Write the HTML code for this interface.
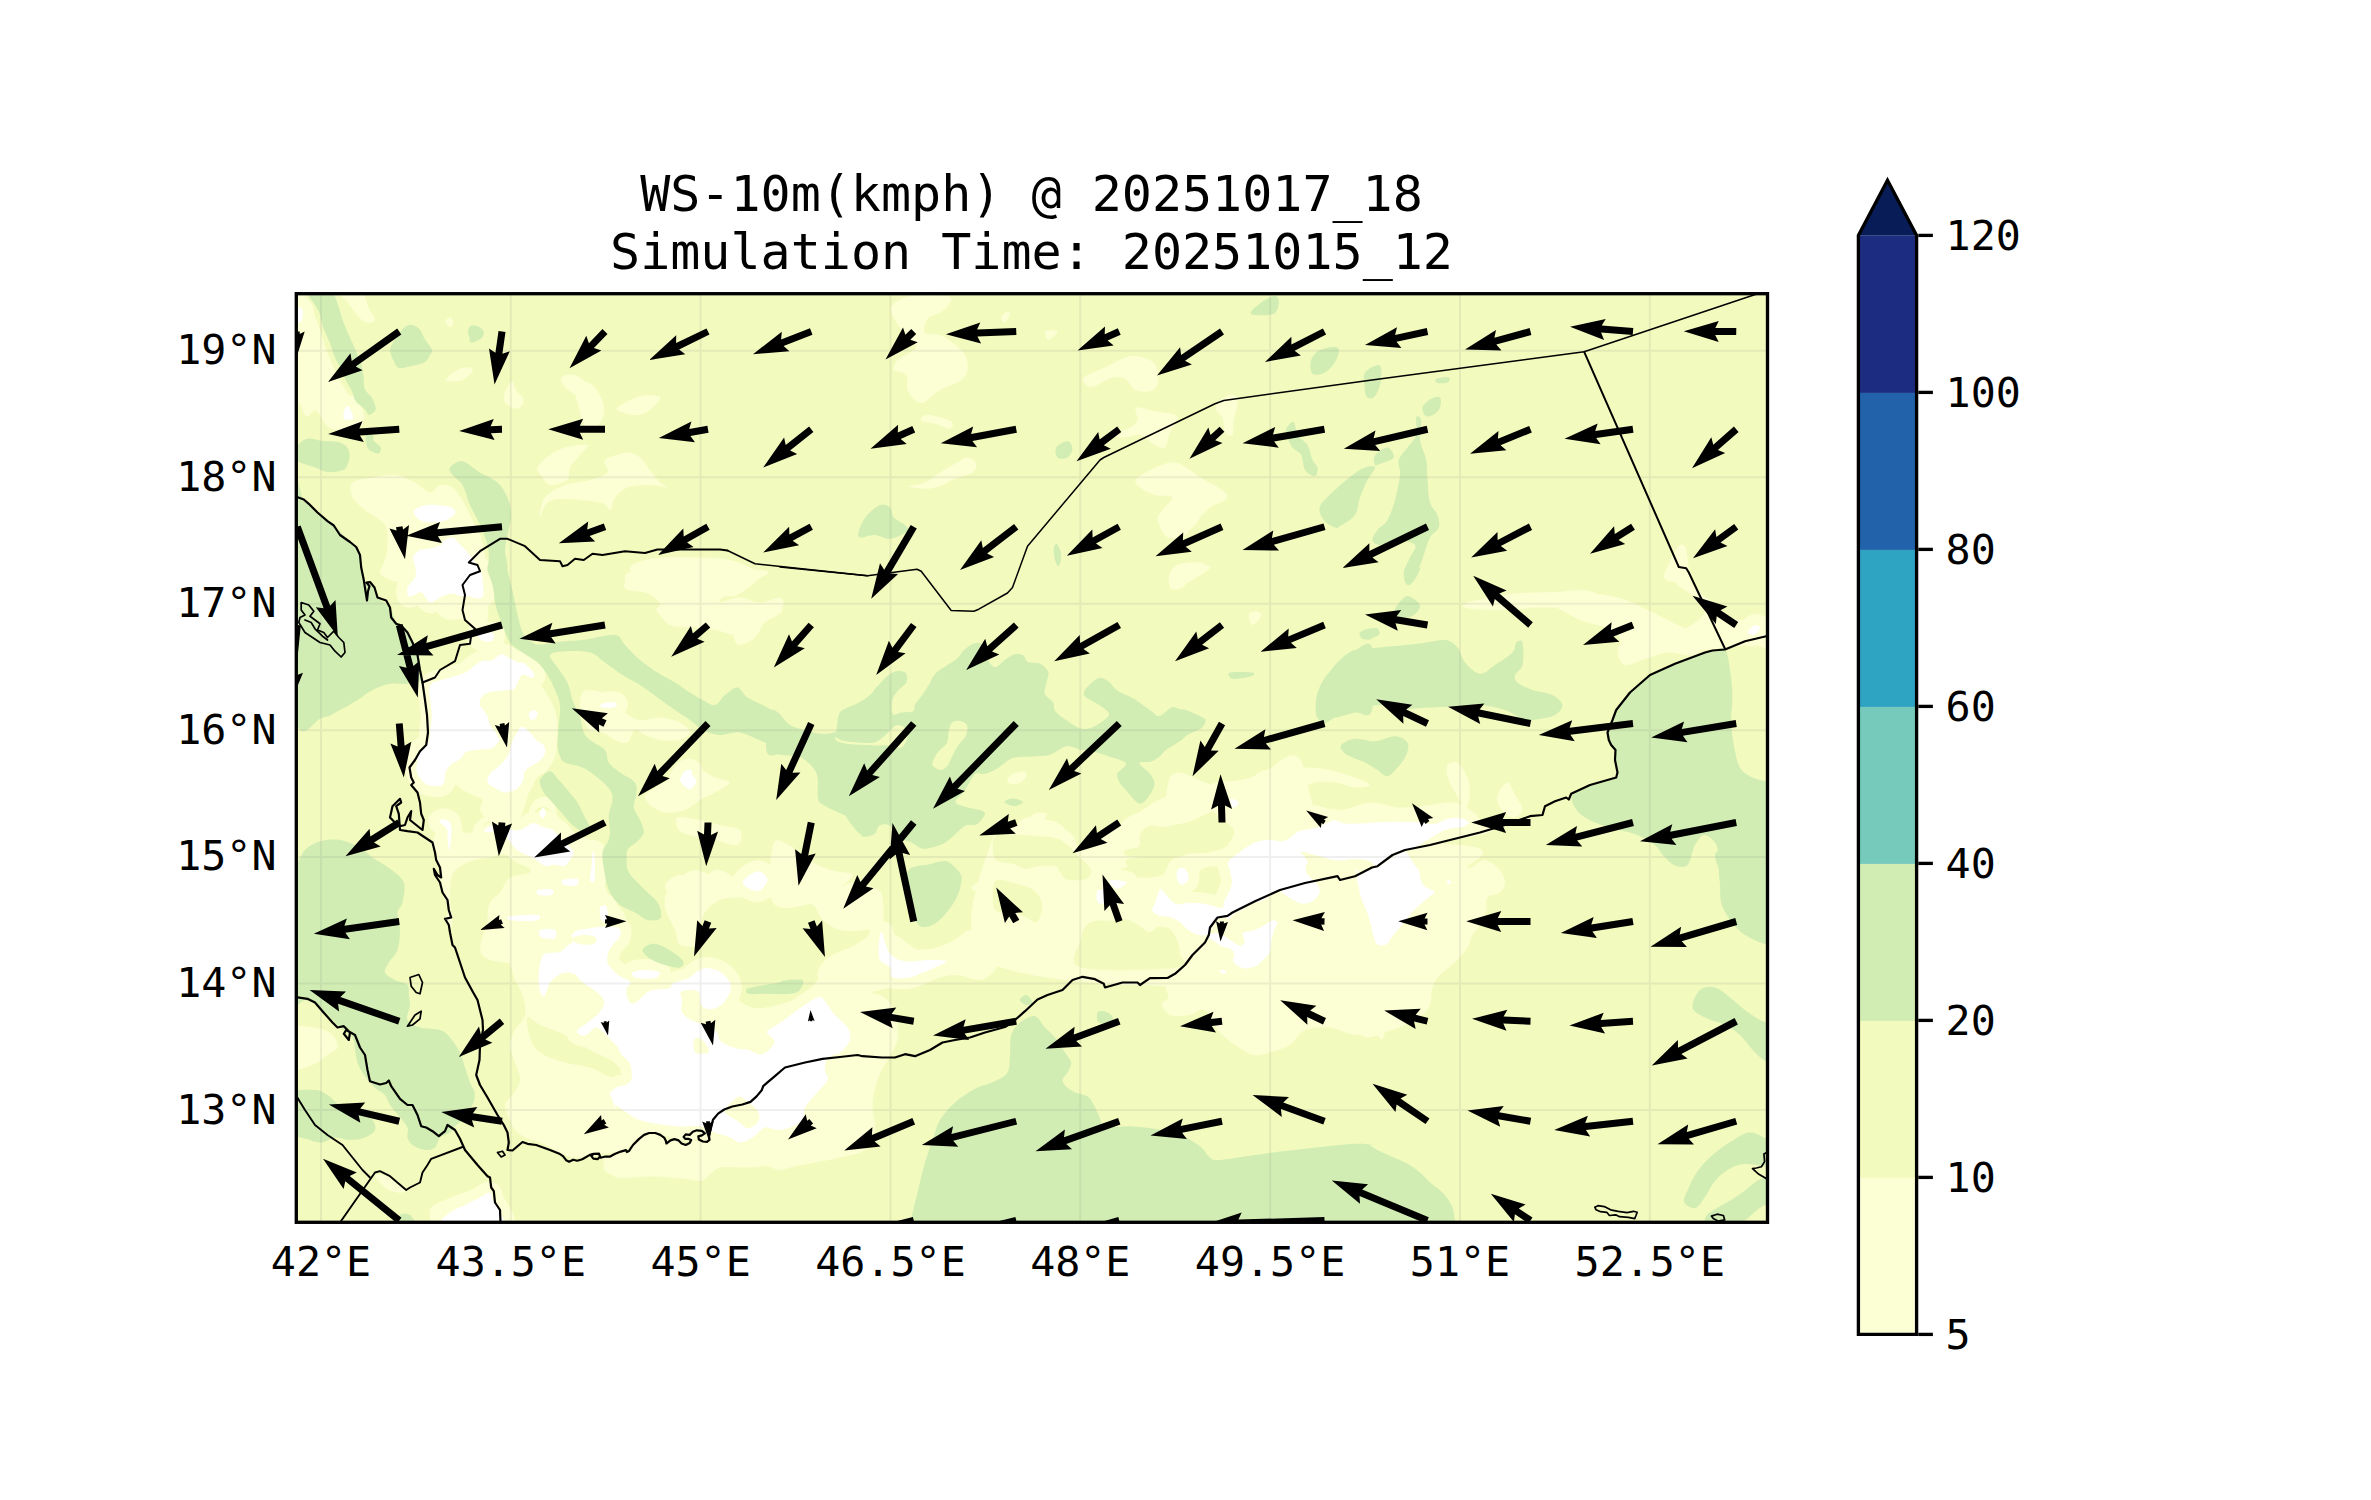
<!DOCTYPE html>
<html><head><meta charset="utf-8"><title>WS-10m(kmph)</title>
<style>html,body{margin:0;padding:0;background:#fff}svg{display:block}text{font-family:"DejaVu Sans Mono","Liberation Mono",monospace;fill:#000}</style></head>
<body>
<svg width="2371" height="1500" viewBox="0 0 2371 1500">
<rect width="2371" height="1500" fill="#fff"/>
<defs><clipPath id="ax"><rect x="296.3" y="293.7" width="1471.2" height="928.6"/></clipPath></defs>
<g clip-path="url(#ax)">
<rect x="296.3" y="293.7" width="1471.2" height="928.6" fill="#f3fabd"/>
<path fill="#fcfed3" d="M293.8 293.9C295.9 279.1 302.9 293.9 306.5 297.7C310.1 301.5 312.8 310.3 315.3 316.7C317.9 323 319.8 330 321.7 335.7C323.6 341.4 324.8 345.8 326.7 350.9C328.6 355.9 330.8 361 333.1 366.1C335.4 371.2 337.7 375.8 340.7 381.3C343.6 386.8 347.9 394 350.8 399C353.8 404.1 356.7 408.3 358.4 411.7C360.1 415.1 361.4 416.6 360.9 419.3C360.5 422 359.3 426.3 355.9 428.2C352.5 430.1 345.3 430.9 340.7 430.7C336 430.5 331.2 429 328 426.9C324.8 424.8 323.8 420.8 321.7 418C319.6 415.3 317.9 410.6 315.3 410.4C312.8 410.2 308.8 417.4 306.5 416.8C304.1 416.1 303.5 411.7 301.4 406.6C299.3 401.6 295.1 405.1 293.8 386.4C292.5 367.6 291.7 308.6 293.8 293.9ZM340.7 293.9C343.2 292.6 357.6 291.5 362.2 293.9C366.9 296.2 366.4 303.6 368.6 307.8C370.7 312 374.9 316.7 374.9 319.2C374.9 321.7 370.9 323 368.6 323C366.2 323 363.5 321.3 360.9 319.2C358.4 317.1 355.7 313.3 353.3 310.3C351 307.4 349.1 304.2 347 301.5C344.9 298.7 338.1 295.1 340.7 293.9ZM445.2 321.7C445.2 320.1 448.9 317.3 450.3 317.3C451.6 317.3 453.4 320.1 453.4 321.7C453.4 323.4 451.6 327.4 450.3 327.4C448.9 327.4 445.2 323.4 445.2 321.7ZM446.5 379.4C446.7 377.4 455.4 370.4 459.8 368.6C464.1 366.8 471.2 367.4 472.4 368.6C473.7 369.9 469.7 374.2 467.4 376.2C465 378.2 462 380.1 458.5 380.7C455 381.2 446.3 381.4 446.5 379.4ZM504.1 397.8C503.3 394.1 506.4 389.1 507.9 386.4C509.4 383.6 511.7 380.7 513 381.3C514.2 381.9 513.8 387.4 515.5 390.2C517.2 392.9 522.1 395.6 523.1 397.8C524.2 399.9 523.5 401 521.9 402.8C520.2 404.6 515.9 409.4 513 408.5C510 407.7 505 401.5 504.1 397.8ZM561.1 380C560.7 377.5 563.9 375.7 566.2 375C568.5 374.2 571.9 374.5 575.1 375.6C578.2 376.6 582 379.5 585.2 381.3C588.4 383.1 591.3 383.4 594.1 386.4C596.8 389.3 600 394.8 601.7 399C603.4 403.2 604.6 407.5 604.2 411.7C603.8 415.9 601.5 421.6 599.1 424.4C596.8 427.1 592.1 427.5 590 428.2C587.9 428.8 587.9 429.6 586.5 428.2C585 426.7 582.7 422.9 581.4 419.3C580.1 415.7 579.5 410.2 578.9 406.6C578.2 403 579.3 400.5 577.6 397.8C575.9 395 571.5 393.1 568.7 390.2C566 387.2 561.5 382.6 561.1 380ZM892.5 305C895.4 301.9 900.8 297.7 910 296.2C919.2 294.8 941 294.8 947.5 296.2C954 297.7 950 302.3 948.8 305C947.5 307.7 943.5 310.2 940 312.5C936.5 314.8 930 315.4 927.5 318.8C925 322.1 922.9 329.8 925 332.5C927.1 335.2 935.4 333.3 940 335C944.6 336.7 948.3 339.2 952.5 342.5C956.7 345.8 962.5 350.4 965 355C967.5 359.6 968.3 365.6 967.5 370C966.7 374.4 964.6 377.9 960 381.2C955.4 384.6 946 386.5 940 390C934 393.5 927.9 400.8 923.8 402.5C919.6 404.2 917.7 402.1 915 400C912.3 397.9 909 394.2 907.5 390C906 385.8 908.5 378.3 906.2 375C904 371.7 895.2 372.5 893.8 370C892.3 367.5 894.8 362.9 897.5 360C900.2 357.1 906.9 355 910 352.5C913.1 350 917.9 349.2 916.2 345C914.6 340.8 904 332.5 900 327.5C896 322.5 893.8 318.8 892.5 315C891.2 311.2 889.6 308.1 892.5 305ZM921.2 417.5C922.5 416.5 925 414.4 930 415C935 415.6 947.9 419 951.2 421.2C954.6 423.5 952.7 428.3 950 428.8C947.3 429.2 939.6 425 935 423.8C930.4 422.5 924.8 422.3 922.5 421.2C920.2 420.2 920 418.5 921.2 417.5ZM908.8 486.2C908.8 485.2 919.8 484.8 925 482.5C930.2 480.2 935 475.6 940 472.5C945 469.4 950.4 466.2 955 463.8C959.6 461.2 964 457.5 967.5 457.5C971 457.5 975.4 461.2 976.2 463.8C977.1 466.2 976 470 972.5 472.5C969 475 960.4 476.5 955 478.8C949.6 481 945 484.6 940 486.2C935 487.9 930.2 488.8 925 488.8C919.8 488.8 908.8 487.3 908.8 486.2ZM1083.8 377.5C1086.7 374.4 1097.3 371 1105 367.5C1112.7 364 1122.5 357.5 1130 356.2C1137.5 355 1145.4 357.7 1150 360C1154.6 362.3 1156.2 365.8 1157.5 370C1158.8 374.2 1158.8 381.5 1157.5 385C1156.2 388.5 1153.8 390.4 1150 391.2C1146.2 392.1 1139.2 392.1 1135 390C1130.8 387.9 1128.8 380.8 1125 378.8C1121.2 376.7 1117.1 376.5 1112.5 377.5C1107.9 378.5 1101.7 383.5 1097.5 385C1093.3 386.5 1089.8 387.5 1087.5 386.2C1085.2 385 1080.8 380.6 1083.8 377.5ZM1136.2 407.5C1139.2 406 1148.1 409.8 1155 411.2C1161.9 412.7 1175 412.7 1177.5 416.2C1180 419.8 1172.1 427.3 1170 432.5C1167.9 437.7 1167.5 445.4 1165 447.5C1162.5 449.6 1159.2 447.1 1155 445C1150.8 442.9 1145 436.2 1140 435C1135 433.8 1129.6 437.5 1125 437.5C1120.4 437.5 1111.7 436.7 1112.5 435C1113.3 433.3 1125.8 430 1130 427.5C1134.2 425 1136.5 423.3 1137.5 420C1138.5 416.7 1133.3 409 1136.2 407.5ZM1216.2 405C1217.5 401.2 1226.5 395.4 1230 395C1233.5 394.6 1236.9 398.3 1237.5 402.5C1238.1 406.7 1234.6 414.6 1233.8 420C1232.9 425.4 1234 432.9 1232.5 435C1231 437.1 1226.7 435.4 1225 432.5C1223.3 429.6 1224 422.1 1222.5 417.5C1221 412.9 1215 408.8 1216.2 405ZM1137.5 477.5C1142.5 473.3 1161.2 463.8 1170 462.5C1178.8 461.2 1184.2 466.7 1190 470C1195.8 473.3 1198.8 478.3 1205 482.5C1211.2 486.7 1226.7 490.8 1227.5 495C1228.3 499.2 1215.8 502.5 1210 507.5C1204.2 512.5 1196.7 520.4 1192.5 525C1188.3 529.6 1189.2 532.9 1185 535C1180.8 537.1 1172.1 540 1167.5 537.5C1162.9 535 1158.3 524.6 1157.5 520C1156.7 515.4 1160 513.8 1162.5 510C1165 506.2 1173.8 500 1172.5 497.5C1171.2 495 1160.4 496.7 1155 495C1149.6 493.3 1142.9 490.4 1140 487.5C1137.1 484.6 1132.5 481.7 1137.5 477.5ZM1168.8 577.5C1169.4 573.8 1171.5 568.8 1175 566.2C1178.5 563.8 1185 562.9 1190 562.5C1195 562.1 1204.6 561.7 1205 563.8C1205.4 565.8 1196.2 571 1192.5 575C1188.8 579 1186 585.2 1182.5 587.5C1179 589.8 1173.5 590.4 1171.2 588.8C1169 587.1 1168.1 581.2 1168.8 577.5ZM1250 612.5C1251.5 610.8 1260.8 612.9 1261.2 615C1261.7 617.1 1254.4 625.4 1252.5 625C1250.6 624.6 1248.5 614.2 1250 612.5ZM1001.2 317.5C1001.7 315.6 1006 311.7 1007.5 311.2C1009 310.8 1010.4 313.1 1010 315C1009.6 316.9 1006.5 322.1 1005 322.5C1003.5 322.9 1000.8 319.4 1001.2 317.5ZM1045 331.2C1046.5 329.8 1056.9 329.8 1057.5 331.2C1058.1 332.7 1050.8 340 1048.8 340C1046.7 340 1043.5 332.7 1045 331.2ZM561.2 377.5C562.9 375.4 570.6 373.8 575 375C579.4 376.2 583.8 380.8 587.5 385C591.2 389.2 595 394.6 597.5 400C600 405.4 603.3 413.3 602.5 417.5C601.7 421.7 596.2 426.2 592.5 425C588.8 423.8 582.9 415 580 410C577.1 405 577.5 398.8 575 395C572.5 391.2 567.3 390.4 565 387.5C562.7 384.6 559.6 379.6 561.2 377.5ZM617.5 407.5C620.4 404.8 632.9 397.9 640 396.2C647.1 394.6 658.3 395.2 660 397.5C661.7 399.8 653.8 407.1 650 410C646.2 412.9 642.1 414.6 637.5 415C632.9 415.4 625.8 413.8 622.5 412.5C619.2 411.2 614.6 410.2 617.5 407.5ZM446.2 378.8C448.8 376.5 460.6 368.8 465 367.5C469.4 366.2 472.9 369.2 472.5 371.2C472.1 373.3 466.2 378.3 462.5 380C458.8 381.7 452.7 381.5 450 381.2C447.3 381 443.8 381 446.2 378.8ZM505 395C506 391.7 509.2 382.9 511.2 382.5C513.3 382.1 515.4 389.2 517.5 392.5C519.6 395.8 524.2 399.8 523.8 402.5C523.3 405.2 518.1 408.8 515 408.8C511.9 408.8 506.7 404.8 505 402.5C503.3 400.2 504 398.3 505 395ZM537.5 467.5C538.8 463.8 545.4 458.3 550 455C554.6 451.7 558.8 449.2 565 447.5C571.2 445.8 585 443.8 587.5 445C590 446.2 582.9 451.2 580 455C577.1 458.8 572.1 463.3 570 467.5C567.9 471.7 570.8 477.1 567.5 480C564.2 482.9 554.2 485.4 550 485C545.8 484.6 544.6 480.4 542.5 477.5C540.4 474.6 536.2 471.2 537.5 467.5ZM605 460C608.3 456.7 621.7 452.9 627.5 452.5C633.3 452.1 636.2 454.6 640 457.5C643.8 460.4 646.7 465.8 650 470C653.3 474.2 657.1 479.6 660 482.5C662.9 485.4 669.2 487.1 667.5 487.5C665.8 487.9 656.7 485 650 485C643.3 485 633.3 485.4 627.5 487.5C621.7 489.6 617.9 493.8 615 497.5C612.1 501.2 612.5 509.2 610 510C607.5 510.8 609.6 504.2 600 502.5C590.4 500.8 562.5 497.5 552.5 500C542.5 502.5 541.2 517.9 540 517.5C538.8 517.1 540.8 502.9 545 497.5C549.2 492.1 557.5 487.9 565 485C572.5 482.1 582.9 482.1 590 480C597.1 477.9 605 475.8 607.5 472.5C610 469.2 601.7 463.3 605 460ZM630 567.5C630.8 563.8 639.2 561.7 645 560C650.8 558.3 656.7 557.9 665 557.5C673.3 557.1 684.2 557.1 695 557.5C705.8 557.9 719.6 557.5 730 560C740.4 562.5 755.8 569.2 757.5 572.5C759.2 575.8 747.1 577.1 740 580C732.9 582.9 723.3 587.9 715 590C706.7 592.1 698.3 592.9 690 592.5C681.7 592.1 673.3 589.2 665 587.5C656.7 585.8 645.8 585.8 640 582.5C634.2 579.2 629.2 571.2 630 567.5ZM657.5 607.5C660.8 605.4 672.9 602.5 680 602.5C687.1 602.5 693.3 607.5 700 607.5C706.7 607.5 713.3 604.2 720 602.5C726.7 600.8 733.3 597.5 740 597.5C746.7 597.5 753.3 602.5 760 602.5C766.7 602.5 776.2 596.7 780 597.5C783.8 598.3 785 604.2 782.5 607.5C780 610.8 770.8 613.8 765 617.5C759.2 621.2 752.5 627.1 747.5 630C742.5 632.9 740.4 635 735 635C729.6 635 722.5 631.2 715 630C707.5 628.8 697.5 628.3 690 627.5C682.5 626.7 675 627.1 670 625C665 622.9 662.1 617.9 660 615C657.9 612.1 654.2 609.6 657.5 607.5ZM352.5 482.5C355.8 479.2 365.4 478.8 372.5 477.5C379.6 476.2 387.9 474.2 395 475C402.1 475.8 409.2 479.6 415 482.5C420.8 485.4 425.8 492.1 430 492.5C434.2 492.9 436.2 485.8 440 485C443.8 484.2 448.8 485 452.5 487.5C456.2 490 459.6 495.4 462.5 500C465.4 504.6 467.1 509.2 470 515C472.9 520.8 477.5 528.3 480 535C482.5 541.7 483.8 549.2 485 555C486.2 560.8 487.1 562.9 487.5 570C487.9 577.1 487.5 589.2 487.5 597.5C487.5 605.8 489.4 614.8 487.5 620C485.6 625.2 480 628.8 476.2 628.8C472.5 628.8 470.2 621.7 465 620C459.8 618.3 450.8 621.2 445 618.8C439.2 616.2 435 608.5 430 605C425 601.5 418.8 600.8 415 597.5C411.2 594.2 411.7 587.9 407.5 585C403.3 582.1 394.6 582.1 390 580C385.4 577.9 380.8 575.8 380 572.5C379.2 569.2 383.8 564.6 385 560C386.2 555.4 387.5 550.8 387.5 545C387.5 539.2 388.8 530.8 385 525C381.2 519.2 370.4 514.6 365 510C359.6 505.4 354.6 502.1 352.5 497.5C350.4 492.9 349.2 485.8 352.5 482.5ZM425 682.5C427.2 676.7 434.2 682.1 440 680C445.8 677.9 453.3 672.9 460 670C466.7 667.1 472.9 665.4 480 662.5C487.1 659.6 496.7 652.9 502.5 652.5C508.3 652.1 510.4 656.7 515 660C519.6 663.3 525.4 667.9 530 672.5C534.6 677.1 538.3 681.2 542.5 687.5C546.7 693.8 552.5 702.5 555 710C557.5 717.5 557.5 725 557.5 732.5C557.5 740 556.7 748.8 555 755C553.3 761.2 550.4 766.2 547.5 770C544.6 773.8 540.4 774.2 537.5 777.5C534.6 780.8 532.1 785.4 530 790C527.9 794.6 526.7 800.4 525 805C523.3 809.6 522.5 814.6 520 817.5C517.5 820.4 515 822.1 510 822.5C505 822.9 495 822.1 490 820C485 817.9 481.2 813.3 480 810C478.8 806.7 483.8 802.5 482.5 800C481.2 797.5 475.8 796.7 472.5 795C469.2 793.3 465.4 791.7 462.5 790C459.6 788.3 458.8 785.6 455 785C451.2 784.4 444.2 786.2 440 786.2C435.8 786.2 433.3 787.7 430 785C426.7 782.3 422.5 774.2 420 770C417.5 765.8 414 764.2 415 760C416 755.8 424.1 749.6 426.2 745C428.4 740.4 427.9 737.5 428 732.5C428.1 727.5 427.5 723.3 427 715C426.5 706.7 422.8 688.3 425 682.5ZM440 820C442.5 818.8 448.3 820.4 452.5 822.5C456.7 824.6 460.4 831.2 465 832.5C469.6 833.8 475.8 831.7 480 830C484.2 828.3 485 823.3 490 822.5C495 821.7 503.8 825.4 510 825C516.2 824.6 522.5 822.5 527.5 820C532.5 817.5 535.8 811.2 540 810C544.2 808.8 548.3 810.4 552.5 812.5C556.7 814.6 560.8 818.8 565 822.5C569.2 826.2 573.3 832.1 577.5 835C581.7 837.9 585.8 837.1 590 840C594.2 842.9 600.4 847.5 602.5 852.5C604.6 857.5 601.9 863.8 602.5 870C603.1 876.2 604.2 884.6 606.2 890C608.3 895.4 611.9 898.3 615 902.5C618.1 906.7 623.8 910.4 625 915C626.2 919.6 624.2 925 622.5 930C620.8 935 617.1 940 615 945C612.9 950 630.8 957.5 610 960C589.2 962.5 510.4 966.7 490 960C469.6 953.3 487.5 929.6 487.5 920C487.5 910.4 487.9 907.1 490 902.5C492.1 897.9 496.7 896.7 500 892.5C503.3 888.3 505 880.8 510 877.5C515 874.2 527.5 875 530 872.5C532.5 870 529.2 865.4 525 862.5C520.8 859.6 510.8 855.8 505 855C499.2 854.2 495 856.7 490 857.5C485 858.3 479.6 858.8 475 860C470.4 861.2 466.2 862.5 462.5 865C458.8 867.5 454.6 870 452.5 875C450.4 880 450 887.5 450 895C450 902.5 452.5 914.2 452.5 920C452.5 925.8 451.2 930.2 450 930C448.8 929.8 445.2 922.1 445 918.8C444.8 915.4 449.2 914.4 448.8 910C448.3 905.6 444 899.6 442.5 892.5C441 885.4 441 872.9 440 867.5C439 862.1 437.5 864.2 436.2 860C435 855.8 432.3 847.5 432.5 842.5C432.7 837.5 436.2 833.8 437.5 830C438.8 826.2 437.5 821.2 440 820ZM581.2 695C582.5 692.1 584 690.4 587.5 690C591 689.6 597.5 690.8 602.5 692.5C607.5 694.2 613.8 696.7 617.5 700C621.2 703.3 621.2 709.2 625 712.5C628.8 715.8 634.2 719.2 640 720C645.8 720.8 653.3 717.1 660 717.5C666.7 717.9 675 720 680 722.5C685 725 690 729.6 690 732.5C690 735.4 685 738.8 680 740C675 741.2 665.8 740.8 660 740C654.2 739.2 649.2 736.7 645 735C640.8 733.3 637.9 728.8 635 730C632.1 731.2 630.8 740.8 627.5 742.5C624.2 744.2 619.2 741.7 615 740C610.8 738.3 606.7 734.2 602.5 732.5C598.3 730.8 593.1 732.1 590 730C586.9 727.9 585.4 723.8 583.8 720C582.1 716.2 580.4 711.7 580 707.5C579.6 703.3 580 697.9 581.2 695ZM645 795C646.7 791.7 654.2 789.2 660 785C665.8 780.8 675 774.2 680 770C685 765.8 686.2 760 690 760C693.8 760 698.3 767.1 702.5 770C706.7 772.9 710.4 775.4 715 777.5C719.6 779.6 730 780 730 782.5C730 785 720 789.6 715 792.5C710 795.4 705 797.1 700 800C695 802.9 690.8 807.9 685 810C679.2 812.1 670.8 813.3 665 812.5C659.2 811.7 653.3 807.9 650 805C646.7 802.1 643.3 798.3 645 795ZM625 582.5C627.1 579.2 617.5 572.1 640 570C662.5 567.9 740.4 568.3 760 570C779.6 571.7 761.2 575.8 757.5 580C753.8 584.2 743.3 592.1 737.5 595C731.7 597.9 726.2 595 722.5 597.5C718.8 600 718.8 606.7 715 610C711.2 613.3 705.8 615.4 700 617.5C694.2 619.6 685.8 622.9 680 622.5C674.2 622.1 668.8 618.8 665 615C661.2 611.2 660.8 603.8 657.5 600C654.2 596.2 650 594.2 645 592.5C640 590.8 630.8 591.7 627.5 590C624.2 588.3 622.9 585.8 625 582.5ZM735 627.5C737.3 624.2 742.5 620.8 747.5 617.5C752.5 614.2 759.6 610 765 607.5C770.4 605 777.3 601.7 780 602.5C782.7 603.3 783.8 609.2 781.2 612.5C778.8 615.8 769.4 618.3 765 622.5C760.6 626.7 759.2 633.8 755 637.5C750.8 641.2 743.5 645 740 645C736.5 645 734.6 640.4 733.8 637.5C732.9 634.6 732.7 630.8 735 627.5ZM667.5 890C670 885 675.4 880.8 680 877.5C684.6 874.2 689.2 870 695 870C700.8 870 709.2 875 715 877.5C720.8 880 724.6 885 730 885C735.4 885 741.7 879.6 747.5 877.5C753.3 875.4 759.6 871.2 765 872.5C770.4 873.8 774.2 881.7 780 885C785.8 888.3 794.2 890.4 800 892.5C805.8 894.6 810 897.5 815 897.5C820 897.5 823.8 895 830 892.5C836.2 890 845.4 883.3 852.5 882.5C859.6 881.7 867.6 885.4 872.5 887.5C877.4 889.6 880.4 888.8 882 895C883.6 901.2 884.8 919.2 882 925C879.2 930.8 872 929.2 865 930C858 930.8 847.1 931.7 840 930C832.9 928.3 827.1 924.2 822.5 920C817.9 915.8 817.9 907.9 812.5 905C807.1 902.1 797.9 903.8 790 902.5C782.1 901.2 773.3 898.3 765 897.5C756.7 896.7 747.5 897.1 740 897.5C732.5 897.9 725.8 897.5 720 900C714.2 902.5 708.3 907.5 705 912.5C701.7 917.5 700.8 924.6 700 930C699.2 935.4 703.3 942.5 700 945C696.7 947.5 684.2 947.5 680 945C675.8 942.5 677.5 936.2 675 930C672.5 923.8 666.2 914.2 665 907.5C663.8 900.8 665 895 667.5 890ZM677.5 817.5C681 815.8 692.9 818.8 700 820C707.1 821.2 713.3 823.3 720 825C726.7 826.7 737.1 826.7 740 830C742.9 833.3 741.7 843.3 737.5 845C733.3 846.7 722.9 841.7 715 840C707.1 838.3 696 836.7 690 835C684 833.3 680.8 832.9 678.8 830C676.7 827.1 674 819.2 677.5 817.5ZM985 880C985.8 875 990 868.3 995 865C1000 861.7 1009.2 859.2 1015 860C1020.8 860.8 1025.8 865.8 1030 870C1034.2 874.2 1037.9 879.2 1040 885C1042.1 890.8 1043.3 898.8 1042.5 905C1041.7 911.2 1037.9 921.2 1035 922.5C1032.1 923.8 1030 916.2 1025 912.5C1020 908.8 1010.8 902.9 1005 900C999.2 897.1 993.3 898.3 990 895C986.7 891.7 984.2 885 985 880ZM837.5 952.5C842.5 950 847.9 948.8 855 945C862.1 941.2 872.5 931.2 880 930C887.5 928.8 893.3 934.2 900 937.5C906.7 940.8 911.7 949.2 920 950C928.3 950.8 941.7 945.8 950 942.5C958.3 939.2 963.3 930.8 970 930C976.7 929.2 985 933.3 990 937.5C995 941.7 999.2 949.6 1000 955C1000.8 960.4 998.3 965.8 995 970C991.7 974.2 986.7 979.2 980 980C973.3 980.8 963.3 975 955 975C946.7 975 938.3 978.3 930 980C921.7 981.7 913.3 983.3 905 985C896.7 986.7 888.3 988.3 880 990C871.7 991.7 863.3 995 855 995C846.7 995 836.2 993.3 830 990C823.8 986.7 818.3 980 817.5 975C816.7 970 821.7 963.8 825 960C828.3 956.2 832.5 955 837.5 952.5ZM1090 942.5C1091.2 940 1097.9 938.8 1102.5 940C1107.1 941.2 1114.6 946.7 1117.5 950C1120.4 953.3 1121.7 957.9 1120 960C1118.3 962.1 1111.7 963.3 1107.5 962.5C1103.3 961.7 1097.9 958.3 1095 955C1092.1 951.7 1088.8 945 1090 942.5ZM1155 855C1169.2 852.5 1217.9 850.8 1230 855C1242.1 859.2 1231.7 871.7 1227.5 880C1223.3 888.3 1207.9 897.1 1205 905C1202.1 912.9 1210 921.2 1210 927.5C1210 933.8 1207.9 937.9 1205 942.5C1202.1 947.1 1195.8 951.2 1192.5 955C1189.2 958.8 1187.9 961.9 1185 965C1182.1 968.1 1177.9 971.6 1175 973.8C1172.1 975.9 1170.8 979.9 1167.5 978C1164.2 976.1 1157.9 969.2 1155 962.5C1152.1 955.8 1150 946.7 1150 937.5C1150 928.3 1156.2 915.4 1155 907.5C1153.8 899.6 1144.2 896.2 1142.5 890C1140.8 883.8 1142.9 875.8 1145 870C1147.1 864.2 1140.8 857.5 1155 855ZM1162.5 1002.5C1164.2 999.2 1174.2 997.9 1180 995C1185.8 992.1 1192.5 988.3 1197.5 985C1202.5 981.7 1204.6 977.1 1210 975C1215.4 972.9 1222.5 972.5 1230 972.5C1237.5 972.5 1248.3 977.1 1255 975C1261.7 972.9 1267.5 966.2 1270 960C1272.5 953.8 1268.8 943.8 1270 937.5C1271.2 931.2 1271.7 926.7 1277.5 922.5C1283.3 918.3 1296.2 915.4 1305 912.5C1313.8 909.6 1321.7 907.1 1330 905C1338.3 902.9 1348 901.2 1355 900C1362 898.8 1367 897.9 1372 897.5C1377 897.1 1382.8 875.4 1385 897.5C1387.2 919.6 1387.2 1007.9 1385 1030C1382.8 1052.1 1377 1029.2 1372 1030C1367 1030.8 1362 1035.4 1355 1035C1348 1034.6 1338.3 1028.3 1330 1027.5C1321.7 1026.7 1311.7 1027.1 1305 1030C1298.3 1032.9 1295.8 1041.2 1290 1045C1284.2 1048.8 1275.8 1050.8 1270 1052.5C1264.2 1054.2 1260.8 1056.2 1255 1055C1249.2 1053.8 1241.2 1049.2 1235 1045C1228.8 1040.8 1222.5 1035.8 1217.5 1030C1212.5 1024.2 1209.6 1012.5 1205 1010C1200.4 1007.5 1195.8 1014.2 1190 1015C1184.2 1015.8 1174.6 1017.1 1170 1015C1165.4 1012.9 1160.8 1005.8 1162.5 1002.5ZM770 1070C775.8 1053.8 795.8 1063.8 805 1062.5C814.2 1061.2 818.8 1063.1 825 1062.5C831.2 1061.9 836.2 1059.6 842.5 1058.8C848.8 1057.9 860.4 1054 862.5 1057.5C864.6 1061 857.9 1072.1 855 1080C852.1 1087.9 849.2 1097.5 845 1105C840.8 1112.5 834.6 1117.5 830 1125C825.4 1132.5 821.7 1145 817.5 1150C813.3 1155 812.9 1153.3 805 1155C797.1 1156.7 775.8 1174.2 770 1160C764.2 1145.8 764.2 1086.2 770 1070ZM1170 845C1218.3 818.3 1410.4 841.2 1460 845C1509.6 848.8 1463.3 865 1467.5 867.5C1471.7 870 1479.6 859.6 1485 860C1490.4 860.4 1496.7 866.2 1500 870C1503.3 873.8 1505 878.8 1505 882.5C1505 886.2 1502.9 890 1500 892.5C1497.1 895 1489.8 894.6 1487.5 897.5C1485.2 900.4 1487.5 905.4 1486.2 910C1485 914.6 1482.3 920.8 1480 925C1477.7 929.2 1474.6 931.2 1472.5 935C1470.4 938.8 1470.4 942.9 1467.5 947.5C1464.6 952.1 1459.6 957.9 1455 962.5C1450.4 967.1 1443.8 970.8 1440 975C1436.2 979.2 1434.2 982.5 1432.5 987.5C1430.8 992.5 1432.1 1000 1430 1005C1427.9 1010 1424.2 1014.2 1420 1017.5C1415.8 1020.8 1410.8 1022.5 1405 1025C1399.2 1027.5 1391.2 1030.4 1385 1032.5C1378.8 1034.6 1372.5 1037.9 1367.5 1037.5C1362.5 1037.1 1358.8 1033.8 1355 1030C1351.2 1026.2 1349.2 1019.2 1345 1015C1340.8 1010.8 1334.2 1006.5 1330 1005C1325.8 1003.5 1324.2 1004.6 1320 1006.2C1315.8 1007.9 1309.6 1010.2 1305 1015C1300.4 1019.8 1296.7 1029.6 1292.5 1035C1288.3 1040.4 1286.2 1044.2 1280 1047.5C1273.8 1050.8 1261.7 1055 1255 1055C1248.3 1055 1245 1050.8 1240 1047.5C1235 1044.2 1229.6 1040.4 1225 1035C1220.4 1029.6 1215.8 1020 1212.5 1015C1209.2 1010 1208.8 1008.1 1205 1005C1201.2 1001.9 1195.8 996.2 1190 996.2C1184.2 996.2 1173.3 1030.2 1170 1005C1166.7 979.8 1121.7 871.7 1170 845ZM1275 780C1275 775.8 1280 772.1 1285 770C1290 767.9 1297.5 767.5 1305 767.5C1312.5 767.5 1321.7 768.3 1330 770C1338.3 771.7 1348.3 775 1355 777.5C1361.7 780 1370 783.3 1370 785C1370 786.7 1360.8 787.9 1355 787.5C1349.2 787.1 1341.7 783.3 1335 782.5C1328.3 781.7 1321.2 781.2 1315 782.5C1308.8 783.8 1302.5 787.9 1297.5 790C1292.5 792.1 1288.8 796.7 1285 795C1281.2 793.3 1275 784.2 1275 780ZM1447.5 765C1449.2 762.5 1454.2 760.4 1457.5 762.5C1460.8 764.6 1465.4 772.1 1467.5 777.5C1469.6 782.9 1470.4 790 1470 795C1469.6 800 1467.5 807.9 1465 807.5C1462.5 807.1 1457.9 797.5 1455 792.5C1452.1 787.5 1448.8 782.1 1447.5 777.5C1446.2 772.9 1445.8 767.5 1447.5 765ZM1497.5 795C1498.8 790.8 1504.6 782.5 1507.5 782.5C1510.4 782.5 1512.5 790.4 1515 795C1517.5 799.6 1522.9 806.2 1522.5 810C1522.1 813.8 1516.2 817.9 1512.5 817.5C1508.8 817.1 1502.5 811.2 1500 807.5C1497.5 803.8 1496.2 799.2 1497.5 795ZM1170 777.5C1175.8 765 1195 779.6 1205 782.5C1215 785.4 1224.6 791.2 1230 795C1235.4 798.8 1235.8 799.2 1237.5 805C1239.2 810.8 1243.3 823.3 1240 830C1236.7 836.7 1229.2 840.4 1217.5 845C1205.8 849.6 1177.9 868.8 1170 857.5C1162.1 846.2 1164.2 790 1170 777.5ZM1467.5 602.5C1471.7 600.4 1493.8 596.7 1505 595C1516.2 593.3 1522.5 592.9 1535 592.5C1547.5 592.1 1566.2 591.7 1580 592.5C1593.8 593.3 1607.1 595 1617.5 597.5C1627.9 600 1634.2 603.8 1642.5 607.5C1650.8 611.2 1659.2 615.8 1667.5 620C1675.8 624.2 1686.2 628.3 1692.5 632.5C1698.8 636.7 1705 641.2 1705 645C1705 648.8 1698.8 653.8 1692.5 655C1686.2 656.2 1675.8 651.7 1667.5 652.5C1659.2 653.3 1649.6 657.9 1642.5 660C1635.4 662.1 1629.2 666.2 1625 665C1620.8 663.8 1618.3 657.1 1617.5 652.5C1616.7 647.9 1622.1 641.7 1620 637.5C1617.9 633.3 1611.7 630.4 1605 627.5C1598.3 624.6 1588.3 623.3 1580 620C1571.7 616.7 1563.3 610 1555 607.5C1546.7 605 1538.3 605.4 1530 605C1521.7 604.6 1513.3 604.6 1505 605C1496.7 605.4 1486.2 607.9 1480 607.5C1473.8 607.1 1463.3 604.6 1467.5 602.5ZM1225 865C1226.2 855.8 1232.5 847.5 1237.5 840C1242.5 832.5 1247.9 825 1255 820C1262.1 815 1270.8 812.5 1280 810C1289.2 807.5 1300 805 1310 805C1320 805 1330 810.4 1340 810C1350 809.6 1360 802.9 1370 802.5C1380 802.1 1390 807.1 1400 807.5C1410 807.9 1420.8 805.8 1430 805C1439.2 804.2 1448.3 801.7 1455 802.5C1461.7 803.3 1465.8 807.1 1470 810C1474.2 812.9 1476.2 816.7 1480 820C1483.8 823.3 1492.5 827.5 1492.5 830C1492.5 832.5 1486.2 833.3 1480 835C1473.8 836.7 1463.3 837.9 1455 840C1446.7 842.1 1438.3 845.4 1430 847.5C1421.7 849.6 1413.3 848.8 1405 852.5C1396.7 856.2 1388.3 865.4 1380 870C1371.7 874.6 1367.5 877.5 1355 880C1342.5 882.5 1321.7 881.2 1305 885C1288.3 888.8 1267.5 900.8 1255 902.5C1242.5 904.2 1235 901.2 1230 895C1225 888.8 1223.8 874.2 1225 865ZM1616.2 753.8C1617.5 752.5 1624 757.3 1625 760C1626 762.7 1623.8 768.8 1622.5 770C1621.2 771.2 1618.5 770.2 1617.5 767.5C1616.5 764.8 1615 755 1616.2 753.8ZM1467.5 603.8C1477.5 601.7 1511.2 598.5 1530 596.2C1548.8 594 1567.5 589.8 1580 590C1592.5 590.2 1594.6 592.9 1605 597.5C1615.4 602.1 1635 612.5 1642.5 617.5C1650 622.5 1645.4 624.6 1650 627.5C1654.6 630.4 1662.5 635.8 1670 635C1677.5 634.2 1689.2 626.7 1695 622.5C1700.8 618.3 1705 614.2 1705 610C1705 605.8 1699.6 601.7 1695 597.5C1690.4 593.3 1680.6 587.5 1677.5 585C1674.4 582.5 1678.1 583.3 1676.2 582.5C1674.4 581.7 1668.1 581.7 1666.2 580C1664.4 578.3 1663.1 577.9 1665 572.5C1666.9 567.1 1674.2 551.9 1677.5 547.5C1680.8 543.1 1683.3 544.6 1685 546.2C1686.7 547.9 1686.2 551 1687.5 557.5C1688.8 564 1688.8 577.9 1692.5 585C1696.2 592.1 1703.8 594.6 1710 600C1716.2 605.4 1722.5 614.2 1730 617.5C1737.5 620.8 1747.5 620 1755 620C1762.5 620 1771.7 612.5 1775 617.5C1778.3 622.5 1778.3 645.4 1775 650C1771.7 654.6 1762.5 645.4 1755 645C1747.5 644.6 1738.3 646.7 1730 647.5C1721.7 648.3 1713.3 649.2 1705 650C1696.7 650.8 1688.3 653.3 1680 652.5C1671.7 651.7 1663.3 647.9 1655 645C1646.7 642.1 1638.3 639.2 1630 635C1621.7 630.8 1613.3 624.2 1605 620C1596.7 615.8 1590.4 612.1 1580 610C1569.6 607.9 1555 607.5 1542.5 607.5C1530 607.5 1517.1 609.8 1505 610C1492.9 610.2 1476.2 609.8 1470 608.8C1463.8 607.7 1457.5 605.8 1467.5 603.8ZM1175 467.5C1179.2 458.3 1191.2 472.7 1200 477.5C1208.8 482.3 1226.7 490.8 1227.5 496.2C1228.3 501.7 1210.4 505.2 1205 510C1199.6 514.8 1200 521.2 1195 525C1190 528.8 1178.3 542.1 1175 532.5C1171.7 522.9 1170.8 476.7 1175 467.5ZM1175 567.5C1180.8 564 1207.1 564.2 1210 566.2C1212.9 568.3 1198.3 576.5 1192.5 580C1186.7 583.5 1177.9 589.6 1175 587.5C1172.1 585.4 1169.2 571 1175 567.5ZM1216.2 407.5C1217.9 403.8 1229 395.8 1232.5 395C1236 394.2 1237.3 398.3 1237.5 402.5C1237.7 406.7 1234.6 414.6 1233.8 420C1232.9 425.4 1234 432.9 1232.5 435C1231 437.1 1226.7 435.4 1225 432.5C1223.3 429.6 1224 421.7 1222.5 417.5C1221 413.3 1214.6 411.2 1216.2 407.5ZM1248.8 615C1249.2 612.7 1252.9 611.2 1255 611.2C1257.1 611.2 1261.7 612.7 1261.2 615C1260.8 617.3 1254.6 625 1252.5 625C1250.4 625 1248.3 617.3 1248.8 615ZM290 1030C294.2 1023.3 307.9 1026.7 315 1027.5C322.1 1028.3 328.8 1031.7 332.5 1035C336.2 1038.3 338.3 1044.2 337.5 1047.5C336.7 1050.8 331.7 1052.1 327.5 1055C323.3 1057.9 318.8 1062.9 312.5 1065C306.2 1067.1 293.8 1073.3 290 1067.5C286.2 1061.7 285.8 1036.7 290 1030ZM375 1175C375.8 1173.3 385 1175 390 1177.5C395 1180 403.8 1187.5 405 1190C406.2 1192.5 400.8 1192.9 397.5 1192.5C394.2 1192.1 388.8 1190.4 385 1187.5C381.2 1184.6 374.2 1176.7 375 1175ZM430 1210C430.8 1205 439.2 1202.9 445 1200C450.8 1197.1 459.2 1194.2 465 1192.5C470.8 1190.8 475.8 1190 480 1190C484.2 1190 486.7 1189.2 490 1192.5C493.3 1195.8 498.2 1203.8 500 1210C501.8 1216.2 510.5 1226.7 500.5 1230C490.5 1233.3 451.8 1233.3 440 1230C428.2 1226.7 429.2 1215 430 1210ZM665 885C665.8 881.2 674.2 875.8 680 875C685.8 874.2 694.2 880.8 700 880C705.8 879.2 710 870.8 715 870C720 869.2 725.8 871.7 730 875C734.2 878.3 740.8 886.7 740 890C739.2 893.3 730.8 894.2 725 895C719.2 895.8 710.8 893.8 705 895C699.2 896.2 695 902.1 690 902.5C685 902.9 679.2 900.4 675 897.5C670.8 894.6 664.2 888.8 665 885ZM515 937.5C523.3 937.5 531.7 944.6 540 945C548.3 945.4 556.7 942.1 565 940C573.3 937.9 582.1 932.9 590 932.5C597.9 932.1 607.5 932.9 612.5 937.5C617.5 942.1 615.4 954.2 620 960C624.6 965.8 632.5 969.2 640 972.5C647.5 975.8 656.7 979.6 665 980C673.3 980.4 684.2 977.5 690 975C695.8 972.5 695 967.1 700 965C705 962.9 714.2 960.8 720 962.5C725.8 964.2 732.5 969.6 735 975C737.5 980.4 732.1 989.6 735 995C737.9 1000.4 745.4 1005.8 752.5 1007.5C759.6 1009.2 769.2 1007.1 777.5 1005C785.8 1002.9 794.2 1000.4 802.5 995C810.8 989.6 819.2 975.8 827.5 972.5C835.8 969.2 846.2 972.1 852.5 975C858.8 977.9 859.6 986.2 865 990C870.4 993.8 880 993.3 885 997.5C890 1001.7 892.9 1007.9 895 1015C897.1 1022.1 898.8 1032.5 897.5 1040C896.2 1047.5 890.8 1053.3 887.5 1060C884.2 1066.7 880 1072.5 877.5 1080C875 1087.5 872.9 1096.7 872.5 1105C872.1 1113.3 876.2 1122.5 875 1130C873.8 1137.5 870.8 1145.4 865 1150C859.2 1154.6 848.3 1155.4 840 1157.5C831.7 1159.6 823.3 1160.8 815 1162.5C806.7 1164.2 795.8 1166.2 790 1167.5C784.2 1168.8 784.2 1170.4 780 1170C775.8 1169.6 771.7 1167.9 765 1165C758.3 1162.1 745.8 1155.4 740 1152.5C734.2 1149.6 734.2 1149.2 730 1147.5C725.8 1145.8 720 1143.8 715 1142.5C710 1141.2 705.8 1140.4 700 1140C694.2 1139.6 685.8 1140.8 680 1140C674.2 1139.2 670 1136.2 665 1135C660 1133.8 654.6 1131.9 650 1132.5C645.4 1133.1 641.7 1135.8 637.5 1138.8C633.3 1141.7 630.4 1147.5 625 1150C619.6 1152.5 612.5 1152.5 605 1153.8C597.5 1155 586.7 1157.3 580 1157.5C573.3 1157.7 571.7 1157.5 565 1155C558.3 1152.5 546.7 1145.4 540 1142.5C533.3 1139.6 529.2 1139.6 525 1137.5C520.8 1135.4 517.5 1132.9 515 1130C512.5 1127.1 511.7 1124.2 510 1120C508.3 1115.8 504.6 1109.2 505 1105C505.4 1100.8 510 1099.2 512.5 1095C515 1090.8 519.6 1085.4 520 1080C520.4 1074.6 516.7 1068.3 515 1062.5C513.3 1056.7 510 1050.4 510 1045C510 1039.6 512.5 1035 515 1030C517.5 1025 523.8 1020.8 525 1015C526.2 1009.2 524.2 1000.8 522.5 995C520.8 989.2 517.5 985.8 515 980C512.5 974.2 511.7 965.8 507.5 960C503.3 954.2 488.8 948.8 490 945C491.2 941.2 506.7 937.5 515 937.5ZM994.9 829.5C998.9 806.3 1011.8 827.2 1019 825.7C1026.2 824.3 1032.7 821.1 1038 820.7C1043.3 820.3 1045.2 821.1 1050.7 823.2C1056.2 825.3 1065.9 828.7 1070.9 833.3C1076 838 1076.9 847.1 1081.1 851.1C1085.3 855.1 1090.8 857.2 1096.3 857.4C1101.8 857.6 1109 855.1 1114 852.4C1119.1 849.6 1122.5 845.2 1126.7 840.9C1130.9 836.7 1135.1 830.4 1139.4 827C1143.6 823.6 1147.8 823 1152 820.7C1156.3 818.4 1160.5 816 1164.7 813.1C1168.9 810.1 1176.5 806.1 1177.4 802.9C1178.2 799.8 1169.3 797.2 1169.8 794.1C1170.2 790.9 1176.5 784.8 1179.9 783.9C1183.3 783.1 1185.8 788.4 1190 789C1194.3 789.6 1201 788.8 1205.2 787.7C1209.5 786.7 1209.5 783.9 1215.4 782.7C1221.3 781.4 1234.4 781.2 1240.7 780.1C1247.1 779.1 1249.2 778 1253.4 776.3C1257.6 774.6 1257.6 771.1 1266.1 770C1274.5 768.9 1297.7 737.5 1304.1 770C1310.4 802.5 1355.6 932.6 1304.1 965.1C1252.5 997.6 1046.5 987.7 994.9 965.1C943.4 942.5 990.9 852.8 994.9 829.5ZM1007.6 782.7C1006.3 781.2 1009.5 775.3 1012.7 773.8C1015.8 772.3 1025.3 772.3 1026.6 773.8C1027.9 775.3 1023.4 781.2 1020.3 782.7C1017.1 784.1 1008.9 784.1 1007.6 782.7ZM1027.9 820.7C1026.8 819.4 1032.3 814.2 1035.5 813.1C1038.6 811.9 1045.8 812.4 1046.9 813.7C1047.9 815 1045 819.5 1041.8 820.7C1038.6 821.8 1028.9 821.9 1027.9 820.7ZM872.8 743.2C873.4 741.5 880.9 737.3 884.6 734.5C888.3 731.7 891.3 727.4 894.7 726.4C898.1 725.3 902.9 726.2 904.8 728.1C906.8 730 907.1 734.6 906.5 737.8C906 741.1 904 746.5 901.5 747.6C898.9 748.8 894.7 745.4 891.3 744.9C888 744.5 884.3 745.2 881.2 744.9C878.1 744.7 872.2 745 872.8 743.2ZM1007.8 781.7C1007.8 779.9 1013.1 774.8 1016.2 773.3C1019.3 771.7 1025.2 771.3 1026.3 772.4C1027.4 773.6 1024.6 778.1 1022.9 780C1021.2 782 1018.7 784 1016.2 784.2C1013.7 784.5 1007.8 783.5 1007.8 781.7ZM1029.7 817.1C1031.9 816.3 1033.6 814.3 1036.4 813.8C1039.2 813.2 1045.4 812.9 1046.6 813.8C1047.7 814.6 1041.5 817.4 1043.2 818.8C1044.9 820.2 1052.7 820.2 1056.7 822.2C1060.6 824.2 1064 827.8 1066.8 830.6C1069.6 833.4 1071.9 836.3 1073.5 839.1C1075.2 841.9 1075.2 846.9 1076.9 847.5C1078.6 848.1 1081.1 843.9 1083.7 842.4C1086.2 841 1089.3 840.5 1092.1 839.1C1094.9 837.7 1096.6 835.7 1100.5 834C1104.5 832.3 1111.5 831.5 1115.7 828.9C1119.9 826.4 1121.9 821.6 1125.8 818.8C1129.8 816 1134.6 814.9 1139.3 812.1C1144.1 809.3 1149.7 804.8 1154.5 802C1159.3 799.1 1163.8 797.5 1168 795.2C1172.3 793 1175.8 790.1 1180 788.5C1184.2 786.8 1191.1 767.7 1193.3 785.1C1195.5 802.5 1227.6 875.1 1193.3 893.1C1159 911.1 1022.1 895.9 987.5 893.1C952.9 890.2 985 881 985.8 876.2C986.7 871.4 990.3 867.5 992.6 864.4C994.8 861.3 996.8 858.2 999.3 857.6C1001.8 857.1 1004.4 859.6 1007.8 861C1011.1 862.4 1015.3 865.2 1019.6 866.1C1023.8 866.9 1029.7 865.8 1033.1 866.1C1036.4 866.3 1038.1 866.3 1039.8 867.8C1041.5 869.2 1040.4 873.7 1043.2 874.5C1046 875.3 1053.9 874.8 1056.7 872.8C1059.5 870.8 1057.8 864.9 1060.1 862.7C1062.3 860.4 1066.8 859.6 1070.2 859.3C1073.5 859 1079.7 862.4 1080.3 861C1080.9 859.6 1075.8 854 1073.5 850.9C1071.3 847.8 1069.6 845 1066.8 842.4C1064 839.9 1060.6 837.1 1056.7 835.7C1052.7 834.3 1047.7 834.9 1043.2 834C1038.7 833.2 1033.9 832 1029.7 830.6C1025.5 829.2 1019 827.5 1017.9 825.6C1016.7 823.6 1021 820.2 1022.9 818.8C1024.9 817.4 1027.4 818 1029.7 817.1ZM773.3 844.1C776.1 834.6 786.2 844.7 790.1 845.8C794.1 846.9 792.4 847.8 796.9 850.9C801.4 854 810.6 861 817.1 864.4C823.6 867.8 829.8 869.4 835.7 871.1C841.6 872.8 851.1 872.3 852.5 874.5C853.9 876.7 847.8 881.5 844.1 884.6C840.5 887.7 835.7 890 830.6 893.1C825.6 896.2 823.3 901.5 813.7 903.2C804.2 904.9 780 913 773.3 903.2C766.5 893.3 770.4 853.7 773.3 844.1ZM609.7 1156.7C613 1155.6 617.9 1152.3 620.8 1151.6C623.7 1150.8 624.9 1153.2 626.9 1152.1C628.9 1151 630.1 1147.9 633 1145C635.8 1142.1 640.4 1136.9 644.1 1134.9C647.8 1132.9 651.9 1132.5 655.3 1133C658.6 1133.5 662.5 1136.2 664.4 1137.9C666.2 1139.6 664.7 1143.3 666.4 1143.5C668.1 1143.7 672 1139.1 674.5 1139.1C677.1 1139.1 679.8 1142.5 681.6 1143.5C683.5 1144.5 684 1145.4 685.7 1145C687.4 1144.6 688.9 1141.5 691.8 1140.9C694.6 1140.4 700.4 1141.3 702.9 1141.5C705.4 1141.6 705.9 1142 707 1141.8C708.1 1141.5 708.6 1141.9 709.5 1139.9C710.3 1137.9 709.9 1130.6 712 1129.8C714.1 1129 718.8 1133.2 722.2 1134.9C725.5 1136.6 729.3 1138.7 732.3 1139.9C735.3 1141.2 737.4 1142.5 740.4 1142.5C743.4 1142.5 747.7 1141.5 750.5 1139.9C753.4 1138.3 754.8 1134.5 757.6 1132.8C760.5 1131.1 764.4 1130.6 767.8 1129.8C771.1 1129 772.5 1129.3 777.9 1127.8C783.3 1126.2 794.1 1121.9 800 1120.7C805.9 1119.5 811.1 1114.3 813.4 1120.7C815.6 1127.1 815.6 1152.4 813.4 1159.2C811.1 1165.9 810.1 1159.9 800 1161.2C789.9 1162.6 765.5 1166.3 752.6 1167.3C739.6 1168.3 728.9 1166.4 722.2 1167.3C715.4 1168.1 715.4 1170.2 712 1172.4C708.6 1174.6 707 1179.5 701.9 1180.5C696.8 1181.5 690.1 1179.1 681.6 1178.4C673.2 1177.8 661.3 1176.5 651.2 1176.4C641.1 1176.3 627.2 1178.1 620.8 1177.9C614.4 1177.8 615.4 1176.7 612.7 1175.4C610 1174.1 606.1 1172.7 604.6 1170.3C603.1 1168 604.3 1163.3 603.6 1161.2C602.9 1159.1 599.5 1158.4 600.5 1157.7C601.6 1156.9 606.3 1157.7 609.7 1156.7Z"/>
<path fill="#f3fabd" d="M527.5 1017.5C529.2 1015.4 533.8 1022.1 540 1025C546.2 1027.9 556.7 1030.8 565 1035C573.3 1039.2 581.7 1045.4 590 1050C598.3 1054.6 609.6 1058.8 615 1062.5C620.4 1066.2 622.9 1070 622.5 1072.5C622.1 1075 617.9 1078.3 612.5 1077.5C607.1 1076.7 597.9 1070 590 1067.5C582.1 1065 573.3 1065 565 1062.5C556.7 1060 545.8 1056.7 540 1052.5C534.2 1048.3 532.1 1043.3 530 1037.5C527.9 1031.7 525.8 1019.6 527.5 1017.5ZM1140.6 833.3C1142.3 830 1145.9 826.8 1149.5 825.7C1153.1 824.7 1157.5 827.2 1162.2 827C1166.8 826.8 1172.3 825.5 1177.4 824.5C1182.4 823.4 1188.4 822.2 1192.6 820.7C1196.8 819.2 1199.3 817.1 1202.7 815.6C1206.1 814.1 1209.5 811 1212.8 811.8C1216.2 812.7 1220 818.4 1223 820.7C1225.9 823 1228.7 823.8 1230.6 825.7C1232.5 827.6 1234.4 829.5 1234.4 832.1C1234.4 834.6 1232.5 838.2 1230.6 840.9C1228.7 843.7 1226.8 846.7 1223 848.6C1219.2 850.5 1213.3 851.5 1207.8 852.4C1202.3 853.2 1195.1 852.8 1190 853.6C1185 854.5 1181.6 856.6 1177.4 857.4C1173.1 858.3 1168.9 858.5 1164.7 858.7C1160.5 858.9 1156.3 858.9 1152 858.7C1147.8 858.5 1143.6 857.8 1139.4 857.4C1135.1 857 1129.2 857.2 1126.7 856.2C1124.2 855.1 1123.3 852.4 1124.2 851.1C1125 849.8 1129.2 849.4 1131.8 848.6C1134.3 847.7 1137.9 848.6 1139.4 846C1140.8 843.5 1138.9 836.7 1140.6 833.3ZM994.9 835.9C997.9 831.9 1005.5 834.6 1012.7 834.6C1019.8 834.6 1030.6 835.2 1038 835.9C1045.4 836.5 1051.9 836.7 1057 838.4C1062.1 840.1 1065.2 843.5 1068.4 846C1071.6 848.6 1072.6 850.2 1076 853.6C1079.4 857 1086.2 863.1 1088.7 866.3C1091.2 869.5 1091.6 870.5 1091.2 872.6C1090.8 874.7 1088.7 877.7 1086.2 879C1083.6 880.2 1079.4 880.2 1076 880.2C1072.6 880.2 1068.6 880.4 1065.9 879C1063.1 877.5 1061.2 873.5 1059.5 871.4C1057.9 869.2 1059.3 867.1 1055.7 866.3C1052.2 865.4 1043.1 865.9 1038 866.3C1032.9 866.7 1029.6 869.2 1025.3 868.8C1021.1 868.4 1017.7 865.4 1012.7 863.8C1007.6 862.1 997.9 863.3 994.9 858.7C992 854 992 839.9 994.9 835.9ZM1107.7 871.4C1109.8 870.3 1123.1 869.7 1126.7 867.6C1130.3 865.4 1120.8 860.4 1129.2 858.7C1137.7 857 1169.8 856.8 1177.4 857.4C1185 858.1 1177 860.2 1174.8 862.5C1172.7 864.8 1166.8 869.2 1164.7 871.4C1162.6 873.5 1165.3 874.1 1162.2 875.2C1159 876.2 1150.6 877.5 1145.7 877.7C1140.8 877.9 1138.3 877.1 1133 876.4C1127.8 875.8 1118.2 874.7 1114 873.9C1109.8 873 1105.6 872.4 1107.7 871.4ZM994.9 881.5C997.9 877.1 1006.5 881.5 1012.7 882.8C1018.8 884 1027 886.3 1031.7 889.1C1036.3 891.8 1038.9 895.8 1040.5 899.2C1042.2 902.6 1042.4 905.6 1041.8 909.4C1041.2 913.2 1039.5 920.8 1036.7 922C1034 923.3 1029.4 918.7 1025.3 917C1021.3 915.3 1017.7 913.2 1012.7 911.9C1007.6 910.6 997.9 914.4 994.9 909.4C992 904.3 992 885.9 994.9 881.5ZM1081.1 939.8C1081.9 932.8 1083.6 929 1086.2 925.8C1088.7 922.7 1091.6 921.6 1096.3 920.8C1100.9 919.9 1109 921 1114 920.8C1119.1 920.6 1122.5 918.7 1126.7 919.5C1130.9 920.3 1135.6 923.7 1139.4 925.8C1143.2 927.9 1146.1 932.2 1149.5 932.2C1152.9 932.2 1156.3 926.5 1159.6 925.8C1163 925.2 1166.8 925.8 1169.8 928.4C1172.7 930.9 1175.7 936.8 1177.4 941C1179.1 945.3 1179.9 949.3 1179.9 953.7C1179.9 958.1 1193.8 965.3 1177.4 967.6C1160.9 970 1097.1 972.3 1081.1 967.6C1065 963 1080.2 946.7 1081.1 939.8ZM1168.5 881.5C1170.8 880.9 1174.2 885.9 1177.4 886.6C1180.5 887.2 1184.6 886.8 1187.5 885.3C1190.5 883.8 1192.6 880.4 1195.1 877.7C1197.6 874.9 1199.3 870.7 1202.7 868.8C1206.1 866.9 1211.4 866.3 1215.4 866.3C1219.4 866.3 1224.2 866.9 1226.8 868.8C1229.3 870.7 1230.4 874.1 1230.6 877.7C1230.8 881.3 1229.3 886.8 1228.1 890.4C1226.8 893.9 1225.1 896.9 1223 899.2C1220.9 901.6 1218.8 903.7 1215.4 904.3C1212 904.9 1206.9 903.5 1202.7 903C1198.5 902.6 1194.3 901.8 1190 901.8C1185.8 901.8 1181 903.9 1177.4 903C1173.8 902.2 1170.8 898.8 1168.5 896.7C1166.2 894.6 1163.4 892.9 1163.4 890.4C1163.4 887.8 1166.2 882.1 1168.5 881.5Z"/>
<path fill="#fcfed3" stroke="#fcfed3" stroke-width="22" stroke-linejoin="round" d="M412.8 558C413.4 555.3 416.6 551.9 419.1 550.4C421.7 548.9 424.4 550 428 549.1C431.6 548.3 437.9 546.8 440.7 545.3C443.4 543.9 442.4 541.5 444.5 540.3C446.6 539 450.8 537.1 453.3 537.7C455.9 538.4 457.6 542 459.7 544.1C461.8 546.2 464.1 548.3 466 550.4C467.9 552.5 469.2 554.2 471.1 556.7C473 559.3 475.8 563.3 477.4 565.6C479 567.9 479.7 568.8 480.6 570.7C481.4 572.6 482.1 574.5 482.5 577C482.9 579.5 483 582.7 483.1 585.9C483.2 589 484.1 593.9 483.1 596C482.2 598.1 479.8 598.6 477.4 598.6C475 598.6 471.3 596.4 468.6 596C465.8 595.6 463.9 596.4 460.9 596C458 595.6 454.2 593.3 450.8 593.5C447.4 593.7 444.1 595.8 440.7 597.3C437.3 598.8 433.1 602.4 430.5 602.4C428 602.4 427.2 599 425.5 597.3C423.8 595.6 423.2 592.3 420.4 592.2C417.7 592.1 411.1 597.5 409 596.7C406.9 595.8 406.7 590.4 407.7 587.1C408.8 583.9 414.1 580.4 415.3 577C416.6 573.6 415.8 570 415.3 566.9C414.9 563.7 412.2 560.8 412.8 558ZM478.7 634C481 633.2 490.3 631.7 492.6 632.8C494.9 633.8 493.9 638.9 492.6 640.4C491.4 641.8 487.3 642 485 641.6C482.7 641.2 479.7 639.1 478.7 637.8C477.6 636.6 476.4 634.9 478.7 634ZM600.3 705C601.2 704.1 605.2 702.7 607.9 702.4C610.7 702.2 615.9 702.9 616.8 703.7C617.6 704.6 615.3 706.9 613 707.5C610.7 708.1 605 707.9 602.8 707.5C600.7 707.1 599.5 705.8 600.3 705ZM431.8 683.4C434.1 681.5 439.2 680.9 443.2 679.6C447.2 678.4 452.1 677.1 455.9 675.8C459.7 674.6 462.6 673.9 466 672C469.4 670.1 473.2 666.3 476.2 664.4C479.1 662.5 481.2 661.3 483.8 660.6C486.3 660 488.4 661.7 491.4 660.6C494.3 659.6 498.5 654.7 501.5 654.3C504.4 653.9 506.6 656.8 509.1 658.1C511.6 659.4 514.2 661.1 516.7 661.9C519.2 662.7 522.2 662.1 524.3 663.2C526.4 664.2 527.7 666.3 529.4 668.2C531.1 670.1 534 673 534.4 674.6C534.9 676.2 533.8 677.7 531.9 677.7C530 677.7 525.1 674.3 523 674.6C520.9 674.9 520.5 677.5 519.2 679.6C518 681.7 516.7 685.5 515.4 687.2C514.2 688.9 514.4 689.1 511.6 689.8C508.9 690.4 502.8 690.6 499 691C495.2 691.5 491.8 691.2 488.8 692.3C485.9 693.4 482.7 695.3 481.2 697.4C479.7 699.5 479.7 702.9 480 705C480.2 707.1 482.3 709.8 482.5 710C482.7 710.3 480.4 705.4 481.2 706.5C482.1 707.6 486.1 713.4 487.6 716.6C489 719.8 488.8 722.9 490.1 725.5C491.4 728 493.7 729.3 495.2 731.8C496.6 734.3 499.6 737.9 499 740.7C498.3 743.4 494.7 746.8 491.4 748.3C488 749.8 482.9 748.9 478.7 749.5C474.5 750.2 469 750.6 466 752.1C463.1 753.6 463.5 756.3 460.9 758.4C458.4 760.5 453.3 762.4 450.8 764.7C448.3 767.1 446.8 769.6 445.7 772.4C444.7 775.1 445.3 779 444.5 781.2C443.6 783.4 443.4 785 440.7 785.7C437.9 786.3 431.4 786.2 428 785C424.6 783.9 422.3 781 420.4 778.7C418.5 776.4 417.1 773.8 416.6 771.1C416.1 768.3 417 764.7 417.2 762.2C417.5 759.7 417.3 758 417.9 755.9C418.4 753.8 419.1 751.2 420.4 749.5C421.7 747.9 424 747.2 425.5 745.7C427 744.3 428.4 743.6 429.3 740.7C430.1 737.7 430.1 732.2 430.5 728C431 723.8 431.8 719.6 431.8 715.3C431.8 711.1 431 706.9 430.5 702.7C430.1 698.4 429.3 690.5 429.3 690C429.3 689.5 430.5 699.7 430.5 699.9C430.5 700.1 429.1 693.8 429.3 691C429.5 688.3 429.5 685.3 431.8 683.4ZM511.6 743.2C512.9 739.8 515 735.8 516.7 733.1C518.4 730.3 519.7 727 521.8 726.7C523.9 726.5 526.8 729.5 529.4 731.8C531.9 734.1 534.6 738.6 537 740.7C539.3 742.8 541.9 742.6 543.3 744.5C544.7 746.4 545.4 749.8 545.2 752.1C545 754.4 543.6 756.5 542 758.4C540.4 760.3 537.8 762 535.7 763.5C533.6 765 531.3 765.8 529.4 767.3C527.5 768.8 525.4 770 524.3 772.4C523.2 774.7 524.3 778.5 523 781.2C521.8 784 518.8 787.1 516.7 788.8C514.6 790.5 512.5 790.7 510.4 791.4C508.2 792 506.3 793 504 792.6C501.7 792.2 499.2 790.5 496.4 788.8C493.7 787.1 488.6 785 487.6 782.5C486.5 780 488.4 776.2 490.1 773.6C491.8 771.1 495.4 769.4 497.7 767.3C500 765.2 502.1 763.3 504 760.9C505.9 758.6 507.8 756.3 509.1 753.3C510.4 750.4 510.4 746.6 511.6 743.2ZM528.7 714.7C528.7 713.1 531.7 710.5 533.2 710.3C534.6 710.1 537.6 711.9 537.6 713.4C537.6 715 534.6 719.6 533.2 719.8C531.7 720 528.7 716.3 528.7 714.7ZM539.5 814.2C539.5 812.5 542.2 808 543.3 807.8C544.4 807.6 545.8 811.2 545.8 812.9C545.8 814.6 544.4 817.8 543.3 818C542.2 818.2 539.5 815.8 539.5 814.2ZM681.4 778.7C681.2 776.2 683.5 772.4 685.2 771.1C686.9 769.8 690.5 768.1 691.5 771.1C692.6 774 692.4 786.3 691.5 788.8C690.7 791.4 688.2 788 686.5 786.3C684.8 784.6 681.6 781.2 681.4 778.7ZM509.1 829.4C510.8 828.3 514.2 830.8 516.7 830.6C519.2 830.4 521.6 829.4 524.3 828.1C527 826.8 530.2 823.2 533.2 823C536.1 822.8 538.9 825.8 542 826.8C545.2 827.9 549.4 827.9 552.2 829.4C554.9 830.8 555.3 832.5 558.5 835.7C561.7 838.9 568.6 845.4 571.2 848.4C573.7 851.3 573.9 851.5 573.7 853.4C573.5 855.3 571.4 857.7 569.9 859.8C568.4 861.9 567.4 865.3 564.8 866.1C562.3 867 557.9 864.8 554.7 864.8C551.5 864.8 548.4 866.5 545.8 866.1C543.3 865.7 541.8 863.8 539.5 862.3C537.2 860.8 534.6 858.7 531.9 857.2C529.2 855.8 525.8 854.9 523 853.4C520.3 852 517.5 850.3 515.4 848.4C513.3 846.5 511.8 843.9 510.4 842C508.9 840.1 506.8 839.1 506.6 837C506.3 834.9 507.4 830.4 509.1 829.4ZM483.8 831.3C483.5 830.2 489.9 825.5 491.4 825.6C492.8 825.7 493.9 830.9 492.6 831.9C491.4 832.8 484 832.3 483.8 831.3ZM439.4 821.8C438.8 820.1 441.5 819.2 443.2 819.2C444.9 819.2 448.2 820.1 449.5 821.8C450.9 823.5 451.2 826.4 451.4 829.4C451.7 832.3 451.1 835.9 450.8 839.5C450.5 843.1 450.1 850.9 449.5 850.9C449 850.9 448.1 843.1 447.6 839.5C447.2 835.9 448.4 832.3 447 829.4C445.6 826.4 440 823.5 439.4 821.8ZM592.7 853.4C593.2 851.1 594.3 849 594.6 853.4C594.9 857.9 595.4 875.6 594.6 880C593.9 884.5 590.7 882.2 590.2 880C589.6 877.9 591 871.8 591.4 867.4C591.9 862.9 592.2 855.8 592.7 853.4ZM562.5 880C564.8 879 575.2 877.8 577.5 878.8C579.8 879.7 578.5 884.5 576.2 885.5C574 886.5 566 885.9 563.8 885C561.5 884.1 560.2 881 562.5 880ZM537.5 890C539.8 889.1 550.2 888.7 552.5 889.5C554.8 890.3 553.5 894.1 551.2 895C549 895.9 541 895.8 538.8 895C536.5 894.2 535.2 890.9 537.5 890ZM600 907.5C600.8 905.2 604.9 904.2 606.2 906.2C607.6 908.3 608.8 917.7 608 920C607.2 922.3 602.6 922.1 601.2 920C599.9 917.9 599.2 909.8 600 907.5ZM510 916.2C514.4 915.3 533.1 914.3 537.5 915C541.9 915.7 540.6 919.6 536.2 920.5C531.9 921.4 515.6 921.2 511.2 920.5C506.9 919.8 505.6 917.2 510 916.2ZM577.5 930C583.3 928.1 609 927.1 615 928.8C621 930.4 619.6 938.1 613.8 940C607.9 941.9 586 941.7 580 940C574 938.3 571.7 931.9 577.5 930ZM540 930C542.3 928.8 552.7 928.8 555 930C557.3 931.2 556 936.2 553.8 937.5C551.5 938.8 543.5 938.8 541.2 937.5C539 936.2 537.7 931.2 540 930ZM742.5 882.5C742.5 879.2 753.3 871.7 757.5 871.2C761.7 870.8 767.5 876.7 767.5 880C767.5 883.3 761.7 890.8 757.5 891.2C753.3 891.7 742.5 885.8 742.5 882.5ZM680 780C679.8 777.1 684.8 771 687.5 771.2C690.2 771.5 696 778.3 696.2 781.2C696.5 784.2 691.5 789 688.8 788.8C686 788.5 680.2 782.9 680 780ZM528.8 715C529 713.3 532.3 710 533.8 710C535.2 710 537.7 713.3 537.5 715C537.3 716.7 534 720 532.5 720C531 720 528.5 716.7 528.8 715ZM602.5 703.8C604.4 702.9 613.1 702 615 702.5C616.9 703 615.6 706.2 613.8 707C611.9 707.8 605.6 708 603.8 707.5C601.9 707 600.6 704.6 602.5 703.8ZM298.2 307.8C299.5 307 302 308.4 302.7 310.3C303.3 312.2 302.8 317.1 302 319.2C301.3 321.3 299.4 323.6 298.2 323C297.1 322.4 295.1 317.9 295.1 315.4C295.1 312.9 297 308.6 298.2 307.8ZM343.8 411.7C344.4 409.5 346.3 405.8 347.6 406C349 406.2 351.2 410.8 352.1 413C352.9 415.1 354 417.6 352.7 418.7C351.4 419.7 346 420.5 344.5 419.3C343 418.1 343.3 413.9 343.8 411.7ZM413.8 511.2C414.6 508.5 421.5 505.7 427.5 505C433.5 504.3 445.4 505.5 450 507C454.6 508.5 456.2 511.4 455 513.8C453.8 516.1 447.9 520 442.5 521.2C437.1 522.5 427.3 522.9 422.5 521.2C417.7 519.6 412.9 514 413.8 511.2ZM538.9 971.8C539.5 967.6 540.6 958.5 542.7 955.3C544.8 952.2 548.6 953.4 551.5 952.8C554.5 952.2 557.7 952.8 560.4 951.5C563.2 950.3 565.9 946.9 568 945.2C570.1 943.5 572.4 943.1 573.1 941.4C573.7 939.7 571 936.8 571.8 935.1C572.7 933.4 574.6 932.5 578.1 931.3C581.7 930 586.8 928.1 593.3 927.5C599.9 926.8 613 926 617.4 927.5C621.9 928.9 620.6 933.6 620 936.3C619.3 939.1 615.5 941.4 613.6 943.9C611.7 946.5 609.6 948.6 608.6 951.5C607.5 954.5 606.9 958.9 607.3 961.7C607.7 964.4 609.2 965.7 611.1 968C613 970.3 615.5 973.3 618.7 975.6C621.9 977.9 628.8 979.6 630.1 981.9C631.4 984.3 626.5 986.4 626.3 989.5C626.1 992.7 627.3 998.7 628.8 1000.9C630.3 1003.2 632 1004.3 635.2 1002.8C638.3 1001.4 644.2 994.3 647.8 992.1C651.4 989.9 653.1 990.2 656.7 989.5C660.3 988.9 666.6 989.3 669.4 988.3C672.1 987.2 670 984.9 673.2 983.2C676.3 981.5 684.1 980.3 688.4 978.1C692.6 976 695.3 972.2 698.5 970.5C701.7 968.9 703.8 967.8 707.4 968C711 968.2 716.5 969.7 720 971.8C723.6 973.9 727.1 977.7 728.9 980.7C730.7 983.6 731.4 986.2 730.8 989.5C730.2 992.9 727.3 998 725.1 1000.9C722.9 1003.9 720.3 1005.9 717.5 1007.3C714.8 1008.7 711.4 1009.6 708.6 1009.2C705.9 1008.8 702.7 1007.6 701 1004.7C699.3 1001.9 700.4 994.5 698.5 992.1C696.6 989.7 692.6 990.2 689.6 990.2C686.7 990.2 682 990.3 680.8 992.1C679.5 993.9 681.9 997.8 682 1000.9C682.1 1004.1 680.6 1008.3 681.4 1011.1C682.2 1013.8 684.5 1015.5 687.1 1017.4C689.7 1019.3 693.9 1021 697.2 1022.5C700.6 1024 704.2 1024.8 707.4 1026.3C710.5 1027.8 714.1 1029 716.2 1031.4C718.4 1033.7 718.1 1037.9 720 1040.2C721.9 1042.5 724.5 1043.8 727.6 1045.3C730.8 1046.8 735.7 1048.4 739 1049.1C742.4 1049.8 744.5 1048.9 747.9 1049.7C751.3 1050.6 756.1 1053.8 759.3 1054.2C762.5 1054.5 764.4 1053.7 766.9 1051.6C769.5 1049.5 774.5 1044.7 774.5 1041.5C774.5 1038.3 766.9 1035.2 766.9 1032.6C766.9 1030.1 771.4 1028.6 774.5 1026.3C777.7 1024 782.3 1021.2 785.9 1018.7C789.5 1016.2 792.3 1013.8 796.1 1011.1C799.9 1008.3 804.7 1004.5 808.7 1002.2C812.7 999.9 817.2 996.9 820.1 997.1C823.1 997.4 824 1000.5 826.5 1003.5C828.9 1006.5 831.5 1011 835 1015C838.5 1019 845 1023.3 847.5 1027.5C850 1031.7 851.2 1035.8 850 1040C848.8 1044.2 843.8 1049.6 840 1052.5C836.2 1055.4 830 1054.6 827.5 1057.5C825 1060.4 825 1066.2 825 1070C825 1073.8 829.2 1075.8 827.5 1080C825.8 1084.2 818.8 1090.4 815 1095C811.2 1099.6 807.1 1103.3 805 1107.5C802.9 1111.7 805 1116.7 802.5 1120C800 1123.3 794.2 1125.8 790 1127.5C785.8 1129.2 781.7 1130 777.5 1130C773.3 1130 769.2 1126.2 765 1127.5C760.8 1128.8 756.7 1135 752.5 1137.5C748.3 1140 743.8 1142.5 740 1142.5C736.2 1142.5 734.2 1139.2 730 1137.5C725.8 1135.8 720 1134.4 715 1132.5C710 1130.6 706.7 1127.3 700 1126.2C693.3 1125.2 685 1127.3 675 1126.2C665 1125.2 650 1123.5 640 1120C630 1116.5 619 1106.5 615 1105C611 1103.5 616.6 1112 616.2 1111.2C615.7 1110.3 613.4 1102.7 612.4 1099.8C611.3 1096.8 609 1095.5 609.8 1093.4C610.7 1091.3 614.7 1088.6 617.4 1087.1C620.2 1085.6 624 1085.8 626.3 1084.6C628.6 1083.3 630.5 1082 631.4 1079.5C632.2 1077 631.8 1072.3 631.4 1069.4C630.9 1066.4 630.5 1064.3 628.8 1061.8C627.1 1059.2 623.1 1056.7 621.2 1054.2C619.3 1051.6 619.1 1048.9 617.4 1046.6C615.7 1044.2 613.8 1043 611.1 1040.2C608.3 1037.5 603.7 1032.1 600.9 1030.1C598.2 1028.1 597.4 1027.2 594.6 1028.2C591.9 1029.1 587.4 1035.3 584.5 1035.8C581.5 1036.3 576.7 1033.4 576.9 1031.4C577.1 1029.3 582.4 1026.5 585.7 1023.8C589.1 1021 594.4 1017.4 597.1 1014.9C599.9 1012.4 601.1 1010.9 602.2 1008.6C603.4 1006.2 604.7 1003.5 604.1 1000.9C603.5 998.4 600.8 995.7 598.4 993.3C596 991 592.5 989.1 589.5 987C586.6 984.9 583.2 982.9 580.7 980.7C578.1 978.5 577.3 975 574.3 973.7C571.4 972.4 566.7 971.9 562.9 973.1C559.1 974.2 554.1 978.1 551.5 980.7C549 983.2 549 985.6 547.7 988.3C546.5 990.9 545.2 995.9 543.9 996.5C542.7 997.1 541 994.7 540.1 992.1C539.3 989.4 539.1 984.1 538.9 980.7C538.7 977.3 538.2 976 538.9 971.8ZM539.5 932.5C539.7 931.7 543.7 931.1 546.5 931.3C549.2 931.5 554.8 932.4 556 933.8C557.1 935.2 555.2 939.1 553.4 939.5C551.6 939.9 547.5 937.5 545.2 936.3C542.9 935.2 539.3 933.4 539.5 932.5ZM632 972.4C633.3 971.1 639.5 970 644 969.9C648.6 969.8 657.3 970.4 659.2 971.8C661.1 973.2 659.2 977.1 655.4 978.1C651.6 979.2 640.3 979.1 636.4 978.1C632.5 977.2 630.7 973.8 632 972.4ZM445 1222.5C436.7 1220.4 446.7 1215.4 450 1212.5C453.3 1209.6 460 1207.5 465 1205C470 1202.5 475.8 1199.6 480 1197.5C484.2 1195.4 487.7 1191.7 490 1192.5C492.3 1193.3 492.3 1199.6 493.8 1202.5C495.2 1205.4 497.7 1206.2 498.8 1210C499.8 1213.8 509 1222.9 500 1225C491 1227.1 453.3 1224.6 445 1222.5ZM1152 910.6C1151.1 908.7 1153.3 907.8 1154.5 904.3C1155.8 900.8 1158.1 891.8 1159.6 889.7C1161.1 887.6 1161.7 890 1163.4 891.6C1165.1 893.2 1167.4 897.1 1169.7 899.2C1172.1 901.3 1174.4 903.6 1177.3 904.3C1180.3 904.9 1183.2 903.2 1187.5 903C1191.7 902.9 1198 902.8 1202.7 903.4C1207.3 904 1212.1 905.8 1215.3 906.6C1218.6 907.3 1220.8 908.7 1222.3 907.8C1223.8 907 1223.3 903.8 1224.2 901.5C1225.2 899.2 1226.7 896.8 1228 893.9C1229.3 890.9 1231.3 886.7 1231.8 883.8C1232.3 880.8 1231.6 878.7 1231.2 876.2C1230.8 873.6 1229.8 870.9 1229.3 868.6C1228.7 866.2 1227.4 864.1 1228 862.2C1228.6 860.3 1230.5 859.3 1233.1 857.1C1235.6 855 1239.8 851.9 1243.2 849.5C1246.6 847.2 1250.4 844.7 1253.3 843.2C1256.3 841.7 1258 841.2 1260.9 840.7C1263.9 840.1 1267.5 839.9 1271.1 840C1274.7 840.1 1279.1 841.8 1282.5 841.3C1285.9 840.8 1288.8 838.5 1291.4 836.9C1293.9 835.3 1294.9 833.1 1297.7 831.8C1300.4 830.5 1304.2 830.1 1307.8 829.3C1311.4 828.4 1315.6 828 1319.2 826.7C1322.8 825.5 1326.6 822.7 1329.4 821.7C1332.1 820.6 1333 820.1 1335.7 820.4C1338.4 820.7 1340.6 823.2 1345.8 823.6C1351.1 824 1359.6 823.3 1367.4 822.9C1375.2 822.6 1384.3 821.8 1392.7 821.7C1401.2 821.6 1411.7 821.9 1418.1 822.3C1424.4 822.7 1427.3 824.1 1430.7 824.2C1434.1 824.3 1435.6 823.8 1438.3 822.9C1441.1 822.1 1444.2 820 1447.2 819.1C1450.1 818.3 1453.3 817.9 1456.1 817.9C1458.8 817.9 1461.5 818.3 1463.7 819.1C1465.8 820 1468.9 821.7 1468.7 822.9C1468.5 824.2 1464.9 825.9 1462.4 826.7C1459.9 827.6 1456.7 827.4 1453.5 828C1450.4 828.6 1446.1 829.5 1443.4 830.5C1440.6 831.6 1439.2 833.1 1437.1 834.3C1434.9 835.6 1433.3 836.7 1430.7 838.1C1428.2 839.6 1424.4 841.7 1421.9 843.2C1419.3 844.7 1417.8 845.9 1415.5 847C1413.2 848.2 1411.7 848.7 1407.9 850.2C1404.1 851.7 1397.8 853.2 1392.7 855.9C1387.6 858.5 1381.3 865.2 1377.5 866C1373.7 866.9 1373.7 862.1 1369.9 860.9C1366.1 859.8 1360.4 859.2 1354.7 859C1349 858.9 1341.6 860.8 1335.7 860.3C1329.8 859.8 1324.9 857.4 1319.2 855.9C1313.5 854.4 1304 851.4 1301.5 851.4C1299 851.4 1303 854.1 1304 855.9C1305.1 857.7 1307.5 860.5 1307.8 862.2C1308.1 863.9 1306.1 864.3 1305.9 866C1305.7 867.7 1305.8 870.5 1306.6 872.4C1307.3 874.3 1308.7 875.5 1310.4 877.4C1312 879.3 1315.1 881.4 1316.7 883.8C1318.3 886.1 1320.1 888.8 1319.9 891.4C1319.7 893.9 1317.2 897.1 1315.4 899C1313.6 900.9 1311.4 902 1309.1 902.8C1306.8 903.5 1304.4 904 1301.5 903.4C1298.5 902.8 1294.3 900.5 1291.4 899C1288.4 897.4 1285.9 895.2 1283.8 893.9C1281.6 892.6 1280.8 891.1 1278.7 891.4C1276.6 891.6 1274 893.5 1271.1 895.2C1268.1 896.8 1263.9 900.2 1260.9 901.5C1258 902.8 1255.9 901.7 1253.3 902.8C1250.8 903.8 1248.3 906.3 1245.7 907.8C1243.2 909.3 1240.5 910.4 1238.1 911.6C1235.8 912.9 1233.3 914.2 1231.8 915.4C1230.3 916.7 1230.8 919 1229.3 919.2C1227.8 919.4 1225.1 916.5 1222.9 916.7C1220.8 916.9 1218.5 918.6 1216.6 920.5C1214.7 922.4 1213 925.8 1211.5 928.1C1210.1 930.4 1210.1 933.3 1207.7 934.4C1205.4 935.5 1201 935.5 1197.6 934.7C1194.2 933.9 1190.4 931.7 1187.5 929.6C1184.5 927.5 1182.8 924.1 1179.9 922C1176.9 919.9 1173.1 918 1169.7 916.9C1166.4 915.9 1162.5 916.7 1159.6 915.7C1156.6 914.6 1152.8 912.5 1152 910.6ZM1359.8 874.9C1361.9 875.3 1364 872.6 1367.4 871.1C1370.8 869.6 1375.8 868.3 1380 866C1384.3 863.7 1388.5 859.5 1392.7 857.1C1396.9 854.8 1402.4 851.9 1405.4 852.1C1408.3 852.3 1408.8 856.1 1410.4 858.4C1412.1 860.7 1414 863.9 1415.5 866C1417 868.1 1418.5 869 1419.3 871.1C1420.2 873.2 1419.7 876.2 1420.6 878.7C1421.4 881.2 1422.1 884.1 1424.4 886.3C1426.7 888.5 1433.9 890.1 1434.5 892C1435.2 893.9 1430.9 895.3 1428.2 897.7C1425.4 900.1 1421 903.8 1418.1 906.6C1415.1 909.3 1413 911.2 1410.4 914.2C1407.9 917.1 1405.8 920.7 1402.8 924.3C1399.9 927.9 1395.5 932.3 1392.7 935.7C1390 939.1 1388.9 943.1 1386.4 944.6C1383.8 946 1379.6 945.8 1377.5 944.6C1375.4 943.3 1374.8 939.9 1373.7 937C1372.7 934 1372 930.2 1371.2 926.8C1370.3 923.5 1369.7 920.1 1368.6 916.7C1367.6 913.3 1366.1 909.7 1364.8 906.6C1363.6 903.4 1362.1 901.1 1361 897.7C1360 894.3 1359.2 889.5 1358.5 886.3C1357.8 883.1 1356.4 880.8 1356.6 878.7C1356.8 876.6 1360.1 875.3 1359.8 873.6C1359.5 871.9 1354.7 868.3 1354.7 868.6C1354.7 868.8 1357.7 874.5 1359.8 874.9ZM1217.9 933.2C1220.8 933.4 1222.9 935.5 1225.5 937C1228 938.4 1230.5 940.6 1233.1 942C1235.6 943.5 1238.8 945.8 1240.7 945.8C1242.6 945.8 1244.1 944.1 1244.5 942C1244.9 939.9 1241.3 935.3 1243.2 933.2C1245.1 931.1 1252.1 930.8 1255.9 929.4C1259.7 927.9 1263.3 925.8 1266 924.3C1268.8 922.8 1270.5 920.8 1272.4 920.5C1274.3 920.2 1277.2 920.5 1277.4 922.4C1277.6 924.3 1274.7 928.6 1273.6 931.9C1272.6 935.2 1271.7 938.7 1271.1 942C1270.5 945.4 1271.1 949.2 1269.8 952.2C1268.6 955.1 1265.8 957.4 1263.5 959.8C1261.2 962.1 1258.8 964.6 1255.9 966.1C1252.9 967.6 1248.7 968.6 1245.7 968.6C1242.8 968.6 1240.3 967.4 1238.1 966.1C1236 964.8 1233.7 963.1 1233.1 961C1232.4 958.9 1235 955.5 1234.3 953.4C1233.7 951.3 1231.2 949.4 1229.3 948.4C1227.4 947.3 1225.3 948.2 1222.9 947.1C1220.6 946 1217.9 943.9 1215.3 942C1212.8 940.1 1207.3 937.2 1207.7 935.7C1208.2 934.2 1214.9 933 1217.9 933.2ZM1219.8 971.2C1219.8 970.5 1221.8 969.8 1222.9 969.9C1224.1 970 1226.7 971.2 1226.7 971.8C1226.7 972.4 1224.1 973.8 1222.9 973.7C1221.8 973.6 1219.8 971.8 1219.8 971.2ZM1446.6 881.9C1446.7 881.1 1448.4 879.8 1449.1 880C1449.8 880.1 1451.1 881.7 1451 882.5C1450.9 883.2 1449.2 884.5 1448.5 884.4C1447.7 884.3 1446.5 882.6 1446.6 881.9ZM1230.5 798.9C1231.5 798 1238.4 801.2 1238.8 802.7C1239.2 804.1 1234.4 808.4 1233.1 807.7C1231.7 807.1 1229.6 799.7 1230.5 798.9ZM1097.5 892.5C1098.8 890.6 1103.8 888.3 1105 890C1106.2 891.7 1106.2 900.6 1105 902.5C1103.8 904.4 1098.8 902.9 1097.5 901.2C1096.2 899.6 1096.2 894.4 1097.5 892.5ZM1112.5 882.5C1114 881.5 1125.4 881.5 1126.2 882.5C1127.1 883.5 1119.8 888.8 1117.5 888.8C1115.2 888.8 1111 883.5 1112.5 882.5ZM1177.5 870C1178.3 867.7 1183.3 867.1 1185 868.8C1186.7 870.4 1188.3 877.7 1187.5 880C1186.7 882.3 1181.7 884.2 1180 882.5C1178.3 880.8 1176.7 872.3 1177.5 870ZM1220 970C1220.4 969.5 1225.6 969.9 1226.2 970.5C1226.9 971.1 1224.8 973.8 1223.8 973.8C1222.7 973.7 1219.6 970.5 1220 970ZM880 935C880.6 932.5 881.7 931.2 882.5 932.5C883.3 933.8 883.5 938.8 885 942.5C886.5 946.2 887.9 951.9 891.2 955C894.6 958.1 898.5 960.4 905 961.2C911.5 962.1 923.1 960 930 960C936.9 960 945.4 960 946.2 961.2C947.1 962.5 939.4 965.4 935 967.5C930.6 969.6 924.2 972.1 920 973.8C915.8 975.4 914.6 976.9 910 977.5C905.4 978.1 895.8 979.2 892.5 977.5C889.2 975.8 892.1 970.4 890 967.5C887.9 964.6 881.9 963.3 880 960C878.1 956.7 878.8 951.7 878.8 947.5C878.8 943.3 879.4 937.5 880 935ZM1747.5 632.5C1747.7 630.8 1752.9 625.6 1755 625C1757.1 624.4 1760.2 627.1 1760 628.8C1759.8 630.4 1755.8 634.4 1753.8 635C1751.7 635.6 1747.3 634.2 1747.5 632.5ZM1176.7 872.6C1177.3 870.4 1179.4 868.2 1181.2 868.2C1183 868.2 1186.3 870.6 1187.5 872.6C1188.7 874.6 1189 878.2 1188.1 880.2C1187.3 882.2 1184.1 884.4 1182.4 884.7C1180.8 884.9 1179 883.5 1178 881.5C1177.1 879.5 1176.2 874.8 1176.7 872.6ZM1096.9 891.6C1097.6 889.8 1100.4 889.1 1101.4 891C1102.3 892.9 1103.3 901.2 1102.6 903C1102 904.8 1098.5 903.7 1097.6 901.8C1096.6 899.9 1096.3 893.4 1096.9 891.6ZM1110.2 880.2C1112.8 879.7 1125.6 880.9 1126.7 882.1C1127.8 883.4 1119.1 887.3 1116.6 887.8C1114 888.4 1112.5 886.6 1111.5 885.3C1110.4 884 1107.7 880.8 1110.2 880.2ZM1233.1 799.1C1233.9 798.4 1238.6 801.6 1238.8 802.9C1239 804.3 1235.3 808 1234.4 807.4C1233.4 806.7 1232.4 799.9 1233.1 799.1Z"/>
<path fill="#ffffff" d="M412.8 558C413.4 555.3 416.6 551.9 419.1 550.4C421.7 548.9 424.4 550 428 549.1C431.6 548.3 437.9 546.8 440.7 545.3C443.4 543.9 442.4 541.5 444.5 540.3C446.6 539 450.8 537.1 453.3 537.7C455.9 538.4 457.6 542 459.7 544.1C461.8 546.2 464.1 548.3 466 550.4C467.9 552.5 469.2 554.2 471.1 556.7C473 559.3 475.8 563.3 477.4 565.6C479 567.9 479.7 568.8 480.6 570.7C481.4 572.6 482.1 574.5 482.5 577C482.9 579.5 483 582.7 483.1 585.9C483.2 589 484.1 593.9 483.1 596C482.2 598.1 479.8 598.6 477.4 598.6C475 598.6 471.3 596.4 468.6 596C465.8 595.6 463.9 596.4 460.9 596C458 595.6 454.2 593.3 450.8 593.5C447.4 593.7 444.1 595.8 440.7 597.3C437.3 598.8 433.1 602.4 430.5 602.4C428 602.4 427.2 599 425.5 597.3C423.8 595.6 423.2 592.3 420.4 592.2C417.7 592.1 411.1 597.5 409 596.7C406.9 595.8 406.7 590.4 407.7 587.1C408.8 583.9 414.1 580.4 415.3 577C416.6 573.6 415.8 570 415.3 566.9C414.9 563.7 412.2 560.8 412.8 558ZM478.7 634C481 633.2 490.3 631.7 492.6 632.8C494.9 633.8 493.9 638.9 492.6 640.4C491.4 641.8 487.3 642 485 641.6C482.7 641.2 479.7 639.1 478.7 637.8C477.6 636.6 476.4 634.9 478.7 634ZM600.3 705C601.2 704.1 605.2 702.7 607.9 702.4C610.7 702.2 615.9 702.9 616.8 703.7C617.6 704.6 615.3 706.9 613 707.5C610.7 708.1 605 707.9 602.8 707.5C600.7 707.1 599.5 705.8 600.3 705ZM431.8 683.4C434.1 681.5 439.2 680.9 443.2 679.6C447.2 678.4 452.1 677.1 455.9 675.8C459.7 674.6 462.6 673.9 466 672C469.4 670.1 473.2 666.3 476.2 664.4C479.1 662.5 481.2 661.3 483.8 660.6C486.3 660 488.4 661.7 491.4 660.6C494.3 659.6 498.5 654.7 501.5 654.3C504.4 653.9 506.6 656.8 509.1 658.1C511.6 659.4 514.2 661.1 516.7 661.9C519.2 662.7 522.2 662.1 524.3 663.2C526.4 664.2 527.7 666.3 529.4 668.2C531.1 670.1 534 673 534.4 674.6C534.9 676.2 533.8 677.7 531.9 677.7C530 677.7 525.1 674.3 523 674.6C520.9 674.9 520.5 677.5 519.2 679.6C518 681.7 516.7 685.5 515.4 687.2C514.2 688.9 514.4 689.1 511.6 689.8C508.9 690.4 502.8 690.6 499 691C495.2 691.5 491.8 691.2 488.8 692.3C485.9 693.4 482.7 695.3 481.2 697.4C479.7 699.5 479.7 702.9 480 705C480.2 707.1 482.3 709.8 482.5 710C482.7 710.3 480.4 705.4 481.2 706.5C482.1 707.6 486.1 713.4 487.6 716.6C489 719.8 488.8 722.9 490.1 725.5C491.4 728 493.7 729.3 495.2 731.8C496.6 734.3 499.6 737.9 499 740.7C498.3 743.4 494.7 746.8 491.4 748.3C488 749.8 482.9 748.9 478.7 749.5C474.5 750.2 469 750.6 466 752.1C463.1 753.6 463.5 756.3 460.9 758.4C458.4 760.5 453.3 762.4 450.8 764.7C448.3 767.1 446.8 769.6 445.7 772.4C444.7 775.1 445.3 779 444.5 781.2C443.6 783.4 443.4 785 440.7 785.7C437.9 786.3 431.4 786.2 428 785C424.6 783.9 422.3 781 420.4 778.7C418.5 776.4 417.1 773.8 416.6 771.1C416.1 768.3 417 764.7 417.2 762.2C417.5 759.7 417.3 758 417.9 755.9C418.4 753.8 419.1 751.2 420.4 749.5C421.7 747.9 424 747.2 425.5 745.7C427 744.3 428.4 743.6 429.3 740.7C430.1 737.7 430.1 732.2 430.5 728C431 723.8 431.8 719.6 431.8 715.3C431.8 711.1 431 706.9 430.5 702.7C430.1 698.4 429.3 690.5 429.3 690C429.3 689.5 430.5 699.7 430.5 699.9C430.5 700.1 429.1 693.8 429.3 691C429.5 688.3 429.5 685.3 431.8 683.4ZM511.6 743.2C512.9 739.8 515 735.8 516.7 733.1C518.4 730.3 519.7 727 521.8 726.7C523.9 726.5 526.8 729.5 529.4 731.8C531.9 734.1 534.6 738.6 537 740.7C539.3 742.8 541.9 742.6 543.3 744.5C544.7 746.4 545.4 749.8 545.2 752.1C545 754.4 543.6 756.5 542 758.4C540.4 760.3 537.8 762 535.7 763.5C533.6 765 531.3 765.8 529.4 767.3C527.5 768.8 525.4 770 524.3 772.4C523.2 774.7 524.3 778.5 523 781.2C521.8 784 518.8 787.1 516.7 788.8C514.6 790.5 512.5 790.7 510.4 791.4C508.2 792 506.3 793 504 792.6C501.7 792.2 499.2 790.5 496.4 788.8C493.7 787.1 488.6 785 487.6 782.5C486.5 780 488.4 776.2 490.1 773.6C491.8 771.1 495.4 769.4 497.7 767.3C500 765.2 502.1 763.3 504 760.9C505.9 758.6 507.8 756.3 509.1 753.3C510.4 750.4 510.4 746.6 511.6 743.2ZM528.7 714.7C528.7 713.1 531.7 710.5 533.2 710.3C534.6 710.1 537.6 711.9 537.6 713.4C537.6 715 534.6 719.6 533.2 719.8C531.7 720 528.7 716.3 528.7 714.7ZM539.5 814.2C539.5 812.5 542.2 808 543.3 807.8C544.4 807.6 545.8 811.2 545.8 812.9C545.8 814.6 544.4 817.8 543.3 818C542.2 818.2 539.5 815.8 539.5 814.2ZM681.4 778.7C681.2 776.2 683.5 772.4 685.2 771.1C686.9 769.8 690.5 768.1 691.5 771.1C692.6 774 692.4 786.3 691.5 788.8C690.7 791.4 688.2 788 686.5 786.3C684.8 784.6 681.6 781.2 681.4 778.7ZM509.1 829.4C510.8 828.3 514.2 830.8 516.7 830.6C519.2 830.4 521.6 829.4 524.3 828.1C527 826.8 530.2 823.2 533.2 823C536.1 822.8 538.9 825.8 542 826.8C545.2 827.9 549.4 827.9 552.2 829.4C554.9 830.8 555.3 832.5 558.5 835.7C561.7 838.9 568.6 845.4 571.2 848.4C573.7 851.3 573.9 851.5 573.7 853.4C573.5 855.3 571.4 857.7 569.9 859.8C568.4 861.9 567.4 865.3 564.8 866.1C562.3 867 557.9 864.8 554.7 864.8C551.5 864.8 548.4 866.5 545.8 866.1C543.3 865.7 541.8 863.8 539.5 862.3C537.2 860.8 534.6 858.7 531.9 857.2C529.2 855.8 525.8 854.9 523 853.4C520.3 852 517.5 850.3 515.4 848.4C513.3 846.5 511.8 843.9 510.4 842C508.9 840.1 506.8 839.1 506.6 837C506.3 834.9 507.4 830.4 509.1 829.4ZM483.8 831.3C483.5 830.2 489.9 825.5 491.4 825.6C492.8 825.7 493.9 830.9 492.6 831.9C491.4 832.8 484 832.3 483.8 831.3ZM439.4 821.8C438.8 820.1 441.5 819.2 443.2 819.2C444.9 819.2 448.2 820.1 449.5 821.8C450.9 823.5 451.2 826.4 451.4 829.4C451.7 832.3 451.1 835.9 450.8 839.5C450.5 843.1 450.1 850.9 449.5 850.9C449 850.9 448.1 843.1 447.6 839.5C447.2 835.9 448.4 832.3 447 829.4C445.6 826.4 440 823.5 439.4 821.8ZM592.7 853.4C593.2 851.1 594.3 849 594.6 853.4C594.9 857.9 595.4 875.6 594.6 880C593.9 884.5 590.7 882.2 590.2 880C589.6 877.9 591 871.8 591.4 867.4C591.9 862.9 592.2 855.8 592.7 853.4ZM562.5 880C564.8 879 575.2 877.8 577.5 878.8C579.8 879.7 578.5 884.5 576.2 885.5C574 886.5 566 885.9 563.8 885C561.5 884.1 560.2 881 562.5 880ZM537.5 890C539.8 889.1 550.2 888.7 552.5 889.5C554.8 890.3 553.5 894.1 551.2 895C549 895.9 541 895.8 538.8 895C536.5 894.2 535.2 890.9 537.5 890ZM600 907.5C600.8 905.2 604.9 904.2 606.2 906.2C607.6 908.3 608.8 917.7 608 920C607.2 922.3 602.6 922.1 601.2 920C599.9 917.9 599.2 909.8 600 907.5ZM510 916.2C514.4 915.3 533.1 914.3 537.5 915C541.9 915.7 540.6 919.6 536.2 920.5C531.9 921.4 515.6 921.2 511.2 920.5C506.9 919.8 505.6 917.2 510 916.2ZM577.5 930C583.3 928.1 609 927.1 615 928.8C621 930.4 619.6 938.1 613.8 940C607.9 941.9 586 941.7 580 940C574 938.3 571.7 931.9 577.5 930ZM540 930C542.3 928.8 552.7 928.8 555 930C557.3 931.2 556 936.2 553.8 937.5C551.5 938.8 543.5 938.8 541.2 937.5C539 936.2 537.7 931.2 540 930ZM742.5 882.5C742.5 879.2 753.3 871.7 757.5 871.2C761.7 870.8 767.5 876.7 767.5 880C767.5 883.3 761.7 890.8 757.5 891.2C753.3 891.7 742.5 885.8 742.5 882.5ZM680 780C679.8 777.1 684.8 771 687.5 771.2C690.2 771.5 696 778.3 696.2 781.2C696.5 784.2 691.5 789 688.8 788.8C686 788.5 680.2 782.9 680 780ZM528.8 715C529 713.3 532.3 710 533.8 710C535.2 710 537.7 713.3 537.5 715C537.3 716.7 534 720 532.5 720C531 720 528.5 716.7 528.8 715ZM602.5 703.8C604.4 702.9 613.1 702 615 702.5C616.9 703 615.6 706.2 613.8 707C611.9 707.8 605.6 708 603.8 707.5C601.9 707 600.6 704.6 602.5 703.8ZM298.2 307.8C299.5 307 302 308.4 302.7 310.3C303.3 312.2 302.8 317.1 302 319.2C301.3 321.3 299.4 323.6 298.2 323C297.1 322.4 295.1 317.9 295.1 315.4C295.1 312.9 297 308.6 298.2 307.8ZM343.8 411.7C344.4 409.5 346.3 405.8 347.6 406C349 406.2 351.2 410.8 352.1 413C352.9 415.1 354 417.6 352.7 418.7C351.4 419.7 346 420.5 344.5 419.3C343 418.1 343.3 413.9 343.8 411.7ZM413.8 511.2C414.6 508.5 421.5 505.7 427.5 505C433.5 504.3 445.4 505.5 450 507C454.6 508.5 456.2 511.4 455 513.8C453.8 516.1 447.9 520 442.5 521.2C437.1 522.5 427.3 522.9 422.5 521.2C417.7 519.6 412.9 514 413.8 511.2ZM538.9 971.8C539.5 967.6 540.6 958.5 542.7 955.3C544.8 952.2 548.6 953.4 551.5 952.8C554.5 952.2 557.7 952.8 560.4 951.5C563.2 950.3 565.9 946.9 568 945.2C570.1 943.5 572.4 943.1 573.1 941.4C573.7 939.7 571 936.8 571.8 935.1C572.7 933.4 574.6 932.5 578.1 931.3C581.7 930 586.8 928.1 593.3 927.5C599.9 926.8 613 926 617.4 927.5C621.9 928.9 620.6 933.6 620 936.3C619.3 939.1 615.5 941.4 613.6 943.9C611.7 946.5 609.6 948.6 608.6 951.5C607.5 954.5 606.9 958.9 607.3 961.7C607.7 964.4 609.2 965.7 611.1 968C613 970.3 615.5 973.3 618.7 975.6C621.9 977.9 628.8 979.6 630.1 981.9C631.4 984.3 626.5 986.4 626.3 989.5C626.1 992.7 627.3 998.7 628.8 1000.9C630.3 1003.2 632 1004.3 635.2 1002.8C638.3 1001.4 644.2 994.3 647.8 992.1C651.4 989.9 653.1 990.2 656.7 989.5C660.3 988.9 666.6 989.3 669.4 988.3C672.1 987.2 670 984.9 673.2 983.2C676.3 981.5 684.1 980.3 688.4 978.1C692.6 976 695.3 972.2 698.5 970.5C701.7 968.9 703.8 967.8 707.4 968C711 968.2 716.5 969.7 720 971.8C723.6 973.9 727.1 977.7 728.9 980.7C730.7 983.6 731.4 986.2 730.8 989.5C730.2 992.9 727.3 998 725.1 1000.9C722.9 1003.9 720.3 1005.9 717.5 1007.3C714.8 1008.7 711.4 1009.6 708.6 1009.2C705.9 1008.8 702.7 1007.6 701 1004.7C699.3 1001.9 700.4 994.5 698.5 992.1C696.6 989.7 692.6 990.2 689.6 990.2C686.7 990.2 682 990.3 680.8 992.1C679.5 993.9 681.9 997.8 682 1000.9C682.1 1004.1 680.6 1008.3 681.4 1011.1C682.2 1013.8 684.5 1015.5 687.1 1017.4C689.7 1019.3 693.9 1021 697.2 1022.5C700.6 1024 704.2 1024.8 707.4 1026.3C710.5 1027.8 714.1 1029 716.2 1031.4C718.4 1033.7 718.1 1037.9 720 1040.2C721.9 1042.5 724.5 1043.8 727.6 1045.3C730.8 1046.8 735.7 1048.4 739 1049.1C742.4 1049.8 744.5 1048.9 747.9 1049.7C751.3 1050.6 756.1 1053.8 759.3 1054.2C762.5 1054.5 764.4 1053.7 766.9 1051.6C769.5 1049.5 774.5 1044.7 774.5 1041.5C774.5 1038.3 766.9 1035.2 766.9 1032.6C766.9 1030.1 771.4 1028.6 774.5 1026.3C777.7 1024 782.3 1021.2 785.9 1018.7C789.5 1016.2 792.3 1013.8 796.1 1011.1C799.9 1008.3 804.7 1004.5 808.7 1002.2C812.7 999.9 817.2 996.9 820.1 997.1C823.1 997.4 824 1000.5 826.5 1003.5C828.9 1006.5 831.5 1011 835 1015C838.5 1019 845 1023.3 847.5 1027.5C850 1031.7 851.2 1035.8 850 1040C848.8 1044.2 843.8 1049.6 840 1052.5C836.2 1055.4 830 1054.6 827.5 1057.5C825 1060.4 825 1066.2 825 1070C825 1073.8 829.2 1075.8 827.5 1080C825.8 1084.2 818.8 1090.4 815 1095C811.2 1099.6 807.1 1103.3 805 1107.5C802.9 1111.7 805 1116.7 802.5 1120C800 1123.3 794.2 1125.8 790 1127.5C785.8 1129.2 781.7 1130 777.5 1130C773.3 1130 769.2 1126.2 765 1127.5C760.8 1128.8 756.7 1135 752.5 1137.5C748.3 1140 743.8 1142.5 740 1142.5C736.2 1142.5 734.2 1139.2 730 1137.5C725.8 1135.8 720 1134.4 715 1132.5C710 1130.6 706.7 1127.3 700 1126.2C693.3 1125.2 685 1127.3 675 1126.2C665 1125.2 650 1123.5 640 1120C630 1116.5 619 1106.5 615 1105C611 1103.5 616.6 1112 616.2 1111.2C615.7 1110.3 613.4 1102.7 612.4 1099.8C611.3 1096.8 609 1095.5 609.8 1093.4C610.7 1091.3 614.7 1088.6 617.4 1087.1C620.2 1085.6 624 1085.8 626.3 1084.6C628.6 1083.3 630.5 1082 631.4 1079.5C632.2 1077 631.8 1072.3 631.4 1069.4C630.9 1066.4 630.5 1064.3 628.8 1061.8C627.1 1059.2 623.1 1056.7 621.2 1054.2C619.3 1051.6 619.1 1048.9 617.4 1046.6C615.7 1044.2 613.8 1043 611.1 1040.2C608.3 1037.5 603.7 1032.1 600.9 1030.1C598.2 1028.1 597.4 1027.2 594.6 1028.2C591.9 1029.1 587.4 1035.3 584.5 1035.8C581.5 1036.3 576.7 1033.4 576.9 1031.4C577.1 1029.3 582.4 1026.5 585.7 1023.8C589.1 1021 594.4 1017.4 597.1 1014.9C599.9 1012.4 601.1 1010.9 602.2 1008.6C603.4 1006.2 604.7 1003.5 604.1 1000.9C603.5 998.4 600.8 995.7 598.4 993.3C596 991 592.5 989.1 589.5 987C586.6 984.9 583.2 982.9 580.7 980.7C578.1 978.5 577.3 975 574.3 973.7C571.4 972.4 566.7 971.9 562.9 973.1C559.1 974.2 554.1 978.1 551.5 980.7C549 983.2 549 985.6 547.7 988.3C546.5 990.9 545.2 995.9 543.9 996.5C542.7 997.1 541 994.7 540.1 992.1C539.3 989.4 539.1 984.1 538.9 980.7C538.7 977.3 538.2 976 538.9 971.8ZM539.5 932.5C539.7 931.7 543.7 931.1 546.5 931.3C549.2 931.5 554.8 932.4 556 933.8C557.1 935.2 555.2 939.1 553.4 939.5C551.6 939.9 547.5 937.5 545.2 936.3C542.9 935.2 539.3 933.4 539.5 932.5ZM632 972.4C633.3 971.1 639.5 970 644 969.9C648.6 969.8 657.3 970.4 659.2 971.8C661.1 973.2 659.2 977.1 655.4 978.1C651.6 979.2 640.3 979.1 636.4 978.1C632.5 977.2 630.7 973.8 632 972.4ZM445 1222.5C436.7 1220.4 446.7 1215.4 450 1212.5C453.3 1209.6 460 1207.5 465 1205C470 1202.5 475.8 1199.6 480 1197.5C484.2 1195.4 487.7 1191.7 490 1192.5C492.3 1193.3 492.3 1199.6 493.8 1202.5C495.2 1205.4 497.7 1206.2 498.8 1210C499.8 1213.8 509 1222.9 500 1225C491 1227.1 453.3 1224.6 445 1222.5ZM1152 910.6C1151.1 908.7 1153.3 907.8 1154.5 904.3C1155.8 900.8 1158.1 891.8 1159.6 889.7C1161.1 887.6 1161.7 890 1163.4 891.6C1165.1 893.2 1167.4 897.1 1169.7 899.2C1172.1 901.3 1174.4 903.6 1177.3 904.3C1180.3 904.9 1183.2 903.2 1187.5 903C1191.7 902.9 1198 902.8 1202.7 903.4C1207.3 904 1212.1 905.8 1215.3 906.6C1218.6 907.3 1220.8 908.7 1222.3 907.8C1223.8 907 1223.3 903.8 1224.2 901.5C1225.2 899.2 1226.7 896.8 1228 893.9C1229.3 890.9 1231.3 886.7 1231.8 883.8C1232.3 880.8 1231.6 878.7 1231.2 876.2C1230.8 873.6 1229.8 870.9 1229.3 868.6C1228.7 866.2 1227.4 864.1 1228 862.2C1228.6 860.3 1230.5 859.3 1233.1 857.1C1235.6 855 1239.8 851.9 1243.2 849.5C1246.6 847.2 1250.4 844.7 1253.3 843.2C1256.3 841.7 1258 841.2 1260.9 840.7C1263.9 840.1 1267.5 839.9 1271.1 840C1274.7 840.1 1279.1 841.8 1282.5 841.3C1285.9 840.8 1288.8 838.5 1291.4 836.9C1293.9 835.3 1294.9 833.1 1297.7 831.8C1300.4 830.5 1304.2 830.1 1307.8 829.3C1311.4 828.4 1315.6 828 1319.2 826.7C1322.8 825.5 1326.6 822.7 1329.4 821.7C1332.1 820.6 1333 820.1 1335.7 820.4C1338.4 820.7 1340.6 823.2 1345.8 823.6C1351.1 824 1359.6 823.3 1367.4 822.9C1375.2 822.6 1384.3 821.8 1392.7 821.7C1401.2 821.6 1411.7 821.9 1418.1 822.3C1424.4 822.7 1427.3 824.1 1430.7 824.2C1434.1 824.3 1435.6 823.8 1438.3 822.9C1441.1 822.1 1444.2 820 1447.2 819.1C1450.1 818.3 1453.3 817.9 1456.1 817.9C1458.8 817.9 1461.5 818.3 1463.7 819.1C1465.8 820 1468.9 821.7 1468.7 822.9C1468.5 824.2 1464.9 825.9 1462.4 826.7C1459.9 827.6 1456.7 827.4 1453.5 828C1450.4 828.6 1446.1 829.5 1443.4 830.5C1440.6 831.6 1439.2 833.1 1437.1 834.3C1434.9 835.6 1433.3 836.7 1430.7 838.1C1428.2 839.6 1424.4 841.7 1421.9 843.2C1419.3 844.7 1417.8 845.9 1415.5 847C1413.2 848.2 1411.7 848.7 1407.9 850.2C1404.1 851.7 1397.8 853.2 1392.7 855.9C1387.6 858.5 1381.3 865.2 1377.5 866C1373.7 866.9 1373.7 862.1 1369.9 860.9C1366.1 859.8 1360.4 859.2 1354.7 859C1349 858.9 1341.6 860.8 1335.7 860.3C1329.8 859.8 1324.9 857.4 1319.2 855.9C1313.5 854.4 1304 851.4 1301.5 851.4C1299 851.4 1303 854.1 1304 855.9C1305.1 857.7 1307.5 860.5 1307.8 862.2C1308.1 863.9 1306.1 864.3 1305.9 866C1305.7 867.7 1305.8 870.5 1306.6 872.4C1307.3 874.3 1308.7 875.5 1310.4 877.4C1312 879.3 1315.1 881.4 1316.7 883.8C1318.3 886.1 1320.1 888.8 1319.9 891.4C1319.7 893.9 1317.2 897.1 1315.4 899C1313.6 900.9 1311.4 902 1309.1 902.8C1306.8 903.5 1304.4 904 1301.5 903.4C1298.5 902.8 1294.3 900.5 1291.4 899C1288.4 897.4 1285.9 895.2 1283.8 893.9C1281.6 892.6 1280.8 891.1 1278.7 891.4C1276.6 891.6 1274 893.5 1271.1 895.2C1268.1 896.8 1263.9 900.2 1260.9 901.5C1258 902.8 1255.9 901.7 1253.3 902.8C1250.8 903.8 1248.3 906.3 1245.7 907.8C1243.2 909.3 1240.5 910.4 1238.1 911.6C1235.8 912.9 1233.3 914.2 1231.8 915.4C1230.3 916.7 1230.8 919 1229.3 919.2C1227.8 919.4 1225.1 916.5 1222.9 916.7C1220.8 916.9 1218.5 918.6 1216.6 920.5C1214.7 922.4 1213 925.8 1211.5 928.1C1210.1 930.4 1210.1 933.3 1207.7 934.4C1205.4 935.5 1201 935.5 1197.6 934.7C1194.2 933.9 1190.4 931.7 1187.5 929.6C1184.5 927.5 1182.8 924.1 1179.9 922C1176.9 919.9 1173.1 918 1169.7 916.9C1166.4 915.9 1162.5 916.7 1159.6 915.7C1156.6 914.6 1152.8 912.5 1152 910.6ZM1359.8 874.9C1361.9 875.3 1364 872.6 1367.4 871.1C1370.8 869.6 1375.8 868.3 1380 866C1384.3 863.7 1388.5 859.5 1392.7 857.1C1396.9 854.8 1402.4 851.9 1405.4 852.1C1408.3 852.3 1408.8 856.1 1410.4 858.4C1412.1 860.7 1414 863.9 1415.5 866C1417 868.1 1418.5 869 1419.3 871.1C1420.2 873.2 1419.7 876.2 1420.6 878.7C1421.4 881.2 1422.1 884.1 1424.4 886.3C1426.7 888.5 1433.9 890.1 1434.5 892C1435.2 893.9 1430.9 895.3 1428.2 897.7C1425.4 900.1 1421 903.8 1418.1 906.6C1415.1 909.3 1413 911.2 1410.4 914.2C1407.9 917.1 1405.8 920.7 1402.8 924.3C1399.9 927.9 1395.5 932.3 1392.7 935.7C1390 939.1 1388.9 943.1 1386.4 944.6C1383.8 946 1379.6 945.8 1377.5 944.6C1375.4 943.3 1374.8 939.9 1373.7 937C1372.7 934 1372 930.2 1371.2 926.8C1370.3 923.5 1369.7 920.1 1368.6 916.7C1367.6 913.3 1366.1 909.7 1364.8 906.6C1363.6 903.4 1362.1 901.1 1361 897.7C1360 894.3 1359.2 889.5 1358.5 886.3C1357.8 883.1 1356.4 880.8 1356.6 878.7C1356.8 876.6 1360.1 875.3 1359.8 873.6C1359.5 871.9 1354.7 868.3 1354.7 868.6C1354.7 868.8 1357.7 874.5 1359.8 874.9ZM1217.9 933.2C1220.8 933.4 1222.9 935.5 1225.5 937C1228 938.4 1230.5 940.6 1233.1 942C1235.6 943.5 1238.8 945.8 1240.7 945.8C1242.6 945.8 1244.1 944.1 1244.5 942C1244.9 939.9 1241.3 935.3 1243.2 933.2C1245.1 931.1 1252.1 930.8 1255.9 929.4C1259.7 927.9 1263.3 925.8 1266 924.3C1268.8 922.8 1270.5 920.8 1272.4 920.5C1274.3 920.2 1277.2 920.5 1277.4 922.4C1277.6 924.3 1274.7 928.6 1273.6 931.9C1272.6 935.2 1271.7 938.7 1271.1 942C1270.5 945.4 1271.1 949.2 1269.8 952.2C1268.6 955.1 1265.8 957.4 1263.5 959.8C1261.2 962.1 1258.8 964.6 1255.9 966.1C1252.9 967.6 1248.7 968.6 1245.7 968.6C1242.8 968.6 1240.3 967.4 1238.1 966.1C1236 964.8 1233.7 963.1 1233.1 961C1232.4 958.9 1235 955.5 1234.3 953.4C1233.7 951.3 1231.2 949.4 1229.3 948.4C1227.4 947.3 1225.3 948.2 1222.9 947.1C1220.6 946 1217.9 943.9 1215.3 942C1212.8 940.1 1207.3 937.2 1207.7 935.7C1208.2 934.2 1214.9 933 1217.9 933.2ZM1219.8 971.2C1219.8 970.5 1221.8 969.8 1222.9 969.9C1224.1 970 1226.7 971.2 1226.7 971.8C1226.7 972.4 1224.1 973.8 1222.9 973.7C1221.8 973.6 1219.8 971.8 1219.8 971.2ZM1446.6 881.9C1446.7 881.1 1448.4 879.8 1449.1 880C1449.8 880.1 1451.1 881.7 1451 882.5C1450.9 883.2 1449.2 884.5 1448.5 884.4C1447.7 884.3 1446.5 882.6 1446.6 881.9ZM1230.5 798.9C1231.5 798 1238.4 801.2 1238.8 802.7C1239.2 804.1 1234.4 808.4 1233.1 807.7C1231.7 807.1 1229.6 799.7 1230.5 798.9ZM1097.5 892.5C1098.8 890.6 1103.8 888.3 1105 890C1106.2 891.7 1106.2 900.6 1105 902.5C1103.8 904.4 1098.8 902.9 1097.5 901.2C1096.2 899.6 1096.2 894.4 1097.5 892.5ZM1112.5 882.5C1114 881.5 1125.4 881.5 1126.2 882.5C1127.1 883.5 1119.8 888.8 1117.5 888.8C1115.2 888.8 1111 883.5 1112.5 882.5ZM1177.5 870C1178.3 867.7 1183.3 867.1 1185 868.8C1186.7 870.4 1188.3 877.7 1187.5 880C1186.7 882.3 1181.7 884.2 1180 882.5C1178.3 880.8 1176.7 872.3 1177.5 870ZM1220 970C1220.4 969.5 1225.6 969.9 1226.2 970.5C1226.9 971.1 1224.8 973.8 1223.8 973.8C1222.7 973.7 1219.6 970.5 1220 970ZM880 935C880.6 932.5 881.7 931.2 882.5 932.5C883.3 933.8 883.5 938.8 885 942.5C886.5 946.2 887.9 951.9 891.2 955C894.6 958.1 898.5 960.4 905 961.2C911.5 962.1 923.1 960 930 960C936.9 960 945.4 960 946.2 961.2C947.1 962.5 939.4 965.4 935 967.5C930.6 969.6 924.2 972.1 920 973.8C915.8 975.4 914.6 976.9 910 977.5C905.4 978.1 895.8 979.2 892.5 977.5C889.2 975.8 892.1 970.4 890 967.5C887.9 964.6 881.9 963.3 880 960C878.1 956.7 878.8 951.7 878.8 947.5C878.8 943.3 879.4 937.5 880 935ZM1747.5 632.5C1747.7 630.8 1752.9 625.6 1755 625C1757.1 624.4 1760.2 627.1 1760 628.8C1759.8 630.4 1755.8 634.4 1753.8 635C1751.7 635.6 1747.3 634.2 1747.5 632.5ZM1176.7 872.6C1177.3 870.4 1179.4 868.2 1181.2 868.2C1183 868.2 1186.3 870.6 1187.5 872.6C1188.7 874.6 1189 878.2 1188.1 880.2C1187.3 882.2 1184.1 884.4 1182.4 884.7C1180.8 884.9 1179 883.5 1178 881.5C1177.1 879.5 1176.2 874.8 1176.7 872.6ZM1096.9 891.6C1097.6 889.8 1100.4 889.1 1101.4 891C1102.3 892.9 1103.3 901.2 1102.6 903C1102 904.8 1098.5 903.7 1097.6 901.8C1096.6 899.9 1096.3 893.4 1096.9 891.6ZM1110.2 880.2C1112.8 879.7 1125.6 880.9 1126.7 882.1C1127.8 883.4 1119.1 887.3 1116.6 887.8C1114 888.4 1112.5 886.6 1111.5 885.3C1110.4 884 1107.7 880.8 1110.2 880.2ZM1233.1 799.1C1233.9 798.4 1238.6 801.6 1238.8 802.9C1239 804.3 1235.3 808 1234.4 807.4C1233.4 806.7 1232.4 799.9 1233.1 799.1Z"/>
<path fill="#fcfed3" d="M694.1 1040.2C694.8 1038.1 696.7 1037.3 698.5 1037.7C700.3 1038.1 703.1 1040.9 704.8 1042.8C706.5 1044.7 708.2 1047.4 708.6 1049.1C709.1 1050.8 709.1 1052.2 707.4 1052.9C705.7 1053.6 700.7 1053.9 698.5 1053.5C696.3 1053.1 694.8 1052.6 694.1 1050.4C693.3 1048.1 693.3 1042.3 694.1 1040.2ZM573.1 937.6C574.6 936.4 579.8 935.3 583.2 935.1C586.6 934.9 591.1 935.5 593.3 936.3C595.6 937.2 596.5 938.9 596.5 940.1C596.5 941.4 595.6 943.2 593.3 943.9C591.1 944.7 586.4 944.9 583.2 944.6C580 944.3 576 943.2 574.3 942C572.7 940.9 571.6 938.8 573.1 937.6ZM724.2 1110.5C725 1108.3 729.8 1103.8 732.3 1101.4C734.8 1099.1 736.7 1096.2 739.4 1096.4C742.1 1096.5 745.5 1100.1 748.5 1102.4C751.5 1104.8 755.9 1107.5 757.6 1110.5C759.3 1113.6 760.2 1117.7 758.6 1120.7C757.1 1123.6 751.9 1128.1 748.5 1128.3C745.1 1128.4 741.9 1124 738.4 1121.7C734.8 1119.4 729.6 1116.5 727.2 1114.6C724.9 1112.7 723.3 1112.7 724.2 1110.5Z"/>
<path fill="#d1edb3" d="M1684.1 1202.2C1682.8 1199.1 1686 1194.1 1687.9 1189.5C1689.8 1184.9 1692.6 1178.9 1695.5 1174.3C1698.5 1169.7 1701.9 1165.6 1705.7 1161.6C1709.5 1157.6 1713.7 1153.8 1718.3 1150.2C1723 1146.6 1728.9 1142.9 1733.5 1140.1C1738.2 1137.2 1742.4 1134.2 1746.2 1133.1C1750 1132.1 1753 1132.8 1756.3 1133.8C1759.7 1134.7 1763.1 1137.6 1766.5 1138.8C1769.8 1140.1 1774.9 1136.7 1776.6 1141.4C1778.3 1146 1778.3 1162.5 1776.6 1166.7C1774.9 1170.9 1770.1 1167 1766.5 1166.7C1762.9 1166.4 1759.7 1165.1 1755.1 1164.8C1750.4 1164.5 1743.9 1163.4 1738.6 1164.8C1733.3 1166.2 1727.6 1170 1723.4 1173C1719.2 1176.1 1716.2 1179.4 1713.3 1183.2C1710.3 1187 1708.6 1191.7 1705.7 1195.8C1702.7 1200 1699.1 1206.8 1695.5 1207.9C1691.9 1208.9 1685.4 1205.2 1684.1 1202.2ZM1704.4 1222.4C1704.8 1219.9 1704.6 1217.4 1706.9 1214.8C1709.2 1212.3 1713.9 1210 1718.3 1207.2C1722.8 1204.5 1728.9 1201.3 1733.5 1198.4C1738.2 1195.4 1742.2 1192.5 1746.2 1189.5C1750.2 1186.5 1754.2 1182.5 1757.6 1180.6C1761 1178.7 1763.3 1178.7 1766.5 1178.1C1769.6 1177.5 1774.9 1172.4 1776.6 1176.8C1778.3 1181.3 1778.3 1200.1 1776.6 1204.7C1774.9 1209.3 1769.4 1204.1 1766.5 1204.7C1763.5 1205.3 1761.8 1206.4 1758.9 1208.5C1755.9 1210.6 1751.5 1215 1748.7 1217.4C1746 1219.7 1744.5 1220.3 1742.4 1222.4C1740.3 1224.6 1742.4 1228.8 1736.1 1230C1729.7 1231.3 1709.7 1231.3 1704.4 1230C1699.1 1228.8 1704 1225 1704.4 1222.4ZM309.6 293.9C312.4 292 327.1 292 331.8 293.9C336.6 295.8 336.5 301.3 338.1 305.3C339.8 309.3 340.7 314.1 341.9 317.9C343.2 321.7 344.3 324.5 345.7 328.1C347.2 331.7 349.1 335.7 350.8 339.5C352.5 343.3 354.2 346.9 355.9 350.9C357.6 354.9 359.7 359.3 360.9 363.6C362.2 367.8 362.8 372 363.5 376.2C364.1 380.4 363.5 385.5 364.7 388.9C366 392.3 369.5 394.2 371.1 396.5C372.7 398.8 373.5 400.6 374.3 402.8C375 405 376.4 407.8 375.5 409.8C374.7 411.8 371 415 369.2 414.9C367.4 414.8 367 411.4 364.7 409.2C362.5 406.9 358 404.5 355.9 401.6C353.8 398.6 353.8 395 352.1 391.4C350.4 387.8 347.9 384.2 345.7 380C343.6 375.8 341.3 370.1 339.4 366.1C337.5 362.1 335.8 359.5 334.3 355.9C332.9 352.4 332 348.3 330.5 344.5C329.1 340.7 327 336.7 325.5 333.1C324 329.6 322.6 326.2 321.7 323C320.7 319.8 320.8 317.1 319.8 314.1C318.7 311.2 317 308.6 315.3 305.3C313.6 301.9 306.9 295.8 309.6 293.9ZM390.1 350.9C389.9 347.9 390.7 346.7 392.6 343.3C394.5 339.9 398.7 333.7 401.5 330.6C404.2 327.5 406.1 325.2 409.1 324.9C412 324.6 416.7 326.5 419.2 328.7C421.8 330.9 422.2 334.7 424.3 338.2C426.4 341.7 431.1 346.7 431.9 349.6C432.7 352.6 430.6 353.8 429.4 355.9C428.1 358.1 427.3 360.6 424.3 362.3C421.3 364 415.8 365.1 411.6 366.1C407.4 367 401.9 368.8 399 368C396 367.1 395.4 363.9 393.9 361C392.4 358.2 390.3 353.8 390.1 350.9ZM468 331.9C468.3 330 469.4 326.4 471.2 325.5C473 324.7 476.7 325.8 478.8 326.8C480.9 327.9 483.4 330 483.8 331.9C484.3 333.8 483.4 336.4 481.3 338.2C479.2 340 473.2 342.9 471.2 342.6C469.2 342.4 469.8 338.7 469.3 336.9C468.7 335.1 467.7 333.8 468 331.9ZM295.1 448.4C297 445 302 440.2 306.5 438.9C310.9 437.7 316.4 440.3 321.7 440.8C327 441.4 333.9 441 338.1 442.1C342.4 443.2 345.1 445.1 347 447.2C348.9 449.3 349.3 452.2 349.5 454.8C349.8 457.3 349.3 459.8 348.3 462.4C347.2 464.9 346.6 468.4 343.2 470C339.8 471.6 332.7 472.3 328 471.9C323.4 471.5 320.8 469.4 315.3 467.4C309.8 465.4 298.4 463 295.1 459.8C291.7 456.7 293.2 451.9 295.1 448.4ZM366 434.5C367.1 432.8 371.7 434.7 373 435.8C374.3 436.8 372.4 438.9 373.6 440.8C374.9 442.7 379.7 445.1 380.6 447.2C381.4 449.3 380.3 452.9 378.7 453.5C377.1 454.1 373.1 452.2 371.1 451C369.1 449.7 367.5 448.6 366.7 445.9C365.8 443.2 365 436.2 366 434.5ZM1251.2 311.2C1252.9 308.8 1260.8 302.5 1265 300C1269.2 297.5 1274 295.6 1276.2 296.2C1278.5 296.9 1279.2 300.8 1278.8 303.8C1278.3 306.7 1277.7 311.9 1273.8 313.8C1269.8 315.6 1258.8 315.4 1255 315C1251.2 314.6 1249.6 313.8 1251.2 311.2ZM1311.2 360C1312.5 356 1315.6 352.1 1320 350C1324.4 347.9 1334.8 345.8 1337.5 347.5C1340.2 349.2 1338.3 355.8 1336.2 360C1334.2 364.2 1329 370.2 1325 372.5C1321 374.8 1314.8 375.8 1312.5 373.8C1310.2 371.7 1310 364 1311.2 360ZM1056.2 447.5C1057.9 444.8 1064.8 441 1067.5 441.2C1070.2 441.5 1072.5 446 1072.5 448.8C1072.5 451.5 1070 456 1067.5 457.5C1065 459 1059.4 459.2 1057.5 457.5C1055.6 455.8 1054.6 450.2 1056.2 447.5ZM1286.2 428.8C1287.3 426.2 1291.9 421 1293.8 422C1295.6 423 1295.2 431.2 1297.5 435C1299.8 438.8 1305 440.8 1307.5 445C1310 449.2 1310.8 456.2 1312.5 460C1314.2 463.8 1317.1 464.8 1317.5 467.5C1317.9 470.2 1317.1 475.8 1315 476.2C1312.9 476.7 1307.3 473.5 1305 470C1302.7 466.5 1303.3 458.8 1301.2 455C1299.2 451.2 1294.8 450.4 1292.5 447.5C1290.2 444.6 1288.5 440.6 1287.5 437.5C1286.5 434.4 1285.2 431.3 1286.2 428.8ZM858.8 531.2C859.8 527.7 862.7 520.6 866.2 516.2C869.8 511.9 876 506.5 880 505C884 503.5 887.7 505.4 890 507.5C892.3 509.6 891.2 514.6 893.8 517.5C896.2 520.4 902.7 522.7 905 525C907.3 527.3 910 529 907.5 531.2C905 533.5 895.4 538.1 890 538.8C884.6 539.4 880 535.2 875 535C870 534.8 862.7 538.1 860 537.5C857.3 536.9 857.7 534.8 858.8 531.2ZM1053.8 547.5C1054.2 544.9 1056.2 543.2 1057.5 544.5C1058.8 545.8 1061 551.4 1061.2 555C1061.5 558.6 1059.8 565.4 1058.8 566.2C1057.7 567.1 1055.8 563.1 1055 560C1054.2 556.9 1053.3 550.1 1053.8 547.5ZM1365 372.5C1367.2 369.2 1374.8 365.4 1377.5 365C1380.2 364.6 1380.8 366.7 1381.2 370C1381.7 373.3 1381.2 380.4 1380 385C1378.8 389.6 1376 395.6 1373.8 397.5C1371.5 399.4 1367.8 398.3 1366.2 396.2C1364.7 394.2 1364.7 389 1364.5 385C1364.3 381 1362.8 375.8 1365 372.5ZM1436.2 378.8C1438.1 377.8 1446.9 376.9 1448.8 377.5C1450.6 378.1 1449.4 381.6 1447.5 382.5C1445.6 383.4 1439.4 383.6 1437.5 383C1435.6 382.4 1434.4 379.7 1436.2 378.8ZM1422.5 407.5C1423.3 404.6 1428.3 400.4 1431.2 398.8C1434.2 397.1 1438.5 396 1440 397.5C1441.5 399 1440.8 404.8 1440 407.5C1439.2 410.2 1437.3 412.3 1435 413.8C1432.7 415.2 1428.3 417.3 1426.2 416.2C1424.2 415.2 1421.7 410.4 1422.5 407.5ZM1375 455C1377.1 452.1 1384.4 447.1 1387.5 447.5C1390.6 447.9 1395 454.8 1393.8 457.5C1392.5 460.2 1383.1 462.5 1380 463.8C1376.9 465 1375.8 466.5 1375 465C1374.2 463.5 1372.9 457.9 1375 455ZM1320 506.2C1321.9 501.2 1329.6 495.2 1335 490C1340.4 484.8 1347.5 478.8 1352.5 475C1357.5 471.2 1361.2 468.8 1365 467.5C1368.8 466.2 1374.6 465.4 1375 467.5C1375.4 469.6 1370 475 1367.5 480C1365 485 1362.1 491.7 1360 497.5C1357.9 503.3 1358.3 510.2 1355 515C1351.7 519.8 1343.3 524.2 1340 526.2C1336.7 528.3 1337.7 528.5 1335 527.5C1332.3 526.5 1326.2 523.5 1323.8 520C1321.2 516.5 1318.1 511.2 1320 506.2ZM1416.2 417.5C1417.1 415 1420.6 416.2 1421.2 420C1421.9 423.8 1419.2 433.3 1420 440C1420.8 446.7 1425 453.3 1426.2 460C1427.5 466.7 1426.9 472.9 1427.5 480C1428.1 487.1 1428.3 496.7 1430 502.5C1431.7 508.3 1436 510.8 1437.5 515C1439 519.2 1440 523.8 1438.8 527.5C1437.5 531.2 1432.5 532.9 1430 537.5C1427.5 542.1 1425.4 550.4 1423.8 555C1422.1 559.6 1422.7 560.2 1420 565C1417.3 569.8 1410.2 582.5 1407.5 583.8C1404.8 585 1403.3 576.9 1403.8 572.5C1404.2 568.1 1408.1 562.1 1410 557.5C1411.9 552.9 1417.1 547.9 1415 545C1412.9 542.1 1403.3 540 1397.5 540C1391.7 540 1384.2 545 1380 545C1375.8 545 1372.9 542.5 1372.5 540C1372.1 537.5 1375 533.3 1377.5 530C1380 526.7 1384.6 525 1387.5 520C1390.4 515 1392.9 507.5 1395 500C1397.1 492.5 1399.4 481.7 1400 475C1400.6 468.3 1397.5 464.6 1398.8 460C1400 455.4 1404.6 451.7 1407.5 447.5C1410.4 443.3 1414.8 440 1416.2 435C1417.7 430 1415.4 420 1416.2 417.5ZM1397.5 605C1399.6 602.3 1403.8 596.2 1407.5 596.2C1411.2 596.2 1419 601.9 1420 605C1421 608.1 1416.7 612.9 1413.8 615C1410.8 617.1 1405.6 617.9 1402.5 617.5C1399.4 617.1 1395.8 614.6 1395 612.5C1394.2 610.4 1395.4 607.7 1397.5 605ZM1362.5 631.2C1364.4 629.6 1373.5 628.1 1376.2 628.8C1379 629.4 1380.6 633.3 1378.8 635C1376.9 636.7 1367.7 639.4 1365 638.8C1362.3 638.1 1360.6 632.9 1362.5 631.2ZM295 496.2C296.5 460.5 300 496.8 303.8 499.5C307.5 502.2 312.5 508.2 317.5 512.5C322.5 516.8 328.3 520.6 333.8 525.5C339.2 530.4 345.6 537.1 350 542C354.4 546.9 357.7 548.7 360 555C362.3 561.3 362.1 575.5 363.8 580C365.4 584.5 367.7 579.1 370 582C372.3 584.9 374.2 593.2 377.5 597.5C380.8 601.8 386.9 603.1 390 607.5C393.1 611.9 394.4 620.8 396.2 623.8C398.1 626.8 398.5 622.4 401.2 625.5C404 628.6 409.4 635.1 412.5 642.5C415.6 649.9 418.5 663.8 420 670C421.5 676.2 423.3 677.7 421.2 680C419.2 682.3 412.7 683.1 407.5 683.8C402.3 684.4 395.8 682.7 390 683.8C384.2 684.8 377.9 687.3 372.5 690C367.1 692.7 362.9 696.7 357.5 700C352.1 703.3 345.8 707.1 340 710C334.2 712.9 330 716.9 322.5 717.5C315 718.1 299.6 750.6 295 713.8C290.4 676.9 293.5 532 295 496.2ZM507.5 570C508.1 573.3 510 579.6 511.2 585C512.5 590.4 513.8 596.7 515 602.5C516.2 608.3 517.3 614.6 518.8 620C520.2 625.4 521.5 631.2 523.8 635C526 638.8 529.8 640.9 532.5 642.5C535.2 644.1 534.6 644.7 540 644.5C545.4 644.3 557.9 642 565 641.2C572.1 640.5 576.2 640.8 582.5 640C588.8 639.2 596.7 637 602.5 636.2C608.3 635.5 613.8 634 617.5 635.5C621.2 637 621.2 640.9 625 645C628.8 649.1 634.6 655.4 640 660C645.4 664.6 651.7 668.8 657.5 672.5C663.3 676.2 669.6 679.2 675 682.5C680.4 685.8 685.4 689.6 690 692.5C694.6 695.4 698.3 697.9 702.5 700C706.7 702.1 711.2 705.8 715 705C718.8 704.2 721.2 697.9 725 695C728.8 692.1 733.8 687.1 737.5 687.5C741.2 687.9 742.9 694.4 747.5 697.5C752.1 700.6 759.6 703.3 765 706.2C770.4 709.2 775.8 711.9 780 715C784.2 718.1 785.8 722.5 790 725C794.2 727.5 799.6 728.5 805 730C810.4 731.5 816.9 733.8 822.5 733.8C828.1 733.8 835.8 733.1 838.8 730C841.7 726.9 837.7 719 840 715C842.3 711 847.9 709 852.5 706.2C857.1 703.5 862.6 701 867.5 698.8C872.4 696.5 879.6 674.6 882 692.5C884.4 710.4 883.2 786.7 882 806.2C880.8 825.8 877 807.3 875 810C873 812.7 871.2 818.3 870 822.5C868.8 826.7 869.2 833.1 867.5 835C865.8 836.9 862.9 835.8 860 833.8C857.1 831.7 853.8 827.7 850 822.5C846.2 817.3 841.2 808.3 837.5 802.5C833.8 796.7 830.8 792.5 827.5 787.5C824.2 782.5 821.2 777.1 817.5 772.5C813.8 767.9 810.4 764 805 760C799.6 756 791.7 751.7 785 748.8C778.3 745.8 772.5 745.2 765 742.5C757.5 739.8 747.5 733.8 740 732.5C732.5 731.2 726.2 735.4 720 735C713.8 734.6 707.5 732.5 702.5 730C697.5 727.5 694.6 723.3 690 720C685.4 716.7 680.4 713.8 675 710C669.6 706.2 663.3 701.7 657.5 697.5C651.7 693.3 645.8 688.8 640 685C634.2 681.2 628.3 678.8 622.5 675C616.7 671.2 610.4 666.2 605 662.5C599.6 658.8 596.7 654.4 590 652.5C583.3 650.6 571.7 650.8 565 651.2C558.3 651.7 551.2 652.3 550 655C548.8 657.7 554.6 662.9 557.5 667.5C560.4 672.1 565 677.1 567.5 682.5C570 687.9 570.4 694.2 572.5 700C574.6 705.8 578.1 712.1 580 717.5C581.9 722.9 582.1 728.8 583.8 732.5C585.4 736.2 586.5 737.1 590 740C593.5 742.9 601.9 746.2 605 750C608.1 753.8 606.2 758.8 608.8 762.5C611.2 766.2 615.6 769.2 620 772.5C624.4 775.8 632.3 778.8 635 782.5C637.7 786.2 636.5 790.8 636.2 795C636 799.2 633.1 803.3 633.8 807.5C634.4 811.7 638.3 815.8 640 820C641.7 824.2 644.2 829 643.8 832.5C643.3 836 640.2 838.3 637.5 841.2C634.8 844.2 629.4 846 627.5 850C625.6 854 625.4 860.4 626.2 865C627.1 869.6 629.4 873.3 632.5 877.5C635.6 881.7 640.8 885.8 645 890C649.2 894.2 654.8 898.3 657.5 902.5C660.2 906.7 661.2 912.1 661.2 915C661.2 917.9 660.2 919.4 657.5 920C654.8 920.6 650 921.2 645 918.8C640 916.2 632.5 908.5 627.5 905C622.5 901.5 618.1 900.4 615 897.5C611.9 894.6 610.4 892.1 608.8 887.5C607.1 882.9 606 875.8 605 870C604 864.2 602.1 857.1 602.5 852.5C602.9 847.9 606.2 845.8 607.5 842.5C608.8 839.2 609.8 837.1 610 832.5C610.2 827.9 608.3 820.4 608.8 815C609.2 809.6 612.3 804.2 612.5 800C612.7 795.8 612.5 793.8 610 790C607.5 786.2 602.1 781.2 597.5 777.5C592.9 773.8 587.9 770 582.5 767.5C577.1 765 568.8 764.4 565 762.5C561.2 760.6 561.2 759.2 560 756.2C558.8 753.3 557.7 750.2 557.5 745C557.3 739.8 558.3 731.7 558.8 725C559.2 718.3 560.6 710.8 560 705C559.4 699.2 557.1 695 555 690C552.9 685 550.4 679.6 547.5 675C544.6 670.4 541.7 666.2 537.5 662.5C533.3 658.8 527.1 655.8 522.5 652.5C517.9 649.2 513.3 647.1 510 642.5C506.7 637.9 504.8 630.8 502.5 625C500.2 619.2 497.9 614.2 496.2 607.5C494.6 600.8 494 591.2 492.5 585C491 578.8 488.1 574.2 487.5 570C486.9 565.8 488.8 564.2 488.8 560C488.8 555.8 489 550.8 487.5 545C486 539.2 482.9 531.7 480 525C477.1 518.3 472.9 511.7 470 505C467.1 498.3 465.4 490 462.5 485C459.6 480 454.6 477.9 452.5 475C450.4 472.1 448.3 469.8 450 467.5C451.7 465.2 457.5 460.4 462.5 461.2C467.5 462.1 474.2 469 480 472.5C485.8 476 492.9 478.3 497.5 482.5C502.1 486.7 505.2 492.1 507.5 497.5C509.8 502.9 511.2 508.8 511.2 515C511.2 521.2 508.5 529.2 507.5 535C506.5 540.8 505 545 505 550C505 555 507.1 561.7 507.5 565C507.9 568.3 506.9 566.7 507.5 570ZM540 780C541 776.5 546.9 771.2 550 771.2C553.1 771.2 555.8 776.9 558.8 780C561.7 783.1 564.4 786.2 567.5 790C570.6 793.8 574.6 797.9 577.5 802.5C580.4 807.1 582.9 813.3 585 817.5C587.1 821.7 590 825 590 827.5C590 830 587.9 832.9 585 832.5C582.1 832.1 576.2 828.1 572.5 825C568.8 821.9 565.8 817.5 562.5 813.8C559.2 810 555.6 806 552.5 802.5C549.4 799 545.8 796.2 543.8 792.5C541.7 788.8 539 783.5 540 780ZM769.9 712.5C772.1 706.4 777.5 712.5 780 714.2C782.5 715.9 782.8 720.4 785.1 722.7C787.3 724.9 790.1 726.3 793.5 727.7C796.9 729.1 801.4 730 805.3 731.1C809.2 732.2 812.9 733.1 817.1 734.5C821.3 735.9 827.5 739.5 830.6 739.5C833.7 739.5 834.3 738.7 835.7 734.5C837.1 730.3 837.1 718.7 839 714.2C841 709.7 844.1 709.5 847.5 707.5C850.9 705.5 855.4 704.7 859.3 702.4C863.2 700.2 867.7 697.1 871.1 694C874.5 690.9 876.7 687 879.5 683.9C882.3 680.8 885.2 677.5 888 675.4C890.8 673.3 893.5 671.6 896.4 671.2C899.4 670.8 904 671.1 905.7 672.9C907.4 674.7 907.8 679.2 906.5 682.2C905.3 685.1 900.5 687.5 898.1 690.6C895.7 693.7 893 696.8 892.2 700.7C891.3 704.7 891.5 712.3 893 714.2C894.6 716.2 898.1 713.1 901.5 712.5C904.8 712 911 712.3 913.3 710.9C915.5 709.5 913.6 706.6 915 704.1C916.4 701.6 919.5 698.8 921.7 695.7C924 692.6 926.2 689.2 928.5 685.6C930.7 681.9 932.1 677.1 935.2 673.7C938.3 670.4 943.4 667.8 947 665.3C950.7 662.8 954.3 661.1 957.1 658.6C960 656 961.1 652.7 963.9 650.1C966.7 647.6 970.9 644.2 974 643.4C977.1 642.5 979.9 642 982.4 645.1C985 648.2 986.9 658.3 989.2 661.9C991.4 665.6 993.4 667.3 995.9 667C998.5 666.7 1001.3 662.4 1004.4 660.2C1007.5 658.1 1011.4 655.2 1014.5 654.3C1017.6 653.5 1020.7 653.9 1022.9 655.2C1025.2 656.4 1025.2 660.5 1028 661.9C1030.8 663.3 1036.4 661.9 1039.8 663.6C1043.2 665.3 1047.1 669 1048.2 672.1C1049.4 675.1 1047.1 678.5 1046.6 682.2C1046 685.8 1043.7 690.6 1044.9 694C1046 697.4 1051.6 699.6 1053.3 702.4C1055 705.2 1053 708 1055 710.9C1057 713.7 1061.2 716.5 1065.1 719.3C1069 722.1 1074.7 726.2 1078.6 727.7C1082.5 729.3 1085.1 729.4 1088.7 728.6C1092.4 727.7 1097.2 725.1 1100.5 722.7C1103.9 720.3 1109 717 1109 714.2C1109 711.4 1104.8 709.2 1100.5 705.8C1096.3 702.4 1084.2 698.5 1083.7 694C1083.1 689.5 1093.2 681.1 1097.2 678.8C1101.1 676.6 1103.9 678.5 1107.3 680.5C1110.7 682.5 1112.9 687.5 1117.4 690.6C1121.9 693.7 1128.7 695.7 1134.3 699C1139.9 702.4 1146.9 708 1151.2 710.9C1155.4 713.7 1156.2 716.5 1159.6 715.9C1163 715.4 1168 708.6 1171.4 707.5C1174.8 706.4 1176.3 708 1180 709.2C1183.7 710.3 1189.1 712.5 1193.3 714.2C1197.5 715.9 1203.7 717 1205.1 719.3C1206.5 721.5 1204.6 725.2 1201.8 727.7C1199 730.3 1191.9 732.2 1188.3 734.5C1184.6 736.7 1183.7 738.7 1180 741.2C1176.3 743.8 1169.7 747.1 1166.3 749.7C1162.9 752.2 1162.1 754.4 1159.6 756.4C1157.1 758.4 1154.5 760.3 1151.2 761.5C1147.8 762.6 1139.6 761.2 1139.3 763.2C1139.1 765.1 1146.9 769.9 1149.5 773.3C1152 776.7 1154.5 779.7 1154.5 783.4C1154.5 787.1 1152 791.8 1149.5 795.2C1146.9 798.6 1143.3 804.5 1139.3 803.6C1135.4 802.8 1129.2 793.8 1125.8 790.1C1122.5 786.5 1120.5 784.5 1119.1 781.7C1117.7 778.9 1116.3 776.4 1117.4 773.3C1118.5 770.2 1127.3 766 1125.8 763.2C1124.4 760.3 1114.6 758.4 1109 756.4C1103.4 754.4 1096.9 752.5 1092.1 751.3C1087.3 750.2 1084.5 750.5 1080.3 749.7C1076.1 748.8 1071.9 745.4 1066.8 746.3C1061.7 747.1 1055.6 753 1049.9 754.7C1044.3 756.4 1039.2 755.8 1033.1 756.4C1026.9 757 1018.7 756.1 1012.8 758.1C1006.9 760.1 1002.4 765.5 997.6 768.2C992.8 770.9 987.2 773.3 984.1 774.1C981 775 980.8 773.1 979.1 773.3C977.4 773.4 976.5 771.9 974 775C971.5 778.1 967 787.3 963.9 791.8C960.8 796.3 955.2 799.4 955.5 802C955.7 804.5 962.5 805.9 965.6 807C968.7 808.1 970.8 807.7 974 808.7C977.2 809.7 984.4 810.4 985 812.9C985.5 815.5 980.6 821.8 977.4 823.9C974.2 826 969.2 823.9 965.6 825.6C961.9 827.3 958.8 831.2 955.5 834C952.1 836.8 949.3 840.2 945.3 842.4C941.4 844.7 935.8 846.5 931.8 847.5C927.9 848.5 925.1 849.2 921.7 848.4C918.3 847.5 914.7 844 911.6 842.4C908.5 840.9 906.8 841.9 903.2 839.1C899.5 836.3 893.6 827.8 889.7 825.6C885.7 823.3 882.1 824.2 879.5 825.6C877 827 877.3 832.2 874.5 834C871.7 835.8 865.5 837.7 862.7 836.5C859.9 835.4 859.6 830.2 857.6 827.3C855.6 824.3 854.2 821.4 850.9 818.8C847.5 816.3 841.9 814.3 837.4 812.1C832.9 809.8 827.1 807.6 823.9 805.3C820.6 803.1 819.1 803.6 818 798.6C816.8 793.5 818.9 781.2 817.1 775C815.3 768.8 810.4 764.6 807 761.5C803.6 758.4 801.4 757.5 796.9 756.4C792.4 755.3 785.1 755.6 780 754.7C774.9 753.9 768.2 758.4 766.5 751.3C764.8 744.3 767.6 718.7 769.9 712.5ZM906.5 876.2C907.1 872 907.9 869.7 911.6 867.8C915.2 865.8 922.8 865.5 928.5 864.4C934.1 863.3 940.8 860.4 945.3 861C949.8 861.6 952.8 865.2 955.5 867.8C958.1 870.3 960.5 873.1 961.4 876.2C962.2 879.3 961.2 882.9 960.5 886.3C959.8 889.7 959.1 892.5 957.1 896.4C955.2 900.4 952.4 905.4 948.7 909.9C945 914.4 939.7 920.6 935.2 923.4C930.7 926.2 925.1 927.6 921.7 926.8C918.3 926 916.7 922.3 915 918.4C913.3 914.4 912.7 907.4 911.6 903.2C910.5 899 909.1 897.6 908.2 893.1C907.4 888.6 906 880.4 906.5 876.2ZM1004.4 802C1004.1 800.7 1009.7 798.6 1012.8 798.6C1015.9 798.6 1022.7 800.7 1022.9 802C1023.2 803.2 1017.6 806.2 1014.5 806.2C1011.4 806.2 1004.7 803.2 1004.4 802ZM1320 715C1317.1 711.2 1316.7 701.2 1317.5 695C1318.3 688.8 1321.7 682.5 1325 677.5C1328.3 672.5 1332.9 669.2 1337.5 665C1342.1 660.8 1346.8 655.4 1352.5 652.5C1358.2 649.6 1368.8 637.9 1372 647.5C1375.2 657.1 1374.8 699.2 1372 710C1369.2 720.8 1361.2 711.2 1355 712.5C1348.8 713.8 1340.8 717.1 1335 717.5C1329.2 717.9 1322.9 718.8 1320 715ZM1342.5 745C1344.2 742.9 1350.1 740.4 1355 740C1359.9 739.6 1369.2 739.2 1372 742.5C1374.8 745.8 1374.8 757.5 1372 760C1369.2 762.5 1359.5 758.8 1355 757.5C1350.5 756.2 1347.1 754.6 1345 752.5C1342.9 750.4 1340.8 747.1 1342.5 745ZM1360 632.5C1361.6 631 1370 629 1372 630C1374 631 1373.6 637.3 1372 638.8C1370.4 640.2 1364.5 639.8 1362.5 638.8C1360.5 637.7 1358.4 634 1360 632.5ZM1230 672.5C1233.3 671.5 1249 671.9 1252.5 672.5C1256 673.1 1254.6 675.2 1251.2 676.2C1247.9 677.3 1236 679.4 1232.5 678.8C1229 678.1 1226.7 673.5 1230 672.5ZM1316.2 715C1315 710 1315.6 699.2 1317.5 692.5C1319.4 685.8 1323.8 680.4 1327.5 675C1331.2 669.6 1335.4 664.2 1340 660C1344.6 655.8 1348.3 652.1 1355 650C1361.7 647.9 1369.6 648.5 1380 647.5C1390.4 646.5 1406.7 645 1417.5 643.8C1428.3 642.5 1438.3 639.4 1445 640C1451.7 640.6 1454.2 643.8 1457.5 647.5C1460.8 651.2 1461.2 658.1 1465 662.5C1468.8 666.9 1475 673.3 1480 673.8C1485 674.2 1489.6 668.5 1495 665C1500.4 661.5 1509 656.2 1512.5 652.5C1516 648.8 1514.6 644.2 1516.2 642.5C1517.9 640.8 1521.5 638.8 1522.5 642.5C1523.5 646.2 1523.8 659.6 1522.5 665C1521.2 670.4 1515.8 672.1 1515 675C1514.2 677.9 1514.6 680 1517.5 682.5C1520.4 685 1526.7 687.9 1532.5 690C1538.3 692.1 1547.5 692.5 1552.5 695C1557.5 697.5 1562.1 701.7 1562.5 705C1562.9 708.3 1558.8 712.7 1555 715C1551.2 717.3 1545 717.9 1540 718.8C1535 719.6 1530.8 721.5 1525 720C1519.2 718.5 1512.5 712.5 1505 710C1497.5 707.5 1487.5 705.6 1480 705C1472.5 704.4 1468.3 705.8 1460 706.2C1451.7 706.7 1439.2 707.1 1430 707.5C1420.8 707.9 1413.3 709.2 1405 708.8C1396.7 708.3 1388.3 704.8 1380 705C1371.7 705.2 1362.5 707.9 1355 710C1347.5 712.1 1340 715.4 1335 717.5C1330 719.6 1328.1 722.9 1325 722.5C1321.9 722.1 1317.5 720 1316.2 715ZM1341.2 745C1343.1 742.7 1349.4 739.4 1355 738.8C1360.6 738.1 1368.3 741.7 1375 741.2C1381.7 740.8 1389.6 736 1395 736.2C1400.4 736.5 1405.6 739.4 1407.5 742.5C1409.4 745.6 1407.9 750.8 1406.2 755C1404.6 759.2 1400.6 764 1397.5 767.5C1394.4 771 1390.8 775.8 1387.5 776.2C1384.2 776.7 1381.2 772.3 1377.5 770C1373.8 767.7 1369.2 764.6 1365 762.5C1360.8 760.4 1356 759.2 1352.5 757.5C1349 755.8 1345.6 754.6 1343.8 752.5C1341.9 750.4 1339.4 747.3 1341.2 745ZM1406.2 567.5C1408.5 564.8 1419 565 1420 567.5C1421 570 1414.8 579.8 1412.5 582.5C1410.2 585.2 1407.3 586.2 1406.2 583.8C1405.2 581.2 1404 570.2 1406.2 567.5ZM1397.5 610C1398.1 606.5 1402.5 597.1 1406.2 596.2C1410 595.4 1418.8 601.9 1420 605C1421.2 608.1 1416.7 612.9 1413.8 615C1410.8 617.1 1405.2 618.3 1402.5 617.5C1399.8 616.7 1396.9 613.5 1397.5 610ZM1361.2 631.2C1363.1 629.5 1373.3 627.4 1376.2 628C1379.2 628.6 1380.6 633.2 1378.8 635C1376.9 636.8 1367.9 639.4 1365 638.8C1362.1 638.1 1359.4 633 1361.2 631.2ZM1180 710C1182.5 707.3 1191 712.1 1195 713.8C1199 715.4 1203.8 717.7 1203.8 720C1203.8 722.3 1199 725.8 1195 727.5C1191 729.2 1182.5 732.9 1180 730C1177.5 727.1 1177.5 712.7 1180 710ZM1730 670C1731.2 677.6 1732.3 686.7 1732.5 695C1732.7 703.3 1731 711.7 1731.2 720C1731.5 728.3 1732.3 737.1 1733.8 745C1735.2 752.9 1736.9 762.1 1740 767.5C1743.1 772.9 1747.9 775.2 1752.5 777.5C1757.1 779.8 1762.9 780.6 1767.5 781.2C1772.1 781.9 1777.9 754 1780 781.2C1782.1 808.5 1782.1 917.7 1780 945C1777.9 972.3 1773.3 946.7 1767.5 945C1761.7 943.3 1751.2 939.2 1745 935C1738.8 930.8 1734 925.4 1730 920C1726 914.6 1722.9 908.8 1721.2 902.5C1719.6 896.2 1720.4 890 1720 882.5C1719.6 875 1719.6 864.2 1718.8 857.5C1717.9 850.8 1717.5 846.2 1715 842.5C1712.5 838.8 1707.1 834.6 1703.8 835C1700.4 835.4 1697.3 841.2 1695 845C1692.7 848.8 1692.9 854 1690 857.5C1687.1 861 1681.7 866.2 1677.5 866.2C1673.3 866.2 1668.8 861 1665 857.5C1661.2 854 1658.8 848.3 1655 845C1651.2 841.7 1646.7 839.6 1642.5 837.5C1638.3 835.4 1636.2 834.4 1630 832.5C1623.8 830.6 1612.5 828.8 1605 826.2C1597.5 823.8 1590 820.6 1585 817.5C1580 814.4 1577.1 811.2 1575 807.5C1572.9 803.8 1570 798.8 1572.5 795C1575 791.2 1582.7 787.9 1590 785C1597.3 782.1 1611.7 779.6 1616.2 777.5C1620.8 775.4 1617.7 775.4 1617.5 772.5C1617.3 769.6 1615.3 763.8 1615 760C1614.7 756.2 1616.1 752.5 1615.5 750C1614.9 747.5 1612.4 746.7 1611.2 745C1610.1 743.3 1609.4 742.1 1608.8 740C1608.1 737.9 1606.9 735.8 1607.5 732.5C1608.1 729.2 1611 723.8 1612.5 720C1614 716.2 1613.3 714.6 1616.2 710C1619.2 705.4 1624.4 698.3 1630 692.5C1635.6 686.7 1642.5 679.8 1650 675C1657.5 670.2 1665.8 667.5 1675 663.8C1684.2 660 1698.8 654.7 1705 652.5C1711.2 650.3 1709.2 651 1712.5 650.5C1715.8 650 1722.1 646.2 1725 649.5C1727.9 652.8 1728.8 662.4 1730 670ZM290 870C290.8 848.3 292.5 870.8 295 867.5C297.5 864.2 300.8 854.4 305 850C309.2 845.6 314.2 842.9 320 841.2C325.8 839.6 333.3 839 340 840C346.7 841 354.6 844.6 360 847.5C365.4 850.4 367.5 854 372.5 857.5C377.5 861 384.8 864.6 390 868.8C395.2 872.9 401.7 876.9 403.8 882.5C405.8 888.1 403.5 897.5 402.5 902.5C401.5 907.5 397.9 907.9 397.5 912.5C397.1 917.1 400 923.8 400 930C400 936.2 399.4 944.6 397.5 950C395.6 955.4 390.8 958.8 388.8 962.5C386.7 966.2 384 969.6 385 972.5C386 975.4 391.2 977.9 395 980C398.8 982.1 405.2 982.5 407.5 985C409.8 987.5 408.3 991.7 408.8 995C409.2 998.3 410.2 1000.8 410 1005C409.8 1009.2 405.8 1016.2 407.5 1020C409.2 1023.8 414.6 1025.8 420 1027.5C425.4 1029.2 435 1028.3 440 1030C445 1031.7 446.7 1033.8 450 1037.5C453.3 1041.2 457.5 1047.5 460 1052.5C462.5 1057.5 463.3 1062.5 465 1067.5C466.7 1072.5 468.3 1077.9 470 1082.5C471.7 1087.1 475 1090.4 475 1095C475 1099.6 472.1 1105.8 470 1110C467.9 1114.2 465 1117.3 462.5 1120C460 1122.7 457.1 1124.2 455 1126.2C452.9 1128.3 452.5 1130.6 450 1132.5C447.5 1134.4 442.5 1135 440 1137.5C437.5 1140 437.5 1145.4 435 1147.5C432.5 1149.6 428.8 1150.4 425 1150C421.2 1149.6 415.4 1147.1 412.5 1145C409.6 1142.9 408.3 1140.4 407.5 1137.5C406.7 1134.6 408.8 1130.8 407.5 1127.5C406.2 1124.2 402.9 1121.2 400 1117.5C397.1 1113.8 392.5 1108.8 390 1105C387.5 1101.2 387.1 1097.5 385 1095C382.9 1092.5 380 1092.1 377.5 1090C375 1087.9 372.5 1085.4 370 1082.5C367.5 1079.6 364.6 1075.8 362.5 1072.5C360.4 1069.2 358.8 1066.2 357.5 1062.5C356.2 1058.8 355.8 1054.2 355 1050C354.2 1045.8 355 1041.2 352.5 1037.5C350 1033.8 343.8 1030.8 340 1027.5C336.2 1024.2 333.8 1021.2 330 1017.5C326.2 1013.8 321.7 1007.9 317.5 1005C313.3 1002.1 309.6 1001.2 305 1000C300.4 998.8 292.5 1019.2 290 997.5C287.5 975.8 289.2 891.7 290 870ZM290 1095C294.2 1088.3 308.8 1090 315 1090C321.2 1090 323.3 1092.5 327.5 1095C331.7 1097.5 334.6 1102.5 340 1105C345.4 1107.5 354.6 1107.5 360 1110C365.4 1112.5 370 1116.7 372.5 1120C375 1123.3 376.2 1127.1 375 1130C373.8 1132.9 369.2 1135.8 365 1137.5C360.8 1139.2 355 1140 350 1140C345 1140 339.6 1137.1 335 1137.5C330.4 1137.9 326.7 1142.1 322.5 1142.5C318.3 1142.9 315.4 1142.1 310 1140C304.6 1137.9 293.3 1137.5 290 1130C286.7 1122.5 285.8 1101.7 290 1095ZM603.8 850C607.1 845.8 621 846.7 625 850C629 853.3 625 864.2 627.5 870C630 875.8 635.8 880.4 640 885C644.2 889.6 649.2 893.8 652.5 897.5C655.8 901.2 659 904.2 660 907.5C661 910.8 660.8 915.4 658.8 917.5C656.7 919.6 651.5 920.8 647.5 920C643.5 919.2 639.6 915 635 912.5C630.4 910 624.2 908.3 620 905C615.8 901.7 612.5 897.5 610 892.5C607.5 887.5 606 882.1 605 875C604 867.9 600.4 854.2 603.8 850ZM642.5 950C642.9 947.5 648.8 944.2 652.5 943.8C656.2 943.3 660 944.8 665 947.5C670 950.2 680 956.7 682.5 960C685 963.3 682.9 966.7 680 967.5C677.1 968.3 670 966.5 665 965C660 963.5 653.8 961.2 650 958.8C646.2 956.2 642.1 952.5 642.5 950ZM747.5 988.8C750.2 987.3 758.3 986.2 765 985C771.7 983.8 781.2 982.1 787.5 981.2C793.8 980.4 800.4 978.5 802.5 980C804.6 981.5 802.1 987.7 800 990C797.9 992.3 795.8 993.1 790 993.8C784.2 994.4 771.9 993.8 765 993.8C758.1 993.8 751.7 994.6 748.8 993.8C745.8 992.9 744.8 990.2 747.5 988.8ZM400 1215C401.7 1213.3 407.5 1213.3 410 1215C412.5 1216.7 416.7 1223.3 415 1225C413.3 1226.7 402.5 1226.7 400 1225C397.5 1223.3 398.3 1216.7 400 1215ZM905 1267.5C814.4 1259.7 909.2 1233 911.2 1220.5C913.3 1208 915.2 1202.2 917.5 1192.5C919.8 1182.8 922.5 1171.2 925 1162.5C927.5 1153.8 930 1147.1 932.5 1140C935 1132.9 936.2 1126.2 940 1120C943.8 1113.8 949.2 1107.7 955 1102.5C960.8 1097.3 968.3 1092.3 975 1088.8C981.7 1085.2 989.6 1084 995 1081.2C1000.4 1078.5 1005 1076.9 1007.5 1072.5C1010 1068.1 1009.4 1061.2 1010 1055C1010.6 1048.8 1009.6 1040.4 1011.2 1035C1012.9 1029.6 1016 1025.6 1020 1022.5C1024 1019.4 1030.8 1015.4 1035 1016.2C1039.2 1017.1 1041.7 1024 1045 1027.5C1048.3 1031 1051.7 1033.3 1055 1037.5C1058.3 1041.7 1062.3 1048.3 1065 1052.5C1067.7 1056.7 1070.8 1059.2 1071.2 1062.5C1071.7 1065.8 1069 1069.4 1067.5 1072.5C1066 1075.6 1061.7 1078.1 1062.5 1081.2C1063.3 1084.4 1068.3 1088.8 1072.5 1091.2C1076.7 1093.8 1084 1094 1087.5 1096.2C1091 1098.5 1091.9 1101.9 1093.8 1105C1095.6 1108.1 1096.9 1111.5 1098.8 1115C1100.6 1118.5 1099.8 1124.4 1105 1126.2C1110.2 1128.1 1121.7 1125.8 1130 1126.2C1138.3 1126.7 1146.7 1127.3 1155 1128.8C1163.3 1130.2 1172.5 1132.1 1180 1135C1187.5 1137.9 1195 1142.5 1200 1146.2C1205 1150 1206.7 1155.2 1210 1157.5C1213.3 1159.8 1212.5 1160.4 1220 1160C1227.5 1159.6 1240.8 1156.9 1255 1155C1269.2 1153.1 1288.3 1150.6 1305 1148.8C1321.7 1146.9 1343.8 1144.4 1355 1143.8C1366.2 1143.1 1369.5 1144.8 1372 1145C1374.5 1145.2 1368.7 1144 1370 1145C1371.3 1146 1374.2 1148.3 1380 1151.2C1385.8 1154.2 1398.3 1159 1405 1162.5C1411.7 1166 1415.8 1169.2 1420 1172.5C1424.2 1175.8 1426.2 1179.2 1430 1182.5C1433.8 1185.8 1439.2 1189.2 1442.5 1192.5C1445.8 1195.8 1448.1 1199.2 1450 1202.5C1451.9 1205.8 1452.9 1207.9 1453.8 1212.5C1454.6 1217.1 1454.8 1220.8 1455 1230C1455.2 1239.2 1546.7 1261.2 1455 1267.5C1363.3 1273.8 995.6 1275.3 905 1267.5ZM1097.5 1012.5C1098.3 1010.6 1101.5 1010.8 1103.8 1011.2C1106 1011.7 1109.8 1013.1 1111.2 1015C1112.7 1016.9 1114.6 1021.2 1112.5 1022.5C1110.4 1023.8 1101.2 1024.2 1098.8 1022.5C1096.2 1020.8 1096.7 1014.4 1097.5 1012.5ZM1020 1000C1020 998.3 1024.2 994.6 1026.2 995C1028.3 995.4 1032.5 1000.8 1032.5 1002.5C1032.5 1004.2 1028.3 1005.4 1026.2 1005C1024.2 1004.6 1020 1001.7 1020 1000ZM780 982.5C782.1 980.1 788.8 979.7 792.5 979.5C796.2 979.3 802.1 979.3 802.5 981.2C802.9 983.2 798.8 989.2 795 991.2C791.2 993.3 782.5 995.2 780 993.8C777.5 992.3 777.9 984.9 780 982.5ZM1665 850C1668.8 848.3 1686.2 847.5 1690 850C1693.8 852.5 1689.6 862.3 1687.5 865C1685.4 867.7 1680.8 867.1 1677.5 866.2C1674.2 865.4 1669.6 862.7 1667.5 860C1665.4 857.3 1661.2 851.7 1665 850ZM1720 850C1730.2 846.7 1770 835.4 1780 850C1790 864.6 1782.1 922.9 1780 937.5C1777.9 952.1 1771.7 938.8 1767.5 937.5C1763.3 936.2 1759.2 932.9 1755 930C1750.8 927.1 1746.7 924.2 1742.5 920C1738.3 915.8 1733.5 910.4 1730 905C1726.5 899.6 1723.1 893.3 1721.2 887.5C1719.4 881.7 1719 876.2 1718.8 870C1718.5 863.8 1709.8 853.3 1720 850ZM1692.5 1007.5C1691.7 1002.9 1696.2 993.3 1700 990C1703.8 986.7 1710 986.2 1715 987.5C1720 988.8 1725 993.8 1730 997.5C1735 1001.2 1740 1006.2 1745 1010C1750 1013.8 1754.2 1016.7 1760 1020C1765.8 1023.3 1776.7 1022.1 1780 1030C1783.3 1037.9 1782.1 1062.1 1780 1067.5C1777.9 1072.9 1771.7 1065 1767.5 1062.5C1763.3 1060 1759.6 1057.1 1755 1052.5C1750.4 1047.9 1745 1039.6 1740 1035C1735 1030.4 1730.8 1027.9 1725 1025C1719.2 1022.1 1710.4 1020.4 1705 1017.5C1699.6 1014.6 1693.3 1012.1 1692.5 1007.5Z"/>
<path fill="#f3fabd" d="M932.7 761.5C933.5 758.9 936.2 754.4 938.6 751.3C941 748.3 945.3 746.3 947 742.9C948.7 739.5 947.9 734.5 948.7 731.1C949.5 727.7 950.1 724.4 952.1 722.7C954 721 958 720.4 960.5 721C963 721.5 966.4 723.5 967.3 726C968.1 728.6 967 733.1 965.6 736.2C964.2 739.3 961.1 741.2 958.8 744.6C956.6 748 954 752.8 952.1 756.4C950.1 760.1 949 764.3 947 766.5C945 768.8 942.5 769.9 940.3 769.9C938 769.9 934.8 767.9 933.5 766.5C932.3 765.1 931.8 764 932.7 761.5ZM835.7 737C836.8 736.9 838.2 739.9 844.1 740.9C850 741.9 864.9 743.3 871.1 742.9C877.3 742.5 878.1 740.3 881.2 738.4C884.3 736.4 887.1 733.3 889.7 731.1C892.2 728.9 893.9 725.8 896.4 725.2C898.9 724.6 903 725.9 904.8 727.7C906.7 729.6 907.5 733.2 907.4 736.2C907.2 739.1 905.5 743.5 904 745.4C902.5 747.4 900.8 748 898.1 748C895.4 748 891.9 745.9 888 745.4C884 745 880.7 745.6 874.5 745.4C868.3 745.2 857 745 850.9 744.3C844.7 743.6 839.9 742.4 837.4 741.2C834.8 740 834.5 737.1 835.7 737Z"/>
<path d="M321 293.7V1222.3M510.8 293.7V1222.3M700.6 293.7V1222.3M890.5 293.7V1222.3M1080.3 293.7V1222.3M1270.1 293.7V1222.3M1460 293.7V1222.3M1649.8 293.7V1222.3M296.3 1110H1767.5M296.3 983.5H1767.5M296.3 856.9H1767.5M296.3 730.3H1767.5M296.3 603.8H1767.5M296.3 477.2H1767.5M296.3 350.7H1767.5" stroke="#808080" stroke-opacity="0.13" stroke-width="2" fill="none"/>
<path d="M780 567L867.5 575.8L917 569.2L921.2 571.2L951.2 610.5L973.8 611.2L978.8 609.2L1007.5 593L1012.5 587.5L1027.5 546.2L1100 460L1103.8 457.5L1215 403.8L1223.8 400.5L1372 380L1584.2 351.8L1757.5 293.8" stroke="#000" stroke-width="1.5" fill="none" stroke-linejoin="round" stroke-linecap="round"/>
<path d="M1584.2 351.8L1678.8 567L1686.2 568.2L1688.8 572.5L1725 648.8" stroke="#000" stroke-width="2" fill="none" stroke-linejoin="round" stroke-linecap="round"/>
<path d="M422.5 682.5L435 677.5L440 670L455 661.2L460 645L470 643.8L471.2 635L475 628.8L465 620L462.5 610L465 595L462.5 585L470 575L480 571.2L477.5 565L468.8 562.5L480 551.2L500 538.8L507.5 538.8L525 546.2L540 560L560 561.2L562.5 566.2L567.5 565L575 558.8L583.8 560L592.5 553.8L602.5 555L625 551.2L645 553L657.5 549.5L720 549.5L727.5 550.5" stroke="#000" stroke-width="2" fill="none" stroke-linejoin="round" stroke-linecap="round"/>
<path d="M727.5 550.5L755 563.8L867.5 575.8L867.5 575.8" stroke="#000" stroke-width="1.5" fill="none" stroke-linejoin="round" stroke-linecap="round"/>
<path d="M295 496.2L303.8 499.5L308.8 503.8L317.5 512.5L327.5 521.2L333.8 525.5L340 535L350 542L356.2 547L360 555L361.2 567.5L363.8 580L365.5 591.2L367 600.5L368 591.2L369.5 586.2L366.5 582.5L370 582L374.5 587.5L377.5 597.5L386.2 600.5L390 607.5L391.2 617.5L396.2 623.8L401.2 625.5L407.5 632.5L412.5 642.5L417.5 655L420 670L422.5 682.5L425 700L427 715L428 732.5L426.2 745L420 751.2L415 760L409.5 767.5L411.2 777.5L413.8 782.5L411.2 785L417.5 792.5L420 802.5L421.2 813.8L423.8 820L422.5 830L416.2 825L410 820L411.2 811.2L407.5 817.5L405 825L400 826.2L395 822.5L390 817.5L392.5 806.2L400 798.8L401.2 802.5L396.2 806.2L398.8 813.8L400 830L407.5 831.2L417.5 832.5L425 837.5L432.5 842.5L435 852.5L436.2 860L440 867.5L441.2 877.5L437.5 875L433.8 868.8L435 875L440 882.5L442.5 892.5L447.5 900L448.8 910L451.2 917.5L445 918.8L448.8 925L450 932.5L452.5 945L455 947.5L460 962.5L465 977.5L472.5 991.2L477.5 1000L480 1010L482.5 1020L483 1030L480 1045L479.5 1060L476.2 1075L480 1085L487.5 1097.5L497.5 1115L503.8 1125L507.5 1132.5L508.8 1142.5L507.5 1150L512.5 1150.5L522.5 1142L527.5 1143.8L536.2 1145L550 1150L560 1154.1L563 1156.1L566.1 1160.2L569.1 1161.7L573.2 1159.7L577.2 1160.7L582.3 1159.2L589.4 1155.1L593.4 1153.9L599 1153.6L600 1156.7L597.5 1159.2L593.4 1158.7L591.4 1156.1L593.4 1153.9L599 1153.6L600.5 1157.7L604.6 1156.7L609.7 1156.7L614.7 1154.1L620.8 1151.6L625.9 1150.1L626.9 1152.1L628.9 1151.1L633 1145L639.1 1138.9L644.1 1134.9L649.2 1133L655.3 1133L660.3 1134.9L664.4 1137.9L665.9 1140.9L666.4 1143.5L670.5 1140.4L674.5 1139.1L678.6 1140.4L681.6 1143.5L685.7 1145L689.7 1143L691.2 1139.9L688.7 1138.9L685.2 1138.9L683.6 1136.9L685.7 1134.4L689.7 1134.9L692.8 1131.8L696.8 1130.3L701.9 1130.8L704.9 1133.3L701.9 1135.4L698.3 1136.4L698.8 1139.4L702.9 1141.5L707 1141.8L709.5 1139.9L709 1135.9L711 1126.8L713 1119.7L718.1 1113.6L724.2 1109.5L732.3 1106.5L742.4 1104.5L750.5 1101.9L756.6 1096.4L761.7 1090.3L763.2 1086.2L767.8 1082.2L774.9 1076.1L782 1070L785 1067.5L805 1062.5L822.5 1058.8L840 1057L857.5 1055L862.5 1056.2L882 1057.5L895 1057.5L905 1054.2L915 1056.2L930 1050L942.5 1042.5L955 1040L970 1037.5L985 1032.5L1005 1027L1015 1020L1025 1011.2L1037.5 999.5L1047.5 995L1062.5 990L1072.5 980L1082.5 976.8L1095 979.2L1103.8 983.8L1105 987.5L1122.5 982.5L1137.5 982.5L1140 985L1150 978.2L1167.5 978L1175 973.8L1185 965L1192.5 955L1197.5 950L1205 942.5L1208.8 935L1210 927.5L1217.5 917.5L1227.5 915.8L1232.5 912.5L1255 901.2L1280 890L1305 883L1337.5 876.2L1340 880L1355 876.2L1372 867.5L1377.5 866.2L1392.5 855L1405 850L1430 845L1455 838.8L1480 832.5L1505 825L1530 816.2L1542.5 815L1545 806.2L1555 801.2L1566.2 797.5L1568.8 799.5L1571.2 793.8L1590 785L1616.2 777.5L1617.5 772.5L1615 760L1615.5 750L1611.2 745L1608.8 740L1607.5 732.5L1612.5 720L1616.2 710L1630 692.5L1650 675L1675 663.8L1705 652.5L1712.5 650.5L1725 649.5L1745 641.2L1766.2 636.2L1772 635.5" stroke="#000" stroke-width="2.2" fill="none" stroke-linejoin="round" stroke-linecap="round"/>
<path d="M295 997L307.5 998.8L315 1002.5L322.5 1011.2L332.5 1022.5L337.5 1027.5L343.8 1026.2L350 1032.5L348.8 1040L343.8 1033.8L346.2 1030L355 1035L360 1047.5L365 1055L367.5 1070L370 1081.2L380 1084.5L386.2 1083L388.8 1080.5L391.2 1086.2L400 1098.8L407.5 1105L412.5 1105L417.5 1115L421.2 1126.2L426.2 1127.5L432.5 1131.2L438.8 1136.2L445 1131.2L447.5 1125L455 1130L460 1138.8L465 1150L477.5 1165L487.5 1176.2L490 1177.5L491.2 1187.5L493.8 1191.2L495 1202.5L500 1210L500.5 1222.5" stroke="#000" stroke-width="2.2" fill="none" stroke-linejoin="round" stroke-linecap="round"/>
<path d="M462.5 1147L431.2 1158.8L427.5 1165L422.5 1172.5L420 1182.5L410 1187.5L406.2 1190L390 1176.2L380 1171.2L375 1172.5L340 1222.5" stroke="#000" stroke-width="1.9" fill="none" stroke-linejoin="round" stroke-linecap="round"/>
<path d="M295 1093.8L305 1110L315 1125L327.5 1135L342.5 1145L352.5 1157.5L362.5 1170L370 1177.5" stroke="#000" stroke-width="1.9" fill="none" stroke-linejoin="round" stroke-linecap="round"/>
<path d="M410 977.5L418.8 974.5L422.5 982.5L420 993.8L416.2 992.5L411.2 986.2L410 977.5" stroke="#000" stroke-width="1.7" fill="none" stroke-linejoin="round" stroke-linecap="round"/>
<path d="M407.5 1026.2L415 1015L421.2 1011.2L420 1018.8L412.5 1025L407.5 1026.2" stroke="#000" stroke-width="1.7" fill="none" stroke-linejoin="round" stroke-linecap="round"/>
<path d="M497.5 1152.5L502.5 1151.2L505 1155L501.2 1157L497.5 1152.5" stroke="#000" stroke-width="1.7" fill="none" stroke-linejoin="round" stroke-linecap="round"/>
<path d="M301.2 602.5L308.8 605L313.8 611.2L310 616.2L315 620L320 623.8L317.5 630L323.8 632.5L327.5 637.5L333.8 631.2L338.8 637.5L343.8 642.5L345 652.5L341.2 657L335 651.2L330 645L320 642.5L312.5 637.5L305 632.5L298.8 622.5L300 617.5L305 615L301.2 610L301.2 602.5" stroke="#000" stroke-width="1.7" fill="none" stroke-linejoin="round" stroke-linecap="round"/>
<path d="M305 620L311.2 622.5L315 628.8L322.5 636.2L327.5 640" stroke="#000" stroke-width="1.7" fill="none" stroke-linejoin="round" stroke-linecap="round"/>
<path d="M1594.8 1207.2L1598 1205.7L1604.3 1206.6L1610.6 1209.8L1618.2 1211.3L1627.1 1212.6L1633.4 1211.3L1637.2 1212.3L1636 1215.5L1634.7 1218.6L1628.4 1217.4L1619.5 1216.7L1615.7 1214.8L1609.4 1215.5L1606.8 1212.3L1600.5 1211.7L1596.1 1209.8L1594.8 1207.2" stroke="#000" stroke-width="1.7" fill="none" stroke-linejoin="round" stroke-linecap="round"/>
<path d="M1711.4 1216.1L1717.1 1214.2L1723.4 1215.5L1724.7 1219.9L1718.3 1221.2L1713.3 1218.6L1711.4 1216.1" stroke="#000" stroke-width="1.7" fill="none" stroke-linejoin="round" stroke-linecap="round"/>
<path d="M1767.7 1152.1L1763.9 1154L1764.6 1161.6L1761.4 1166.7L1756.3 1168L1752.5 1168.6L1758.9 1174.3L1767.7 1179.4" stroke="#000" stroke-width="1.7" fill="none" stroke-linejoin="round" stroke-linecap="round"/>
<path fill="#000" d="M294.8 331.5L294.8 333.9L289.9 331.4L296.9 356.2L304.7 331.6L299.7 334L299.8 331.5ZM397.2 328.6L351.7 360.9L350.5 353.2L328 382L362.6 370.3L355.7 366.6L401.3 334.4ZM498.5 331L495.4 352.8L489 348.4L494.5 384.5L509.8 351.3L502.4 353.8L505.5 332ZM602.5 329.1L588.9 343.2L586.3 335.8L569.5 368.2L601.4 350.4L593.9 348L607.5 333.9ZM706.5 328.4L676.1 343.1L676.2 335.3L649.2 360L685.3 354.2L679.1 349.4L709.5 334.6ZM810 328.2L781.1 339.5L781.8 331.7L753 354.2L789.4 351.3L783.6 346.1L812.5 334.8ZM911.3 329L905.4 334.8L903 327.4L885.5 359.5L917.8 342.3L910.3 339.8L916.2 334ZM1016.1 328L977.1 329.5L980.3 322.4L945.8 334.2L981.1 343.4L977.4 336.5L1016.4 335ZM1117.8 328.3L1104.7 334.3L1105 326.4L1077.5 350.5L1113.7 345.6L1107.6 340.6L1120.7 334.7ZM1220 328.6L1181.1 354.9L1180.1 347.2L1157 375.5L1191.9 364.6L1185 360.7L1224 334.4ZM1322.9 328.4L1291.4 344.5L1291.4 336.7L1265 362L1300.9 355.4L1294.6 350.7L1326.1 334.6ZM1426.8 328.1L1395.1 334.9L1397 327.3L1365 345L1401.4 347.9L1396.5 341.8L1428.2 334.9ZM1529.6 328.1L1494.4 337.8L1496 330.1L1465 349.5L1501.5 350.4L1496.3 344.5L1531.4 334.9ZM1633.3 328L1601.7 325.6L1605.7 318.9L1570 326.8L1604.1 339.9L1601.1 332.6L1632.7 335ZM1736.3 328L1715.3 327.9L1718.8 320.9L1683.8 331.2L1718.7 341.9L1715.2 334.9L1736.2 335ZM399 425.8L359.4 428.4L362.5 421.2L328.2 434L363.9 442.1L359.9 435.4L399.5 432.7ZM501.9 425.8L490.6 426.2L493.8 419.1L459.2 431L494.7 440.1L490.9 433.2L502.1 432.7ZM605 425.8L579.8 425.8L583.2 418.8L548.2 429.2L583.2 439.8L579.8 432.8L605 432.8ZM707.4 425.8L689.2 429L691.4 421.5L658.8 438L695 442.2L690.4 435.9L708.6 432.7ZM809.1 426.5L785.7 445.1L784.1 437.5L763.2 467.5L797.2 453.9L790.1 450.6L813.4 432ZM912.3 426.1L897.8 432.6L898.1 424.8L870.5 448.8L906.7 443.9L900.7 439L915.2 432.4ZM1015.6 425.8L971.1 434.1L973.2 426.5L940.8 443.2L977.1 447.2L972.4 440.9L1016.9 432.7ZM1117.2 426.4L1099.6 439.6L1098.2 431.9L1076.5 461.2L1110.8 448.7L1103.8 445.2L1121.3 432.1ZM1219.6 426.7L1210.5 435L1208.4 427.5L1189.5 458.8L1222.5 443L1215.2 440.2L1224.4 431.8ZM1323.9 425.8L1273 434.5L1275.2 427L1242.5 443.2L1278.8 447.7L1274.1 441.4L1325.1 432.7ZM1426.7 425.8L1373.6 438.2L1375.5 430.6L1343.8 448.8L1380.2 451L1375.2 445L1428.3 432.7ZM1529.2 426L1497.9 438.7L1498.5 430.9L1470 453.8L1506.4 450.3L1500.5 445.2L1531.8 432.5ZM1632.5 425.8L1595.2 431L1597.7 423.5L1564.5 438.8L1600.6 444.3L1596.2 437.9L1633.5 432.7ZM1733.9 426.6L1713.3 444.8L1711.3 437.2L1692 468.2L1725.2 453L1717.9 450L1738.6 431.9ZM294 528L323.6 608.2L315.8 607.3L337.8 636.5L335.5 600L330.2 605.7L300.6 525.5ZM396 527.3L396.6 530.6L389.5 528.5L405 559.2L409 525L403.1 529.4L402.5 526.2ZM501.7 523.3L437.3 529.3L440.1 522L406.2 535.8L442.1 542.9L437.9 536.3L502.3 530.2ZM603.8 523.5L587.2 529.4L588.2 521.6L558.8 543.2L595.2 541.4L589.6 536L606.2 530ZM706.3 523.7L683.7 536.5L683.3 528.6L658 555L693.6 546.9L687.1 542.6L709.7 529.8ZM809.6 523.7L789.4 534.5L789.1 526.7L763.2 552.5L799.1 545.2L792.7 540.7L812.9 529.8ZM910.7 525L884.2 569.8L880 563.3L871.2 598.8L898.1 573.9L890.3 573.4L916.8 528.5ZM1014.1 524L982.8 548L981.3 540.3L960 570L994.1 557L987.1 553.6L1018.4 529.5ZM1117.6 523.7L1092.6 537.5L1092.3 529.6L1066.8 555.8L1102.5 548L1096 543.6L1120.9 529.8ZM1220.6 523.6L1182.9 540.3L1183.2 532.5L1155.5 556.2L1191.8 551.7L1185.7 546.7L1223.4 529.9ZM1323.5 523.4L1271.9 538L1273.3 530.4L1242.5 550L1279 550.6L1273.8 544.8L1325.5 530.1ZM1426 523.6L1369.3 551.1L1369.4 543.3L1342.5 568L1378.6 562.2L1372.4 557.4L1429 529.9ZM1528.9 523.6L1497.6 539.9L1497.5 532.1L1471.2 557.5L1507.2 550.7L1500.8 546.1L1532.1 529.9ZM1631.1 523.8L1614.8 534L1614.1 526.2L1590 553.8L1625.2 544L1618.5 540L1634.9 529.7ZM1734.2 523.9L1716.4 536.9L1715.1 529.2L1693 558.2L1727.5 546.1L1720.5 542.5L1738.3 529.6ZM293.8 624.6L288.7 674.9L282.1 670.7L289 706.6L303 672.8L295.7 675.6L300.8 625.4ZM395.9 625.9L406.6 667.8L398.9 666.1L417.8 697.4L419.3 660.9L413.4 666L402.6 624.1ZM501 621.6L426.3 643L427.8 635.3L397 655L433.5 655.5L428.2 649.7L503 628.4ZM604.4 621.5L550 630.3L552.4 622.8L519.5 638.8L555.7 643.6L551.2 637.2L605.6 628.5ZM705.7 622.4L692.8 633.5L690.9 625.9L671.2 656.8L704.6 641.8L697.4 638.8L710.3 627.6ZM808.6 622.7L792 641.6L789 634.3L773.8 667.5L804.8 648.2L797.2 646.2L813.9 627.3ZM911 622.9L892.4 647.7L888.9 640.7L876.2 675L905.6 653.3L898 651.9L916.5 627.1ZM1013.9 622.4L987.3 646.3L985.2 638.8L966.2 670L999.3 654.4L992 651.5L1018.6 627.6ZM1117.5 621.9L1080.1 642.9L1079.7 635L1054.2 661.2L1089.9 653.4L1083.5 649L1121 628.1ZM1219.9 622.2L1197.8 639.2L1196.3 631.6L1175 661.2L1209.1 648.2L1202.1 644.8L1224.1 627.8ZM1323.2 621.8L1288.2 636.4L1288.7 628.6L1260.5 651.8L1296.8 647.9L1290.9 642.8L1325.8 628.2ZM1428.1 621.5L1396.6 616.3L1401.3 609.9L1365 614.5L1397.8 630.7L1395.5 623.2L1426.9 628.5ZM1532.8 622.3L1499.4 593.6L1506.6 590.6L1473.2 575.8L1492.9 606.5L1494.8 598.9L1528.2 627.7ZM1631.7 621.8L1610.9 630.1L1611.6 622.3L1583 645L1619.4 641.8L1613.5 636.6L1634.3 628.2ZM1738.2 622.1L1720.6 610.3L1727.4 606.5L1692.5 595.8L1715.8 623.9L1716.7 616.2L1734.3 627.9ZM395.8 723.8L397.6 746.4L390.4 743.5L403.8 777.5L411.3 741.7L404.6 745.8L402.7 723.2ZM499.6 724L500.1 726.4L494.8 725L507 747.5L509.2 722L504.9 725.4L504.4 723ZM606.5 720.3L601.8 718.2L607.9 713.3L571.8 708.2L599.2 732.4L598.9 724.6L603.5 726.7ZM705.5 721.1L657.3 771.1L654.7 763.7L638 796.2L669.8 778.3L662.4 776L710.5 725.9ZM808.1 722L786.2 769.9L781.3 763.8L776.2 800L800.4 772.5L792.5 772.8L814.4 725ZM911.1 721.2L867.1 770.4L864.2 763.2L848.8 796.2L879.9 777.1L872.3 775.1L916.4 725.8ZM1013.7 721.1L952.5 783.8L949.9 776.4L933 808.8L965 791L957.5 788.7L1018.8 725.9ZM1116.8 721L1069.3 765.8L1067 758.3L1048.8 790L1081.4 773.6L1074.1 770.9L1121.7 726ZM1218.9 721.8L1204.8 747L1200.4 740.6L1192.5 776.2L1218.7 750.8L1210.9 750.5L1225.1 725.2ZM1323.6 720.1L1263.9 736.9L1265.4 729.2L1234.5 748.8L1271 749.4L1265.8 743.6L1325.4 726.9ZM1429 720.3L1406.2 709.6L1412.4 704.7L1376.2 699.2L1403.4 723.7L1403.2 715.9L1426 726.7ZM1531.2 720.1L1479.6 709.6L1484.4 703.4L1448 706.8L1480.2 724L1478.2 716.4L1529.8 726.9ZM1632.6 720L1569.6 727.7L1572.2 720.3L1538.8 735L1574.8 741.2L1570.4 734.7L1633.4 727ZM1735.7 720L1681.8 728.9L1684.1 721.5L1651.2 737.5L1687.5 742.2L1682.9 735.8L1736.8 727ZM397.4 819.5L370.3 836.5L369.6 828.7L345.5 856.2L380.7 846.5L374 842.5L401.1 825.5ZM498.6 822.2L498.3 825.5L491.9 821.5L498.8 856.2L512.1 823.5L505.1 826.2L505.4 822.8ZM603.4 819.4L560.9 840.4L561 832.6L534.2 857.5L570.3 851.4L564 846.7L606.6 825.6ZM704.5 822.4L704 834.6L697.2 830.8L706.2 866.2L718.1 831.6L711 834.9L711.5 822.6ZM807.8 821.8L801.3 854.1L795.1 849.3L798.5 885.7L815.7 853.5L808.2 855.5L814.7 823.2ZM911 820.3L860.5 882.1L857.3 875L843.2 908.7L873.5 888.3L865.9 886.5L916.5 824.7ZM1015.1 819.2L1007.8 821.8L1008.8 814L979.2 835.5L1015.8 833.8L1010.1 828.4L1017.4 825.8ZM1117.3 819.6L1096.9 833L1096 825.2L1072.5 853.2L1107.5 842.8L1100.7 838.9L1121.2 825.4ZM1225.5 822.4L1225 805.6L1232.1 808.9L1220.5 774.2L1211.1 809.6L1218 805.8L1218.5 822.6ZM1325.7 820.7L1323.9 819.5L1328.1 817L1306.2 810.5L1320.9 828L1321.5 823.1L1323.3 824.3ZM1429.4 821L1427.9 819L1433.3 817.9L1412 803.2L1421.7 827.1L1424 822.1L1425.6 824ZM1530.5 819L1502.8 819L1506.2 812L1471.2 822.5L1506.2 833L1502.8 826L1530.5 826ZM1632.1 819.1L1575.4 833.7L1577 826.1L1545.8 845L1582.3 846.4L1577.1 840.5L1633.9 825.9ZM1735.6 819.1L1670.2 831.8L1672.3 824.3L1640 841.2L1676.4 844.9L1671.6 838.7L1736.9 825.9ZM398.8 918L344.4 925.8L346.9 918.4L313.8 933.8L349.9 939.2L345.4 932.7L399.7 925ZM501.1 919.3L498.9 920.1L499.4 914.9L480 930L504.6 928.1L500.6 924.5L502.9 923.7ZM605 923.6L607.2 923.6L605.1 928L626.5 921.2L604.9 915L607.1 919.3L605 919.4ZM704.7 920.2L702.4 926L697.2 920.2L694 956.6L716.7 928L708.9 928.6L711.3 922.8ZM808 922.8L810.4 928.9L802.6 928.2L825 957L822.1 920.6L816.9 926.4L814.5 920.2ZM917.2 920.8L902.6 853.1L910.1 855L892.5 823L889.6 859.4L895.7 854.5L910.3 922.2ZM1019.3 919.7L1015.2 912.9L1023 912.3L996.2 887.5L1004.9 923L1009.2 916.4L1013.2 923.3ZM1122.5 920.3L1116.4 903L1124.1 903.9L1102.5 874.5L1104.4 911L1109.8 905.3L1116 922.7ZM1220 921.4L1219.8 923.4L1216 921L1220.5 941.5L1228 922L1223.8 923.6L1224 921.6ZM1324.6 918.3L1321.4 918.2L1324.9 911.9L1292.5 920.2L1324.1 931.1L1321.2 924.6L1324.4 924.7ZM1427.5 918.6L1424.6 918.5L1427.6 912.7L1398.2 921.2L1427.4 930.3L1424.5 924.4L1427.5 924.4ZM1530.5 918L1497.8 917.9L1501.3 910.9L1466.2 921.2L1501.2 931.9L1497.7 924.9L1530.5 925ZM1632.4 918L1591.3 924.6L1593.7 917.1L1560.8 933L1597 937.9L1592.4 931.5L1633.6 925ZM1735.3 918.1L1679.7 934.5L1681.1 926.8L1650.5 946.8L1687 946.9L1681.7 941.2L1737.2 924.9ZM400.4 1017.9L340.4 997.1L346 991.6L309.5 990L339.1 1011.4L338.1 1003.7L398.1 1024.6ZM499.8 1018.6L480.8 1034.2L479 1026.6L458.8 1057L492.4 1042.8L485.3 1039.6L504.2 1023.9ZM603.6 1021.5L603.9 1023L600.7 1022.1L608 1035.5L609.3 1020.4L606.7 1022.4L606.4 1021ZM705.6 1021.8L706.1 1024.2L700.7 1022.8L713 1045.5L715.3 1019.8L710.9 1023.2L710.4 1020.8ZM812.4 1021.2L812.3 1020L814.6 1021L810.5 1010L807.9 1021.5L810 1020.2L810.1 1021.3ZM914.3 1017.8L891.6 1013.9L896.3 1007.6L860 1012L892.7 1028.3L890.5 1020.8L913.2 1024.7ZM1015.7 1017.8L963.5 1026.7L965.7 1019.2L933 1035.5L969.3 1039.9L964.6 1033.6L1016.8 1024.7ZM1118 1018L1073.8 1034.5L1074.6 1026.7L1045.5 1048.8L1082 1046.4L1076.2 1041L1120.5 1024.5ZM1221.6 1017.8L1210.9 1019.1L1213.5 1011.7L1180 1026.2L1216 1032.5L1211.7 1026L1222.4 1024.7ZM1326 1018.1L1310.2 1010.6L1316.4 1005.8L1280.2 1000.2L1307.4 1024.7L1307.2 1016.9L1323 1024.4ZM1428.3 1017.9L1415.7 1014.7L1420.7 1008.8L1384.2 1010.5L1415.7 1029.1L1414 1021.5L1426.7 1024.6ZM1530.6 1017.8L1503.6 1016.6L1507.4 1009.8L1472 1018.8L1506.5 1030.7L1503.3 1023.6L1530.4 1024.7ZM1632.8 1017.8L1600.7 1019.9L1603.7 1012.7L1569.5 1025.5L1605.1 1033.6L1601.2 1026.9L1633.2 1024.7ZM1734.6 1018.1L1678 1047.8L1677.9 1040L1651.8 1065.5L1687.6 1058.6L1681.3 1054L1737.9 1024.4ZM400.1 1117.8L360.2 1108.4L365.2 1102.4L328.8 1104.5L360.4 1122.8L358.6 1115.2L398.4 1124.7ZM502.5 1117.8L472.9 1113.3L477.4 1106.9L441.2 1112L474.3 1127.6L471.9 1120.2L501.5 1124.7ZM603.7 1119.1L601.6 1120.4L601.1 1114.9L583.8 1134.2L608.9 1127.6L604.2 1124.7L606.3 1123.4ZM706.1 1121.3L706.2 1123.3L702.2 1121.5L709 1140.5L713.8 1121L710 1123.1L709.9 1121.2ZM809.4 1118.9L807.1 1120.8L805.8 1114.3L788 1139.5L816.7 1128.2L810.8 1125.4L813.1 1123.6ZM912.4 1118L871.9 1135.1L872.4 1127.2L844.2 1150.5L880.6 1146.6L874.6 1141.5L915.1 1124.5ZM1015.4 1117.9L951.4 1133.9L953.1 1126.3L921.8 1145L958.3 1146.7L953.2 1140.7L1017.1 1124.6ZM1118.1 1118L1064 1137.3L1064.9 1129.6L1035.5 1151.2L1072 1149.3L1066.3 1143.9L1120.4 1124.5ZM1221.3 1117.8L1180.7 1125.9L1182.8 1118.4L1150.5 1135.5L1186.9 1139L1182.1 1132.8L1222.7 1124.7ZM1325.7 1118L1283.3 1102.5L1289 1097.1L1252.5 1095L1281.8 1116.9L1280.9 1109.1L1323.3 1124.5ZM1429.5 1118.4L1400.5 1098.6L1407.3 1094.8L1372.5 1083.8L1395.5 1112.1L1396.6 1104.4L1425.5 1124.1ZM1531.1 1117.8L1499.1 1112.3L1503.8 1106L1467.5 1110.5L1500.2 1126.7L1498 1119.2L1529.9 1124.7ZM1632.6 1117.8L1585.2 1123L1587.9 1115.7L1554.2 1130L1590.2 1136.6L1585.9 1130L1633.4 1124.7ZM1735.3 1117.9L1686.8 1132.1L1688.2 1124.4L1657.5 1144.2L1694 1144.5L1688.7 1138.8L1737.2 1124.6ZM401.5 1217.8L349.7 1175.9L356.8 1172.6L323 1158.8L343.6 1188.9L345.3 1181.3L397 1223.2ZM912.9 1217.1L851.3 1232.5L853 1224.9L821.6 1243.6L858.1 1245.3L853 1239.3L914.6 1223.9ZM1015.4 1217.1L953.8 1232.1L955.5 1224.5L924 1243L960.5 1244.9L955.4 1238.9L1017.1 1223.9ZM1118.3 1217.1L1059.3 1234L1060.8 1226.3L1030 1246L1066.5 1246.5L1061.2 1240.7L1120.2 1223.9ZM1324.4 1217L1238.4 1219.6L1241.7 1212.5L1207 1224L1242.3 1233.5L1238.6 1226.6L1324.6 1224ZM1428.8 1217.3L1362.2 1189.4L1368.1 1184.3L1331.8 1180.5L1360 1203.7L1359.5 1195.9L1426.2 1223.7ZM1532.5 1217.6L1518.8 1208.4L1525.6 1204.6L1490.8 1193.8L1513.9 1222L1514.9 1214.2L1528.5 1223.4Z"/>
</g>
<rect x="296.3" y="293.7" width="1471.2" height="928.6" fill="none" stroke="#000" stroke-width="3.33"/>
<text x="1031.5" y="211" font-size="50" text-anchor="middle">WS-10m(kmph) @ 20251017_18</text>
<text x="1031.5" y="268.6" font-size="50" text-anchor="middle">Simulation Time: 20251015_12</text>
<text x="321" y="1276.4" font-size="41.67" text-anchor="middle">42°E</text>
<text x="510.8" y="1276.4" font-size="41.67" text-anchor="middle">43.5°E</text>
<text x="700.6" y="1276.4" font-size="41.67" text-anchor="middle">45°E</text>
<text x="890.5" y="1276.4" font-size="41.67" text-anchor="middle">46.5°E</text>
<text x="1080.3" y="1276.4" font-size="41.67" text-anchor="middle">48°E</text>
<text x="1270.1" y="1276.4" font-size="41.67" text-anchor="middle">49.5°E</text>
<text x="1460" y="1276.4" font-size="41.67" text-anchor="middle">51°E</text>
<text x="1649.8" y="1276.4" font-size="41.67" text-anchor="middle">52.5°E</text>
<text x="276.5" y="1123.5" font-size="41.67" text-anchor="end">13°N</text>
<text x="276.5" y="997" font-size="41.67" text-anchor="end">14°N</text>
<text x="276.5" y="870.4" font-size="41.67" text-anchor="end">15°N</text>
<text x="276.5" y="743.8" font-size="41.67" text-anchor="end">16°N</text>
<text x="276.5" y="617.3" font-size="41.67" text-anchor="end">17°N</text>
<text x="276.5" y="490.8" font-size="41.67" text-anchor="end">18°N</text>
<text x="276.5" y="364.2" font-size="41.67" text-anchor="end">19°N</text>
<rect x="1858.4" y="1177.4" width="58.2" height="157.5" fill="#fcfed3"/>
<rect x="1858.4" y="1020.4" width="58.2" height="157.5" fill="#f3fabd"/>
<rect x="1858.4" y="863.4" width="58.2" height="157.5" fill="#d1edb3"/>
<rect x="1858.4" y="706.4" width="58.2" height="157.5" fill="#76cabc"/>
<rect x="1858.4" y="549.4" width="58.2" height="157.5" fill="#2ea3c2"/>
<rect x="1858.4" y="392.4" width="58.2" height="157.5" fill="#2262aa"/>
<rect x="1858.4" y="235.4" width="58.2" height="157.5" fill="#1c2d81"/>
<path d="M1858.4 235.4L1887.5 180.3L1916.6 235.4Z" fill="#081d58"/>
<path d="M1858.4 1334.4V235.4L1887.5 180.3L1916.6 235.4V1334.4Z" fill="none" stroke="#000" stroke-width="3.33" stroke-linejoin="miter"/>
<path d="M1918.3 1334.4h14.6" stroke="#000" stroke-width="3.33"/>
<text x="1945.6" y="1349.4" font-size="41.67">5</text>
<path d="M1918.3 1177.4h14.6" stroke="#000" stroke-width="3.33"/>
<text x="1945.6" y="1192.4" font-size="41.67">10</text>
<path d="M1918.3 1020.4h14.6" stroke="#000" stroke-width="3.33"/>
<text x="1945.6" y="1035.4" font-size="41.67">20</text>
<path d="M1918.3 863.4h14.6" stroke="#000" stroke-width="3.33"/>
<text x="1945.6" y="878.4" font-size="41.67">40</text>
<path d="M1918.3 706.4h14.6" stroke="#000" stroke-width="3.33"/>
<text x="1945.6" y="721.4" font-size="41.67">60</text>
<path d="M1918.3 549.4h14.6" stroke="#000" stroke-width="3.33"/>
<text x="1945.6" y="564.4" font-size="41.67">80</text>
<path d="M1918.3 392.4h14.6" stroke="#000" stroke-width="3.33"/>
<text x="1945.6" y="407.4" font-size="41.67">100</text>
<path d="M1918.3 235.4h14.6" stroke="#000" stroke-width="3.33"/>
<text x="1945.6" y="250.4" font-size="41.67">120</text>
</svg>
</body></html>
